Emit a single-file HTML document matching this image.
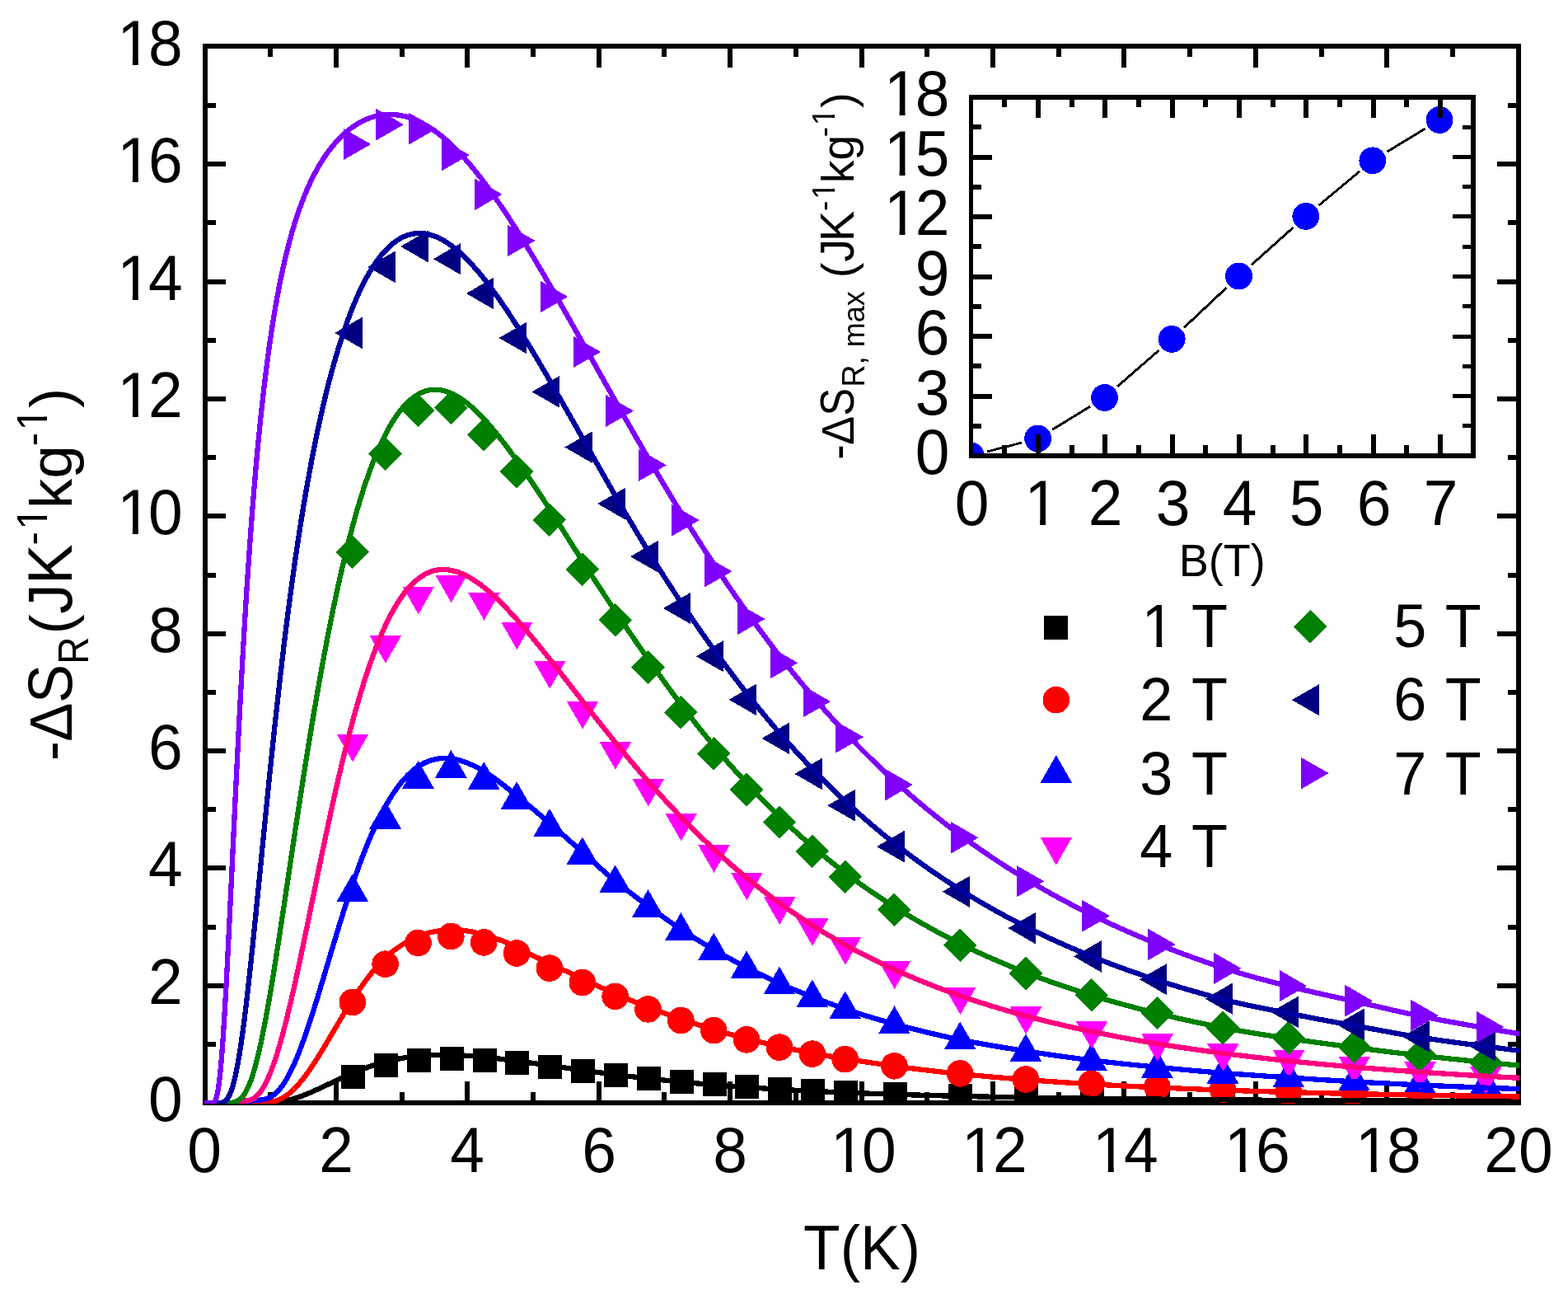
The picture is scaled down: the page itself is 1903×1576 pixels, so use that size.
<!DOCTYPE html>
<html lang="en"><head><meta charset="utf-8"><title>Rotating magnetocaloric effect: -ΔS_R vs T</title>
<style>html,body{margin:0;padding:0;background:#fff;}svg{display:block;}text{font-family:'Liberation Sans', sans-serif;fill:#000;}</style>
</head><body>
<svg width="1903" height="1576" viewBox="0 0 1903 1576" role="img" aria-label="Rotating magnetocaloric entropy change versus temperature">
<rect x="0" y="0" width="1903" height="1576" fill="#ffffff"/>
<g id="main-axes" shape-rendering="crispEdges" fill="#000">
<rect x="246" y="53" width="1600" height="6"/>
<rect x="246" y="1335" width="1600" height="6"/>
<rect x="246" y="53" width="6" height="1288"/>
<rect x="1840" y="53" width="6" height="1288"/>
<rect x="325" y="56" width="6" height="13"/>
<rect x="325" y="1325" width="6" height="13"/>
<rect x="405" y="56" width="6" height="26"/>
<rect x="405" y="1312" width="6" height="26"/>
<rect x="485" y="56" width="6" height="13"/>
<rect x="485" y="1325" width="6" height="13"/>
<rect x="564" y="56" width="6" height="26"/>
<rect x="564" y="1312" width="6" height="26"/>
<rect x="644" y="56" width="6" height="13"/>
<rect x="644" y="1325" width="6" height="13"/>
<rect x="724" y="56" width="6" height="26"/>
<rect x="724" y="1312" width="6" height="26"/>
<rect x="803" y="56" width="6" height="13"/>
<rect x="803" y="1325" width="6" height="13"/>
<rect x="883" y="56" width="6" height="26"/>
<rect x="883" y="1312" width="6" height="26"/>
<rect x="963" y="56" width="6" height="13"/>
<rect x="963" y="1325" width="6" height="13"/>
<rect x="1043" y="56" width="6" height="26"/>
<rect x="1043" y="1312" width="6" height="26"/>
<rect x="1122" y="56" width="6" height="13"/>
<rect x="1122" y="1325" width="6" height="13"/>
<rect x="1202" y="56" width="6" height="26"/>
<rect x="1202" y="1312" width="6" height="26"/>
<rect x="1282" y="56" width="6" height="13"/>
<rect x="1282" y="1325" width="6" height="13"/>
<rect x="1361" y="56" width="6" height="26"/>
<rect x="1361" y="1312" width="6" height="26"/>
<rect x="1441" y="56" width="6" height="13"/>
<rect x="1441" y="1325" width="6" height="13"/>
<rect x="1521" y="56" width="6" height="26"/>
<rect x="1521" y="1312" width="6" height="26"/>
<rect x="1601" y="56" width="6" height="13"/>
<rect x="1601" y="1325" width="6" height="13"/>
<rect x="1680" y="56" width="6" height="26"/>
<rect x="1680" y="1312" width="6" height="26"/>
<rect x="1760" y="56" width="6" height="13"/>
<rect x="1760" y="1325" width="6" height="13"/>
<rect x="249" y="1264" width="13" height="6"/>
<rect x="1830" y="1264" width="13" height="6"/>
<rect x="249" y="1193" width="25" height="6"/>
<rect x="1817" y="1193" width="26" height="6"/>
<rect x="249" y="1122" width="13" height="6"/>
<rect x="1830" y="1122" width="13" height="6"/>
<rect x="249" y="1050" width="25" height="6"/>
<rect x="1817" y="1050" width="26" height="6"/>
<rect x="249" y="979" width="13" height="6"/>
<rect x="1830" y="979" width="13" height="6"/>
<rect x="249" y="908" width="25" height="6"/>
<rect x="1817" y="908" width="26" height="6"/>
<rect x="249" y="837" width="13" height="6"/>
<rect x="1830" y="837" width="13" height="6"/>
<rect x="249" y="766" width="25" height="6"/>
<rect x="1817" y="766" width="26" height="6"/>
<rect x="249" y="695" width="13" height="6"/>
<rect x="1830" y="695" width="13" height="6"/>
<rect x="249" y="623" width="25" height="6"/>
<rect x="1817" y="623" width="26" height="6"/>
<rect x="249" y="552" width="13" height="6"/>
<rect x="1830" y="552" width="13" height="6"/>
<rect x="249" y="481" width="25" height="6"/>
<rect x="1817" y="481" width="26" height="6"/>
<rect x="249" y="410" width="13" height="6"/>
<rect x="1830" y="410" width="13" height="6"/>
<rect x="249" y="339" width="25" height="6"/>
<rect x="1817" y="339" width="26" height="6"/>
<rect x="249" y="267" width="13" height="6"/>
<rect x="1830" y="267" width="13" height="6"/>
<rect x="249" y="196" width="25" height="6"/>
<rect x="1817" y="196" width="26" height="6"/>
<rect x="249" y="125" width="13" height="6"/>
<rect x="1830" y="125" width="13" height="6"/>
</g>
<defs><clipPath id="clipI"><rect x="1181" y="121" width="604" height="429"/></clipPath>
<clipPath id="clipM"><rect x="248" y="55" width="1596" height="1284"/></clipPath></defs>
<g id="inset-data" clip-path="url(#clipI)" shape-rendering="crispEdges">
<line x1="1198.35" y1="547.86" x2="1239.75" y2="537.14" stroke="#000" stroke-width="2.9"/>
<line x1="1277.08" y1="521.29" x2="1323.12" y2="493.11" stroke="#000" stroke-width="2.9"/>
<line x1="1356.07" y1="468.94" x2="1406.73" y2="424.86" stroke="#000" stroke-width="2.9"/>
<line x1="1437.14" y1="397.36" x2="1488.56" y2="349.04" stroke="#000" stroke-width="2.9"/>
<line x1="1518.79" y1="321.35" x2="1569.51" y2="276.05" stroke="#000" stroke-width="2.9"/>
<line x1="1600.54" y1="249.26" x2="1650.06" y2="207.94" stroke="#000" stroke-width="2.9"/>
<line x1="1683.33" y1="184.17" x2="1729.57" y2="156.13" stroke="#000" stroke-width="2.9"/>
<circle cx="1178.5" cy="553" r="16.4" fill="#0000ff"/>
<circle cx="1259.6" cy="532" r="16.4" fill="#0000ff"/>
<circle cx="1340.6" cy="482.4" r="16.4" fill="#0000ff"/>
<circle cx="1422.2" cy="411.4" r="16.4" fill="#0000ff"/>
<circle cx="1503.5" cy="335" r="16.4" fill="#0000ff"/>
<circle cx="1584.8" cy="262.4" r="16.4" fill="#0000ff"/>
<circle cx="1665.8" cy="194.8" r="16.4" fill="#0000ff"/>
<circle cx="1747.1" cy="145.5" r="16.4" fill="#0000ff"/>
</g>
<g id="inset-axes" shape-rendering="crispEdges" fill="#000">
<rect x="1176" y="115" width="615" height="6"/>
<rect x="1176" y="550" width="615" height="6"/>
<rect x="1176" y="115" width="5" height="441"/>
<rect x="1785" y="115" width="6" height="441"/>
<rect x="1216" y="118" width="6" height="12"/>
<rect x="1216" y="540" width="6" height="13"/>
<rect x="1257" y="118" width="6" height="25"/>
<rect x="1257" y="527" width="6" height="26"/>
<rect x="1298" y="118" width="6" height="12"/>
<rect x="1298" y="540" width="6" height="13"/>
<rect x="1338" y="118" width="6" height="25"/>
<rect x="1338" y="527" width="6" height="26"/>
<rect x="1379" y="118" width="6" height="12"/>
<rect x="1379" y="540" width="6" height="13"/>
<rect x="1420" y="118" width="6" height="25"/>
<rect x="1420" y="527" width="6" height="26"/>
<rect x="1460" y="118" width="6" height="12"/>
<rect x="1460" y="540" width="6" height="13"/>
<rect x="1501" y="118" width="6" height="25"/>
<rect x="1501" y="527" width="6" height="26"/>
<rect x="1542" y="118" width="6" height="12"/>
<rect x="1542" y="540" width="6" height="13"/>
<rect x="1582" y="118" width="6" height="25"/>
<rect x="1582" y="527" width="6" height="26"/>
<rect x="1623" y="118" width="6" height="12"/>
<rect x="1623" y="540" width="6" height="13"/>
<rect x="1664" y="118" width="6" height="25"/>
<rect x="1664" y="527" width="6" height="26"/>
<rect x="1704" y="118" width="6" height="12"/>
<rect x="1704" y="540" width="6" height="13"/>
<rect x="1745" y="118" width="6" height="25"/>
<rect x="1745" y="527" width="6" height="26"/>
<rect x="1178" y="514" width="13" height="5.6"/>
<rect x="1775" y="514" width="13" height="5"/>
<rect x="1178" y="478" width="25.5" height="5.6"/>
<rect x="1763" y="478" width="25" height="5"/>
<rect x="1178" y="441" width="13" height="5.6"/>
<rect x="1775" y="442" width="13" height="5"/>
<rect x="1178" y="405" width="25.5" height="5.6"/>
<rect x="1763" y="406" width="25" height="5"/>
<rect x="1178" y="369" width="13" height="5.6"/>
<rect x="1775" y="369" width="13" height="5"/>
<rect x="1178" y="333" width="25.5" height="5.6"/>
<rect x="1763" y="333" width="25" height="5"/>
<rect x="1178" y="296" width="13" height="5.6"/>
<rect x="1775" y="297" width="13" height="5"/>
<rect x="1178" y="260" width="25.5" height="5.6"/>
<rect x="1763" y="260" width="25" height="5"/>
<rect x="1178" y="224" width="13" height="5.6"/>
<rect x="1775" y="224" width="13" height="5"/>
<rect x="1178" y="188" width="25.5" height="5.6"/>
<rect x="1763" y="188" width="25" height="5"/>
<rect x="1178" y="151" width="13" height="5.6"/>
<rect x="1775" y="152" width="13" height="5"/>
</g>
<g id="main-data" clip-path="url(#clipM)" shape-rendering="crispEdges">
<g id="m1T">
<rect x="414.07" y="1291.9" width="29" height="29" fill="#000000"/>
<rect x="453.93" y="1277.8" width="29" height="29" fill="#000000"/>
<rect x="493.79" y="1271.9" width="29" height="29" fill="#000000"/>
<rect x="533.65" y="1270" width="29" height="29" fill="#000000"/>
<rect x="573.51" y="1271.9" width="29" height="29" fill="#000000"/>
<rect x="613.37" y="1274.8" width="29" height="29" fill="#000000"/>
<rect x="653.23" y="1280" width="29" height="29" fill="#000000"/>
<rect x="693.09" y="1284.8" width="29" height="29" fill="#000000"/>
<rect x="732.95" y="1290.1" width="29" height="29" fill="#000000"/>
<rect x="772.81" y="1293.8" width="29" height="29" fill="#000000"/>
<rect x="812.67" y="1298" width="29" height="29" fill="#000000"/>
<rect x="852.53" y="1301" width="29" height="29" fill="#000000"/>
<rect x="892.39" y="1304" width="29" height="29" fill="#000000"/>
<rect x="932.25" y="1306.9" width="29" height="29" fill="#000000"/>
<rect x="972.11" y="1309" width="29" height="29" fill="#000000"/>
<rect x="1011.97" y="1311" width="29" height="29" fill="#000000"/>
<rect x="1071.76" y="1312.8" width="29" height="29" fill="#000000"/>
<rect x="1151.48" y="1314.9" width="29" height="29" fill="#000000"/>
<rect x="1231.2" y="1316.5" width="29" height="29" fill="#000000"/>
<rect x="1310.92" y="1317.7" width="29" height="29" fill="#000000"/>
<rect x="1390.64" y="1318.7" width="29" height="29" fill="#000000"/>
<rect x="1470.36" y="1319.5" width="29" height="29" fill="#000000"/>
<rect x="1550.08" y="1320.1" width="29" height="29" fill="#000000"/>
<rect x="1629.8" y="1320.6" width="29" height="29" fill="#000000"/>
<rect x="1709.52" y="1321" width="29" height="29" fill="#000000"/>
<rect x="1789.24" y="1321.3" width="29" height="29" fill="#000000"/>
</g>
<g id="m2T">
<circle cx="427.77" cy="1216" r="16.3" fill="#ff0000"/>
<circle cx="467.63" cy="1169.7" r="16.3" fill="#ff0000"/>
<circle cx="507.49" cy="1144" r="16.3" fill="#ff0000"/>
<circle cx="547.35" cy="1136" r="16.3" fill="#ff0000"/>
<circle cx="587.21" cy="1143.4" r="16.3" fill="#ff0000"/>
<circle cx="627.07" cy="1156.5" r="16.3" fill="#ff0000"/>
<circle cx="666.93" cy="1174.6" r="16.3" fill="#ff0000"/>
<circle cx="706.79" cy="1192" r="16.3" fill="#ff0000"/>
<circle cx="746.65" cy="1208.8" r="16.3" fill="#ff0000"/>
<circle cx="786.51" cy="1224.4" r="16.3" fill="#ff0000"/>
<circle cx="826.37" cy="1238" r="16.3" fill="#ff0000"/>
<circle cx="866.23" cy="1250.2" r="16.3" fill="#ff0000"/>
<circle cx="906.09" cy="1261.4" r="16.3" fill="#ff0000"/>
<circle cx="945.95" cy="1270.6" r="16.3" fill="#ff0000"/>
<circle cx="985.81" cy="1278.6" r="16.3" fill="#ff0000"/>
<circle cx="1025.67" cy="1285.1" r="16.3" fill="#ff0000"/>
<circle cx="1085.46" cy="1293.3" r="16.3" fill="#ff0000"/>
<circle cx="1165.18" cy="1302.4" r="16.3" fill="#ff0000"/>
<circle cx="1244.9" cy="1309.5" r="16.3" fill="#ff0000"/>
<circle cx="1324.62" cy="1314.8" r="16.3" fill="#ff0000"/>
<circle cx="1404.34" cy="1318.5" r="16.3" fill="#ff0000"/>
<circle cx="1484.06" cy="1321.7" r="16.3" fill="#ff0000"/>
<circle cx="1563.78" cy="1324.5" r="16.3" fill="#ff0000"/>
<circle cx="1643.5" cy="1326.5" r="16.3" fill="#ff0000"/>
<circle cx="1723.22" cy="1328" r="16.3" fill="#ff0000"/>
<circle cx="1802.94" cy="1329.5" r="16.3" fill="#ff0000"/>
</g>
<g id="m3T">
<polygon points="408.47,1093.8 447.07,1093.8 427.77,1060.2" fill="#0000ff"/>
<polygon points="448.33,1005.5 486.93,1005.5 467.63,971.9" fill="#0000ff"/>
<polygon points="488.19,956.5 526.79,956.5 507.49,922.9" fill="#0000ff"/>
<polygon points="528.05,943.5 566.65,943.5 547.35,909.9" fill="#0000ff"/>
<polygon points="567.91,957.6 606.51,957.6 587.21,924" fill="#0000ff"/>
<polygon points="607.77,981.7 646.37,981.7 627.07,948.1" fill="#0000ff"/>
<polygon points="647.63,1014.6 686.23,1014.6 666.93,981" fill="#0000ff"/>
<polygon points="687.49,1048.9 726.09,1048.9 706.79,1015.3" fill="#0000ff"/>
<polygon points="727.35,1082.9 765.95,1082.9 746.65,1049.3" fill="#0000ff"/>
<polygon points="767.21,1112.7 805.81,1112.7 786.51,1079.1" fill="#0000ff"/>
<polygon points="807.07,1140.8 845.67,1140.8 826.37,1107.2" fill="#0000ff"/>
<polygon points="846.93,1165.3 885.53,1165.3 866.23,1131.7" fill="#0000ff"/>
<polygon points="886.79,1186.9 925.39,1186.9 906.09,1153.3" fill="#0000ff"/>
<polygon points="926.65,1206.3 965.25,1206.3 945.95,1172.7" fill="#0000ff"/>
<polygon points="966.51,1222.1 1005.11,1222.1 985.81,1188.5" fill="#0000ff"/>
<polygon points="1006.37,1236.1 1044.97,1236.1 1025.67,1202.5" fill="#0000ff"/>
<polygon points="1066.16,1254 1104.76,1254 1085.46,1220.4" fill="#0000ff"/>
<polygon points="1145.88,1273.1 1184.48,1273.1 1165.18,1239.5" fill="#0000ff"/>
<polygon points="1225.6,1287.8 1264.2,1287.8 1244.9,1254.2" fill="#0000ff"/>
<polygon points="1305.32,1299.2 1343.92,1299.2 1324.62,1265.6" fill="#0000ff"/>
<polygon points="1385.04,1307.7 1423.64,1307.7 1404.34,1274.1" fill="#0000ff"/>
<polygon points="1464.76,1314.5 1503.36,1314.5 1484.06,1280.9" fill="#0000ff"/>
<polygon points="1544.48,1319.2 1583.08,1319.2 1563.78,1285.6" fill="#0000ff"/>
<polygon points="1624.2,1323.4 1662.8,1323.4 1643.5,1289.8" fill="#0000ff"/>
<polygon points="1703.92,1326.2 1742.52,1326.2 1723.22,1292.6" fill="#0000ff"/>
<polygon points="1783.64,1327.7 1822.24,1327.7 1802.94,1294.1" fill="#0000ff"/>
</g>
<g id="m4T">
<polygon points="408.77,890.7 447.37,890.7 428.07,924.3" fill="#ff00ff"/>
<polygon points="448.63,771.1 487.23,771.1 467.93,804.7" fill="#ff00ff"/>
<polygon points="488.49,711.7 527.09,711.7 507.79,745.3" fill="#ff00ff"/>
<polygon points="528.35,697.6 566.95,697.6 547.65,731.2" fill="#ff00ff"/>
<polygon points="568.21,719 606.81,719 587.51,752.6" fill="#ff00ff"/>
<polygon points="608.07,754.5 646.67,754.5 627.37,788.1" fill="#ff00ff"/>
<polygon points="647.93,802.1 686.53,802.1 667.23,835.7" fill="#ff00ff"/>
<polygon points="687.79,850.9 726.39,850.9 707.09,884.5" fill="#ff00ff"/>
<polygon points="727.65,900.1 766.25,900.1 746.95,933.7" fill="#ff00ff"/>
<polygon points="767.51,944.8 806.11,944.8 786.81,978.4" fill="#ff00ff"/>
<polygon points="807.37,986.8 845.97,986.8 826.67,1020.4" fill="#ff00ff"/>
<polygon points="847.23,1025.1 885.83,1025.1 866.53,1058.7" fill="#ff00ff"/>
<polygon points="887.09,1058.8 925.69,1058.8 906.39,1092.4" fill="#ff00ff"/>
<polygon points="926.95,1088.2 965.55,1088.2 946.25,1121.8" fill="#ff00ff"/>
<polygon points="966.81,1114.3 1005.41,1114.3 986.11,1147.9" fill="#ff00ff"/>
<polygon points="1006.67,1137.1 1045.27,1137.1 1025.97,1170.7" fill="#ff00ff"/>
<polygon points="1066.46,1166.4 1105.06,1166.4 1085.76,1200" fill="#ff00ff"/>
<polygon points="1146.18,1197.5 1184.78,1197.5 1165.48,1231.1" fill="#ff00ff"/>
<polygon points="1225.9,1221.2 1264.5,1221.2 1245.2,1254.8" fill="#ff00ff"/>
<polygon points="1305.62,1239.1 1344.22,1239.1 1324.92,1272.7" fill="#ff00ff"/>
<polygon points="1385.34,1254.2 1423.94,1254.2 1404.64,1287.8" fill="#ff00ff"/>
<polygon points="1465.06,1266.2 1503.66,1266.2 1484.36,1299.8" fill="#ff00ff"/>
<polygon points="1544.78,1274.2 1583.38,1274.2 1564.08,1307.8" fill="#ff00ff"/>
<polygon points="1624.5,1282 1663.1,1282 1643.8,1315.6" fill="#ff00ff"/>
<polygon points="1704.22,1288.2 1742.82,1288.2 1723.52,1321.8" fill="#ff00ff"/>
<polygon points="1783.94,1294 1822.54,1294 1803.24,1327.6" fill="#ff00ff"/>
</g>
<g id="m5T">
<polygon points="407.47,669.6 427.77,649.3 448.07,669.6 427.77,689.9" fill="#008000"/>
<polygon points="447.33,550.4 467.63,530.1 487.93,550.4 467.63,570.7" fill="#008000"/>
<polygon points="487.19,497.9 507.49,477.6 527.79,497.9 507.49,518.2" fill="#008000"/>
<polygon points="527.05,494.7 547.35,474.4 567.65,494.7 547.35,515" fill="#008000"/>
<polygon points="566.91,527.1 587.21,506.8 607.51,527.1 587.21,547.4" fill="#008000"/>
<polygon points="606.77,572.2 627.07,551.9 647.37,572.2 627.07,592.5" fill="#008000"/>
<polygon points="646.63,630.7 666.93,610.4 687.23,630.7 666.93,651" fill="#008000"/>
<polygon points="686.49,690.9 706.79,670.6 727.09,690.9 706.79,711.2" fill="#008000"/>
<polygon points="726.35,752.2 746.65,731.9 766.95,752.2 746.65,772.5" fill="#008000"/>
<polygon points="766.21,809.5 786.51,789.2 806.81,809.5 786.51,829.8" fill="#008000"/>
<polygon points="806.07,864.1 826.37,843.8 846.67,864.1 826.37,884.4" fill="#008000"/>
<polygon points="845.93,914.1 866.23,893.8 886.53,914.1 866.23,934.4" fill="#008000"/>
<polygon points="885.79,958.1 906.09,937.8 926.39,958.1 906.09,978.4" fill="#008000"/>
<polygon points="925.65,997.6 945.95,977.3 966.25,997.6 945.95,1017.9" fill="#008000"/>
<polygon points="965.51,1032.9 985.81,1012.6 1006.11,1032.9 985.81,1053.2" fill="#008000"/>
<polygon points="1005.37,1063.8 1025.67,1043.5 1045.97,1063.8 1025.67,1084.1" fill="#008000"/>
<polygon points="1065.16,1103.8 1085.46,1083.5 1105.76,1103.8 1085.46,1124.1" fill="#008000"/>
<polygon points="1144.88,1146.8 1165.18,1126.5 1185.48,1146.8 1165.18,1167.1" fill="#008000"/>
<polygon points="1224.6,1180.9 1244.9,1160.6 1265.2,1180.9 1244.9,1201.2" fill="#008000"/>
<polygon points="1304.32,1207.1 1324.62,1186.8 1344.92,1207.1 1324.62,1227.4" fill="#008000"/>
<polygon points="1384.04,1229 1404.34,1208.7 1424.64,1229 1404.34,1249.3" fill="#008000"/>
<polygon points="1463.76,1247.1 1484.06,1226.8 1504.36,1247.1 1484.06,1267.4" fill="#008000"/>
<polygon points="1543.48,1259.1 1563.78,1238.8 1584.08,1259.1 1563.78,1279.4" fill="#008000"/>
<polygon points="1623.2,1270.2 1643.5,1249.9 1663.8,1270.2 1643.5,1290.5" fill="#008000"/>
<polygon points="1702.92,1280.3 1723.22,1260 1743.52,1280.3 1723.22,1300.6" fill="#008000"/>
<polygon points="1782.64,1288.8 1802.94,1268.5 1823.24,1288.8 1802.94,1309.1" fill="#008000"/>
</g>
<g id="m6T">
<polygon points="439.87,384.7 439.87,423.3 406.27,404" fill="#000080"/>
<polygon points="479.73,304.6 479.73,343.2 446.13,323.9" fill="#000080"/>
<polygon points="519.59,279.7 519.59,318.3 485.99,299" fill="#000080"/>
<polygon points="559.45,294.9 559.45,333.5 525.85,314.2" fill="#000080"/>
<polygon points="599.31,336.7 599.31,375.3 565.71,356" fill="#000080"/>
<polygon points="639.17,390.7 639.17,429.3 605.57,410" fill="#000080"/>
<polygon points="679.03,456.1 679.03,494.7 645.43,475.4" fill="#000080"/>
<polygon points="718.89,523.3 718.89,561.9 685.29,542.6" fill="#000080"/>
<polygon points="758.75,591.8 758.75,630.4 725.15,611.1" fill="#000080"/>
<polygon points="798.61,655.9 798.61,694.5 765.01,675.2" fill="#000080"/>
<polygon points="838.47,718.7 838.47,757.3 804.87,738" fill="#000080"/>
<polygon points="878.33,776.9 878.33,815.5 844.73,796.2" fill="#000080"/>
<polygon points="918.19,829.6 918.19,868.2 884.59,848.9" fill="#000080"/>
<polygon points="958.05,876.5 958.05,915.1 924.45,895.8" fill="#000080"/>
<polygon points="997.91,919.6 997.91,958.2 964.31,938.9" fill="#000080"/>
<polygon points="1037.77,957.9 1037.77,996.5 1004.17,977.2" fill="#000080"/>
<polygon points="1097.56,1007.8 1097.56,1046.4 1063.96,1027.1" fill="#000080"/>
<polygon points="1177.28,1062.5 1177.28,1101.1 1143.68,1081.8" fill="#000080"/>
<polygon points="1257,1106.8 1257,1145.4 1223.4,1126.1" fill="#000080"/>
<polygon points="1336.72,1141.1 1336.72,1179.7 1303.12,1160.4" fill="#000080"/>
<polygon points="1416.44,1168.9 1416.44,1207.5 1382.84,1188.2" fill="#000080"/>
<polygon points="1496.16,1192.4 1496.16,1231 1462.56,1211.7" fill="#000080"/>
<polygon points="1575.88,1208.6 1575.88,1247.2 1542.28,1227.9" fill="#000080"/>
<polygon points="1655.6,1223.6 1655.6,1262.2 1622,1242.9" fill="#000080"/>
<polygon points="1735.32,1238.3 1735.32,1276.9 1701.72,1257.6" fill="#000080"/>
<polygon points="1815.04,1249 1815.04,1287.6 1781.44,1268.3" fill="#000080"/>
</g>
<g id="m7T">
<polygon points="416.57,155.7 416.57,194.3 450.17,175" fill="#8000ff"/>
<polygon points="456.43,131.8 456.43,170.4 490.03,151.1" fill="#8000ff"/>
<polygon points="496.29,136.9 496.29,175.5 529.89,156.2" fill="#8000ff"/>
<polygon points="536.15,168.7 536.15,207.3 569.75,188" fill="#8000ff"/>
<polygon points="576.01,216.5 576.01,255.1 609.61,235.8" fill="#8000ff"/>
<polygon points="615.87,272.7 615.87,311.3 649.47,292" fill="#8000ff"/>
<polygon points="655.73,340.7 655.73,379.3 689.33,360" fill="#8000ff"/>
<polygon points="695.59,407.7 695.59,446.3 729.19,427" fill="#8000ff"/>
<polygon points="735.45,479.2 735.45,517.8 769.05,498.5" fill="#8000ff"/>
<polygon points="775.31,545.1 775.31,583.7 808.91,564.4" fill="#8000ff"/>
<polygon points="815.17,611.9 815.17,650.5 848.77,631.2" fill="#8000ff"/>
<polygon points="855.03,673.9 855.03,712.5 888.63,693.2" fill="#8000ff"/>
<polygon points="894.89,731.7 894.89,770.3 928.49,751" fill="#8000ff"/>
<polygon points="934.75,784.9 934.75,823.5 968.35,804.2" fill="#8000ff"/>
<polygon points="974.61,831.8 974.61,870.4 1008.21,851.1" fill="#8000ff"/>
<polygon points="1014.47,874.9 1014.47,913.5 1048.07,894.2" fill="#8000ff"/>
<polygon points="1074.26,932.8 1074.26,971.4 1107.86,952.1" fill="#8000ff"/>
<polygon points="1153.98,997 1153.98,1035.6 1187.58,1016.3" fill="#8000ff"/>
<polygon points="1233.7,1049.9 1233.7,1088.5 1267.3,1069.2" fill="#8000ff"/>
<polygon points="1313.42,1091.9 1313.42,1130.5 1347.02,1111.2" fill="#8000ff"/>
<polygon points="1393.14,1126.6 1393.14,1165.2 1426.74,1145.9" fill="#8000ff"/>
<polygon points="1472.86,1155.6 1472.86,1194.2 1506.46,1174.9" fill="#8000ff"/>
<polygon points="1552.58,1176.8 1552.58,1215.4 1586.18,1196.1" fill="#8000ff"/>
<polygon points="1632.3,1194.9 1632.3,1233.5 1665.9,1214.2" fill="#8000ff"/>
<polygon points="1712.02,1212.7 1712.02,1251.3 1745.62,1232" fill="#8000ff"/>
<polygon points="1791.74,1226.8 1791.74,1265.4 1825.34,1246.1" fill="#8000ff"/>
</g>
<path id="c1T" d="M248.4 1338.2 L250.4 1338.2 L252.41 1338.2 L254.41 1338.2 L256.41 1338.2 L258.42 1338.2 L260.42 1338.2 L262.42 1338.2 L264.43 1338.2 L266.43 1338.2 L268.43 1338.2 L270.44 1338.2 L272.44 1338.2 L274.45 1338.2 L276.45 1338.2 L278.45 1338.2 L280.46 1338.21 L282.46 1338.21 L284.46 1338.22 L286.47 1338.23 L288.47 1338.25 L290.47 1338.27 L292.48 1338.3 L294.48 1338.34 L296.48 1338.38 L298.49 1338.43 L300.49 1338.48 L302.49 1338.53 L304.5 1338.59 L306.5 1338.64 L308.5 1338.69 L310.51 1338.73 L312.51 1338.76 L314.51 1338.78 L316.52 1338.78 L318.52 1338.76 L320.52 1338.73 L322.53 1338.67 L324.53 1338.59 L326.54 1338.48 L328.54 1338.34 L330.54 1338.17 L332.55 1337.97 L334.55 1337.74 L336.55 1337.47 L338.56 1337.17 L340.56 1336.84 L342.56 1336.47 L344.57 1336.07 L346.57 1335.63 L348.57 1335.16 L350.58 1334.65 L352.58 1334.11 L354.58 1333.54 L356.59 1332.94 L358.59 1332.31 L360.59 1331.65 L362.6 1330.96 L364.6 1330.25 L366.6 1329.51 L368.61 1328.75 L370.61 1327.96 L372.61 1327.16 L374.62 1326.33 L376.62 1325.49 L378.63 1324.63 L380.63 1323.75 L382.63 1322.86 L384.64 1321.96 L386.64 1321.05 L388.64 1320.13 L390.65 1319.2 L392.65 1318.27 L394.65 1317.33 L396.66 1316.39 L398.66 1315.44 L400.66 1314.5 L402.67 1313.55 L404.67 1312.61 L406.67 1311.67 L408.68 1310.73 L410.68 1309.8 L412.68 1308.87 L414.69 1307.95 L416.69 1307.04 L418.69 1306.13 L420.7 1305.24 L422.7 1304.36 L424.7 1303.48 L426.71 1302.62 L428.71 1301.77 L430.72 1300.93 L432.72 1300.11 L434.72 1299.3 L436.73 1298.51 L438.73 1297.73 L440.73 1296.96 L442.74 1296.21 L444.74 1295.48 L446.74 1294.76 L448.75 1294.06 L450.75 1293.38 L452.75 1292.71 L454.76 1292.06 L456.76 1291.43 L458.76 1290.82 L460.77 1290.22 L462.77 1289.64 L464.77 1289.08 L466.78 1288.53 L468.78 1288.01 L470.78 1287.5 L472.79 1287.01 L474.79 1286.54 L476.8 1286.08 L478.8 1285.65 L480.8 1285.23 L482.81 1284.82 L484.81 1284.44 L486.81 1284.07 L488.82 1283.72 L490.82 1283.38 L492.82 1283.07 L494.83 1282.76 L496.83 1282.48 L498.83 1282.21 L500.84 1281.96 L502.84 1281.72 L504.84 1281.49 L506.85 1281.29 L508.85 1281.09 L510.85 1280.92 L512.86 1280.75 L514.86 1280.6 L516.86 1280.47 L518.87 1280.34 L520.87 1280.24 L522.87 1280.14 L524.88 1280.06 L526.88 1279.99 L528.89 1279.93 L530.89 1279.88 L532.89 1279.85 L534.9 1279.83 L536.9 1279.82 L538.9 1279.82 L540.91 1279.83 L542.91 1279.85 L544.91 1279.88 L546.92 1279.93 L548.92 1279.98 L550.92 1280.04 L552.93 1280.11 L554.93 1280.19 L556.93 1280.28 L558.94 1280.38 L560.94 1280.48 L562.94 1280.59 L564.95 1280.72 L566.95 1280.84 L568.95 1280.98 L570.96 1281.12 L572.96 1281.27 L574.96 1281.43 L576.97 1281.59 L578.97 1281.76 L580.98 1281.94 L582.98 1282.12 L584.98 1282.31 L586.99 1282.5 L588.99 1282.7 L590.99 1282.9 L593 1283.11 L595 1283.33 L597 1283.54 L599.01 1283.76 L601.01 1283.99 L603.01 1284.22 L605.02 1284.45 L607.02 1284.69 L609.02 1284.93 L611.03 1285.18 L613.03 1285.42 L615.03 1285.67 L617.04 1285.93 L619.04 1286.18 L621.04 1286.44 L623.05 1286.7 L625.05 1286.97 L627.06 1287.23 L629.06 1287.5 L631.06 1287.77 L633.07 1288.04 L635.07 1288.32 L637.07 1288.59 L639.08 1288.87 L641.08 1289.15 L643.08 1289.42 L645.09 1289.7 L647.09 1289.99 L649.09 1290.27 L651.1 1290.55 L653.1 1290.84 L655.1 1291.12 L657.11 1291.41 L659.11 1291.69 L661.11 1291.98 L663.12 1292.26 L665.12 1292.55 L667.12 1292.84 L669.13 1293.12 L671.13 1293.41 L673.13 1293.7 L675.14 1293.98 L677.14 1294.27 L679.15 1294.56 L681.15 1294.84 L683.15 1295.13 L685.16 1295.41 L687.16 1295.7 L689.16 1295.98 L691.17 1296.27 L693.17 1296.55 L695.17 1296.83 L697.18 1297.12 L699.18 1297.4 L701.18 1297.68 L703.19 1297.96 L705.19 1298.24 L707.19 1298.51 L709.2 1298.79 L711.2 1299.07 L713.2 1299.34 L715.21 1299.61 L717.21 1299.89 L719.21 1300.16 L721.22 1300.43 L723.22 1300.7 L725.22 1300.96 L727.23 1301.23 L729.23 1301.5 L731.24 1301.76 L733.24 1302.02 L735.24 1302.28 L737.25 1302.54 L739.25 1302.8 L741.25 1303.06 L743.26 1303.32 L745.26 1303.57 L747.26 1303.82 L749.27 1304.08 L751.27 1304.33 L753.27 1304.58 L755.28 1304.82 L757.28 1305.07 L759.28 1305.31 L761.29 1305.56 L763.29 1305.8 L765.29 1306.04 L767.3 1306.28 L769.3 1306.51 L771.3 1306.75 L773.31 1306.98 L775.31 1307.21 L777.31 1307.44 L779.32 1307.67 L781.32 1307.9 L783.33 1308.13 L785.33 1308.35 L787.33 1308.57 L789.34 1308.79 L791.34 1309.01 L793.34 1309.23 L795.35 1309.45 L797.35 1309.66 L799.35 1309.88 L801.36 1310.09 L803.36 1310.3 L805.36 1310.51 L807.37 1310.71 L809.37 1310.92 L811.37 1311.12 L813.38 1311.33 L815.38 1311.53 L817.38 1311.73 L819.39 1311.93 L821.39 1312.12 L823.39 1312.32 L825.4 1312.51 L827.4 1312.7 L829.41 1312.89 L831.41 1313.08 L833.41 1313.27 L835.42 1313.45 L837.42 1313.64 L839.42 1313.82 L841.43 1314 L843.43 1314.18 L845.43 1314.36 L847.44 1314.54 L849.44 1314.71 L851.44 1314.89 L853.45 1315.06 L855.45 1315.23 L857.45 1315.4 L859.46 1315.57 L861.46 1315.74 L863.46 1315.9 L865.47 1316.07 L867.47 1316.23 L869.47 1316.39 L871.48 1316.55 L873.48 1316.71 L875.48 1316.87 L877.49 1317.03 L879.49 1317.18 L881.5 1317.33 L883.5 1317.49 L885.5 1317.64 L887.51 1317.79 L889.51 1317.94 L891.51 1318.08 L893.52 1318.23 L895.52 1318.37 L897.52 1318.52 L899.53 1318.66 L901.53 1318.8 L903.53 1318.94 L905.54 1319.08 L907.54 1319.22 L909.54 1319.35 L911.55 1319.49 L913.55 1319.62 L915.55 1319.76 L917.56 1319.89 L919.56 1320.02 L921.56 1320.15 L923.57 1320.28 L925.57 1320.4 L927.57 1320.53 L929.58 1320.65 L931.58 1320.78 L933.59 1320.9 L935.59 1321.02 L937.59 1321.14 L939.6 1321.26 L941.6 1321.38 L943.6 1321.5 L945.61 1321.62 L947.61 1321.73 L949.61 1321.85 L951.62 1321.96 L953.62 1322.07 L955.62 1322.19 L957.63 1322.3 L959.63 1322.41 L961.63 1322.51 L963.64 1322.62 L965.64 1322.73 L967.64 1322.84 L969.65 1322.94 L971.65 1323.05 L973.65 1323.15 L975.66 1323.25 L977.66 1323.35 L979.67 1323.45 L981.67 1323.55 L983.67 1323.65 L985.68 1323.75 L987.68 1323.85 L989.68 1323.94 L991.69 1324.04 L993.69 1324.13 L995.69 1324.23 L997.7 1324.32 L999.7 1324.41 L1001.7 1324.51 L1003.71 1324.6 L1005.71 1324.69 L1007.71 1324.78 L1009.72 1324.86 L1011.72 1324.95 L1013.72 1325.04 L1015.73 1325.12 L1017.73 1325.21 L1019.73 1325.3 L1021.74 1325.38 L1023.74 1325.46 L1025.74 1325.55 L1027.75 1325.63 L1029.75 1325.71 L1031.76 1325.79 L1033.76 1325.87 L1035.76 1325.95 L1037.77 1326.03 L1039.77 1326.1 L1041.77 1326.18 L1043.78 1326.26 L1045.78 1326.33 L1047.78 1326.41 L1049.79 1326.48 L1051.79 1326.56 L1053.79 1326.63 L1055.8 1326.7 L1057.8 1326.78 L1059.8 1326.85 L1061.81 1326.92 L1063.81 1326.99 L1065.81 1327.06 L1067.82 1327.13 L1069.82 1327.2 L1071.82 1327.26 L1073.83 1327.33 L1075.83 1327.4 L1077.83 1327.47 L1079.84 1327.53 L1081.84 1327.6 L1083.85 1327.66 L1085.85 1327.73 L1087.85 1327.79 L1089.86 1327.85 L1091.86 1327.92 L1093.86 1327.98 L1095.87 1328.04 L1097.87 1328.1 L1099.87 1328.16 L1101.88 1328.22 L1103.88 1328.28 L1105.88 1328.34 L1107.89 1328.4 L1109.89 1328.46 L1111.89 1328.51 L1113.9 1328.57 L1115.9 1328.63 L1117.9 1328.68 L1119.91 1328.74 L1121.91 1328.8 L1123.91 1328.85 L1125.92 1328.91 L1127.92 1328.96 L1129.92 1329.01 L1131.93 1329.07 L1133.93 1329.12 L1135.94 1329.17 L1137.94 1329.22 L1139.94 1329.28 L1141.95 1329.33 L1143.95 1329.38 L1145.95 1329.43 L1147.96 1329.48 L1149.96 1329.53 L1151.96 1329.58 L1153.97 1329.63 L1155.97 1329.67 L1157.97 1329.72 L1159.98 1329.77 L1161.98 1329.82 L1163.98 1329.86 L1165.99 1329.91 L1167.99 1329.96 L1169.99 1330 L1172 1330.05 L1174 1330.09 L1176 1330.14 L1178.01 1330.18 L1180.01 1330.23 L1182.02 1330.27 L1184.02 1330.31 L1186.02 1330.36 L1188.03 1330.4 L1190.03 1330.44 L1192.03 1330.49 L1194.04 1330.53 L1196.04 1330.57 L1198.04 1330.61 L1200.05 1330.65 L1202.05 1330.69 L1204.05 1330.73 L1206.06 1330.77 L1208.06 1330.81 L1210.06 1330.85 L1212.07 1330.89 L1214.07 1330.93 L1216.07 1330.97 L1218.08 1331.01 L1220.08 1331.04 L1222.08 1331.08 L1224.09 1331.12 L1226.09 1331.16 L1228.09 1331.19 L1230.1 1331.23 L1232.1 1331.27 L1234.11 1331.3 L1236.11 1331.34 L1238.11 1331.37 L1240.12 1331.41 L1242.12 1331.44 L1244.12 1331.48 L1246.13 1331.51 L1248.13 1331.55 L1250.13 1331.58 L1252.14 1331.61 L1254.14 1331.65 L1256.14 1331.68 L1258.15 1331.71 L1260.15 1331.75 L1262.15 1331.78 L1264.16 1331.81 L1266.16 1331.84 L1268.16 1331.88 L1270.17 1331.91 L1272.17 1331.94 L1274.17 1331.97 L1276.18 1332 L1278.18 1332.03 L1280.18 1332.06 L1282.19 1332.09 L1284.19 1332.12 L1286.2 1332.15 L1288.2 1332.18 L1290.2 1332.21 L1292.21 1332.24 L1294.21 1332.27 L1296.21 1332.3 L1298.22 1332.33 L1300.22 1332.36 L1302.22 1332.38 L1304.23 1332.41 L1306.23 1332.44 L1308.23 1332.47 L1310.24 1332.5 L1312.24 1332.52 L1314.24 1332.55 L1316.25 1332.58 L1318.25 1332.6 L1320.25 1332.63 L1322.26 1332.66 L1324.26 1332.68 L1326.26 1332.71 L1328.27 1332.73 L1330.27 1332.76 L1332.28 1332.79 L1334.28 1332.81 L1336.28 1332.84 L1338.29 1332.86 L1340.29 1332.89 L1342.29 1332.91 L1344.3 1332.94 L1346.3 1332.96 L1348.3 1332.98 L1350.31 1333.01 L1352.31 1333.03 L1354.31 1333.06 L1356.32 1333.08 L1358.32 1333.1 L1360.32 1333.13 L1362.33 1333.15 L1364.33 1333.17 L1366.33 1333.19 L1368.34 1333.22 L1370.34 1333.24 L1372.34 1333.26 L1374.35 1333.28 L1376.35 1333.31 L1378.35 1333.33 L1380.36 1333.35 L1382.36 1333.37 L1384.37 1333.39 L1386.37 1333.41 L1388.37 1333.44 L1390.38 1333.46 L1392.38 1333.48 L1394.38 1333.5 L1396.39 1333.52 L1398.39 1333.54 L1400.39 1333.56 L1402.4 1333.58 L1404.4 1333.6 L1406.4 1333.62 L1408.41 1333.64 L1410.41 1333.66 L1412.41 1333.68 L1414.42 1333.7 L1416.42 1333.72 L1418.42 1333.74 L1420.43 1333.76 L1422.43 1333.78 L1424.43 1333.8 L1426.44 1333.81 L1428.44 1333.83 L1430.44 1333.85 L1432.45 1333.87 L1434.45 1333.89 L1436.46 1333.91 L1438.46 1333.93 L1440.46 1333.94 L1442.47 1333.96 L1444.47 1333.98 L1446.47 1334 L1448.48 1334.01 L1450.48 1334.03 L1452.48 1334.05 L1454.49 1334.07 L1456.49 1334.08 L1458.49 1334.1 L1460.5 1334.12 L1462.5 1334.13 L1464.5 1334.15 L1466.51 1334.17 L1468.51 1334.18 L1470.51 1334.2 L1472.52 1334.22 L1474.52 1334.23 L1476.52 1334.25 L1478.53 1334.27 L1480.53 1334.28 L1482.53 1334.3 L1484.54 1334.31 L1486.54 1334.33 L1488.55 1334.35 L1490.55 1334.36 L1492.55 1334.38 L1494.56 1334.39 L1496.56 1334.41 L1498.56 1334.42 L1500.57 1334.44 L1502.57 1334.45 L1504.57 1334.47 L1506.58 1334.48 L1508.58 1334.5 L1510.58 1334.51 L1512.59 1334.53 L1514.59 1334.54 L1516.59 1334.55 L1518.6 1334.57 L1520.6 1334.58 L1522.6 1334.6 L1524.61 1334.61 L1526.61 1334.63 L1528.61 1334.64 L1530.62 1334.65 L1532.62 1334.67 L1534.63 1334.68 L1536.63 1334.69 L1538.63 1334.71 L1540.64 1334.72 L1542.64 1334.74 L1544.64 1334.75 L1546.65 1334.76 L1548.65 1334.77 L1550.65 1334.79 L1552.66 1334.8 L1554.66 1334.81 L1556.66 1334.83 L1558.67 1334.84 L1560.67 1334.85 L1562.67 1334.86 L1564.68 1334.88 L1566.68 1334.89 L1568.68 1334.9 L1570.69 1334.91 L1572.69 1334.93 L1574.69 1334.94 L1576.7 1334.95 L1578.7 1334.96 L1580.7 1334.98 L1582.71 1334.99 L1584.71 1335 L1586.72 1335.01 L1588.72 1335.02 L1590.72 1335.03 L1592.73 1335.05 L1594.73 1335.06 L1596.73 1335.07 L1598.74 1335.08 L1600.74 1335.09 L1602.74 1335.1 L1604.75 1335.12 L1606.75 1335.13 L1608.75 1335.14 L1610.76 1335.15 L1612.76 1335.16 L1614.76 1335.17 L1616.77 1335.18 L1618.77 1335.19 L1620.77 1335.2 L1622.78 1335.21 L1624.78 1335.23 L1626.78 1335.24 L1628.79 1335.25 L1630.79 1335.26 L1632.79 1335.27 L1634.8 1335.28 L1636.8 1335.29 L1638.81 1335.3 L1640.81 1335.31 L1642.81 1335.32 L1644.82 1335.33 L1646.82 1335.34 L1648.82 1335.35 L1650.83 1335.36 L1652.83 1335.37 L1654.83 1335.38 L1656.84 1335.39 L1658.84 1335.4 L1660.84 1335.41 L1662.85 1335.42 L1664.85 1335.43 L1666.85 1335.44 L1668.86 1335.45 L1670.86 1335.46 L1672.86 1335.47 L1674.87 1335.48 L1676.87 1335.49 L1678.87 1335.49 L1680.88 1335.5 L1682.88 1335.51 L1684.89 1335.52 L1686.89 1335.53 L1688.89 1335.54 L1690.9 1335.55 L1692.9 1335.56 L1694.9 1335.57 L1696.91 1335.58 L1698.91 1335.59 L1700.91 1335.59 L1702.92 1335.6 L1704.92 1335.61 L1706.92 1335.62 L1708.93 1335.63 L1710.93 1335.64 L1712.93 1335.65 L1714.94 1335.65 L1716.94 1335.66 L1718.94 1335.67 L1720.95 1335.68 L1722.95 1335.69 L1724.95 1335.7 L1726.96 1335.7 L1728.96 1335.71 L1730.96 1335.72 L1732.97 1335.73 L1734.97 1335.74 L1736.98 1335.75 L1738.98 1335.75 L1740.98 1335.76 L1742.99 1335.77 L1744.99 1335.78 L1746.99 1335.79 L1749 1335.79 L1751 1335.8 L1753 1335.81 L1755.01 1335.82 L1757.01 1335.82 L1759.01 1335.83 L1761.02 1335.84 L1763.02 1335.85 L1765.02 1335.85 L1767.03 1335.86 L1769.03 1335.87 L1771.03 1335.88 L1773.04 1335.88 L1775.04 1335.89 L1777.04 1335.9 L1779.05 1335.91 L1781.05 1335.91 L1783.05 1335.92 L1785.06 1335.93 L1787.06 1335.94 L1789.07 1335.94 L1791.07 1335.95 L1793.07 1335.96 L1795.08 1335.96 L1797.08 1335.97 L1799.08 1335.98 L1801.09 1335.98 L1803.09 1335.99 L1805.09 1336 L1807.1 1336.01 L1809.1 1336.01 L1811.1 1336.02 L1813.11 1336.03 L1815.11 1336.03 L1817.11 1336.04 L1819.12 1336.05 L1821.12 1336.05 L1823.12 1336.06 L1825.13 1336.07 L1827.13 1336.07 L1829.13 1336.08 L1831.14 1336.09 L1833.14 1336.09 L1835.14 1336.1 L1837.15 1336.1 L1839.15 1336.11 L1841.16 1336.12 L1843.16 1336.12 L1845.16 1336.13 L1847.17 1336.14 L1849.17 1336.14 L1850.77 1336.15" fill="none" stroke="#000000" stroke-width="6.3" stroke-linejoin="round"/>
<path id="c2T" d="M248.4 1338.2 L250.4 1338.2 L252.41 1338.2 L254.41 1338.2 L256.41 1338.2 L258.42 1338.2 L260.42 1338.2 L262.42 1338.2 L264.43 1338.2 L266.43 1338.2 L268.43 1338.2 L270.44 1338.19 L272.44 1338.18 L274.45 1338.16 L276.45 1338.13 L278.45 1338.08 L280.46 1338.01 L282.46 1337.92 L284.46 1337.81 L286.47 1337.69 L288.47 1337.57 L290.47 1337.44 L292.48 1337.33 L294.48 1337.24 L296.48 1337.17 L298.49 1337.12 L300.49 1337.1 L302.49 1337.12 L304.5 1337.16 L306.5 1337.22 L308.5 1337.3 L310.51 1337.38 L312.51 1337.47 L314.51 1337.55 L316.52 1337.61 L318.52 1337.65 L320.52 1337.64 L322.53 1337.58 L324.53 1337.46 L326.54 1337.27 L328.54 1337 L330.54 1336.64 L332.55 1336.18 L334.55 1335.62 L336.55 1334.95 L338.56 1334.17 L340.56 1333.27 L342.56 1332.25 L344.57 1331.1 L346.57 1329.83 L348.57 1328.43 L350.18 1327.22 L351.78 1325.93 L353.38 1324.56 L354.98 1323.12 L356.59 1321.59 L358.19 1319.99 L359.79 1318.31 L361.4 1316.57 L363 1314.75 L364.6 1312.86 L366.2 1310.91 L367.81 1308.89 L369.41 1306.81 L371.01 1304.67 L372.21 1303.03 L373.42 1301.36 L374.62 1299.67 L375.82 1297.94 L377.02 1296.18 L378.22 1294.41 L379.43 1292.6 L380.63 1290.78 L381.83 1288.93 L383.03 1287.06 L384.23 1285.17 L385.44 1283.26 L386.64 1281.34 L387.84 1279.4 L389.04 1277.45 L390.25 1275.48 L391.45 1273.5 L392.65 1271.51 L393.85 1269.51 L395.05 1267.5 L396.26 1265.49 L397.46 1263.47 L398.66 1261.44 L399.86 1259.41 L401.06 1257.37 L402.27 1255.33 L403.47 1253.3 L404.67 1251.26 L405.87 1249.22 L407.07 1247.19 L408.28 1245.15 L409.48 1243.12 L410.68 1241.1 L411.88 1239.08 L413.08 1237.07 L414.29 1235.06 L415.49 1233.06 L416.69 1231.07 L417.89 1229.09 L419.1 1227.12 L420.3 1225.16 L421.5 1223.21 L422.7 1221.27 L423.9 1219.35 L425.11 1217.44 L426.31 1215.54 L427.51 1213.66 L428.71 1211.79 L429.91 1209.94 L431.12 1208.1 L432.32 1206.28 L433.52 1204.48 L434.72 1202.69 L435.92 1200.92 L437.13 1199.17 L438.33 1197.44 L439.53 1195.73 L440.73 1194.03 L441.93 1192.36 L443.14 1190.7 L444.34 1189.06 L445.54 1187.45 L447.14 1185.33 L448.75 1183.24 L450.35 1181.2 L451.95 1179.19 L453.55 1177.21 L455.16 1175.28 L456.76 1173.39 L458.36 1171.53 L459.97 1169.72 L461.57 1167.94 L463.17 1166.21 L464.77 1164.51 L466.38 1162.85 L467.98 1161.24 L469.58 1159.66 L471.19 1158.29 L472.79 1157.03 L474.39 1155.81 L476.39 1154.32 L478.4 1152.89 L480.4 1151.49 L482.4 1150.12 L484.41 1148.78 L486.41 1147.44 L488.42 1146.11 L490.42 1144.81 L492.42 1143.58 L494.43 1142.4 L496.43 1141.27 L498.43 1140.2 L500.44 1139.18 L502.44 1138.21 L504.44 1137.29 L506.45 1136.43 L508.45 1135.61 L510.45 1134.85 L512.46 1134.13 L514.46 1133.46 L516.46 1132.84 L518.47 1132.26 L520.47 1131.73 L522.47 1131.25 L524.48 1130.8 L526.48 1130.4 L528.48 1130.04 L530.49 1129.71 L532.49 1129.42 L534.49 1129.14 L536.5 1128.9 L538.5 1128.69 L540.51 1128.51 L542.51 1128.37 L544.51 1128.25 L546.52 1128.17 L548.52 1128.13 L550.52 1128.12 L552.53 1128.14 L554.53 1128.21 L556.53 1128.31 L558.54 1128.44 L560.54 1128.62 L562.54 1128.84 L564.55 1129.09 L566.55 1129.39 L568.55 1129.73 L570.56 1130.09 L572.56 1130.48 L574.56 1130.9 L576.57 1131.33 L578.57 1131.79 L580.57 1132.28 L582.58 1132.78 L584.58 1133.31 L586.59 1133.86 L588.59 1134.42 L590.59 1135.01 L592.6 1135.61 L594.6 1136.23 L596.6 1136.87 L598.61 1137.53 L600.61 1138.2 L602.61 1138.89 L604.62 1139.59 L606.62 1140.31 L608.62 1141.05 L610.63 1141.84 L612.63 1142.68 L614.63 1143.55 L616.64 1144.46 L618.64 1145.39 L620.64 1146.36 L622.65 1147.35 L624.65 1148.35 L626.65 1149.37 L628.66 1150.4 L630.66 1151.43 L632.66 1152.47 L634.67 1153.5 L636.67 1154.52 L638.68 1155.54 L640.68 1156.54 L642.68 1157.51 L644.69 1158.47 L646.69 1159.4 L648.69 1160.3 L650.7 1161.22 L652.7 1162.14 L654.7 1163.06 L656.71 1163.98 L658.71 1164.91 L660.71 1165.84 L662.72 1166.78 L664.72 1167.72 L666.72 1168.66 L668.73 1169.6 L670.73 1170.54 L672.73 1171.49 L674.74 1172.44 L676.74 1173.38 L678.74 1174.33 L680.75 1175.28 L682.75 1176.23 L684.75 1177.18 L686.76 1178.13 L688.76 1179.08 L690.77 1180.03 L692.77 1180.98 L694.77 1181.93 L696.78 1182.88 L698.78 1183.83 L700.78 1184.77 L702.79 1185.72 L704.79 1186.66 L706.79 1187.6 L708.8 1188.54 L710.8 1189.48 L712.8 1190.42 L714.81 1191.35 L716.81 1192.28 L718.81 1193.21 L720.82 1194.14 L722.82 1195.06 L724.82 1195.98 L726.83 1196.9 L728.83 1197.81 L730.83 1198.72 L732.84 1199.63 L734.84 1200.52 L736.84 1201.42 L738.85 1202.3 L740.85 1203.18 L742.86 1204.06 L744.86 1204.93 L746.86 1205.8 L748.87 1206.66 L750.87 1207.51 L752.87 1208.36 L754.88 1209.21 L756.88 1210.05 L758.88 1210.88 L760.89 1211.71 L762.89 1212.53 L764.89 1213.35 L766.9 1214.17 L768.9 1214.98 L770.9 1215.78 L772.91 1216.58 L774.91 1217.38 L776.91 1218.17 L778.92 1218.96 L780.92 1219.74 L782.92 1220.52 L784.93 1221.29 L786.93 1222.06 L788.94 1222.82 L790.94 1223.59 L792.94 1224.34 L794.95 1225.1 L796.95 1225.84 L798.95 1226.59 L800.96 1227.33 L802.96 1228.07 L804.96 1228.81 L806.97 1229.54 L808.97 1230.26 L810.97 1230.99 L812.98 1231.7 L814.98 1232.42 L816.98 1233.13 L818.99 1233.83 L820.99 1234.53 L822.99 1235.22 L825 1235.91 L827 1236.6 L829 1237.28 L831.01 1237.96 L833.01 1238.63 L835.01 1239.3 L837.02 1239.96 L839.02 1240.62 L841.03 1241.27 L843.03 1241.92 L845.03 1242.57 L847.04 1243.21 L849.04 1243.84 L851.04 1244.47 L853.05 1245.1 L855.05 1245.72 L857.05 1246.34 L859.06 1246.95 L861.06 1247.56 L863.06 1248.17 L865.07 1248.77 L867.07 1249.36 L869.07 1249.95 L871.08 1250.54 L873.08 1251.13 L875.08 1251.7 L877.09 1252.28 L879.09 1252.85 L881.09 1253.41 L883.1 1253.98 L885.1 1254.53 L887.1 1255.09 L889.11 1255.64 L891.11 1256.18 L893.12 1256.72 L895.12 1257.26 L897.12 1257.79 L899.13 1258.32 L901.13 1258.84 L903.13 1259.37 L905.14 1259.88 L907.14 1260.39 L909.14 1260.9 L911.15 1261.41 L913.15 1261.91 L915.15 1262.41 L917.16 1262.9 L919.16 1263.39 L921.16 1263.88 L923.17 1264.36 L925.17 1264.84 L927.17 1265.31 L929.18 1265.78 L931.18 1266.25 L933.18 1266.71 L935.19 1267.17 L937.19 1267.63 L939.2 1268.08 L941.2 1268.53 L943.2 1268.97 L945.21 1269.42 L947.21 1269.85 L949.21 1270.29 L951.22 1270.72 L953.22 1271.15 L955.22 1271.57 L957.23 1271.99 L959.23 1272.41 L961.23 1272.83 L963.24 1273.24 L965.24 1273.65 L967.24 1274.05 L969.25 1274.45 L971.25 1274.85 L973.25 1275.25 L975.26 1275.64 L977.26 1276.03 L979.26 1276.41 L981.27 1276.8 L983.27 1277.18 L985.27 1277.55 L987.28 1277.93 L989.28 1278.3 L991.29 1278.66 L993.29 1279.03 L995.29 1279.39 L997.3 1279.75 L999.3 1280.1 L1001.3 1280.46 L1003.31 1280.81 L1005.31 1281.15 L1007.31 1281.5 L1009.32 1281.84 L1011.32 1282.18 L1013.32 1282.51 L1015.33 1282.85 L1017.33 1283.18 L1019.33 1283.51 L1021.34 1283.83 L1023.34 1284.15 L1025.34 1284.47 L1027.35 1284.79 L1029.35 1285.11 L1031.35 1285.42 L1033.36 1285.73 L1035.36 1286.03 L1037.36 1286.34 L1039.37 1286.64 L1041.37 1286.94 L1043.38 1287.24 L1045.38 1287.53 L1047.38 1287.85 L1049.39 1288.16 L1051.39 1288.47 L1053.39 1288.78 L1055.4 1289.09 L1057.4 1289.4 L1059.4 1289.7 L1061.41 1290 L1063.41 1290.3 L1065.41 1290.6 L1067.42 1290.89 L1069.42 1291.18 L1071.42 1291.47 L1073.43 1291.76 L1075.43 1292.05 L1077.43 1292.33 L1079.44 1292.61 L1081.44 1292.89 L1083.44 1293.17 L1085.45 1293.44 L1087.45 1293.72 L1089.45 1293.99 L1091.46 1294.26 L1093.46 1294.52 L1095.47 1294.79 L1097.47 1295.05 L1099.47 1295.31 L1101.48 1295.57 L1103.48 1295.83 L1105.48 1296.08 L1107.49 1296.34 L1109.49 1296.59 L1111.49 1296.84 L1113.5 1297.09 L1115.5 1297.33 L1117.5 1297.58 L1119.51 1297.82 L1121.51 1298.06 L1123.51 1298.3 L1125.52 1298.53 L1127.52 1298.77 L1129.52 1299 L1131.53 1299.24 L1133.53 1299.47 L1135.53 1299.69 L1137.54 1299.92 L1139.54 1300.15 L1141.55 1300.37 L1143.55 1300.59 L1145.55 1300.81 L1147.56 1301.03 L1149.56 1301.25 L1151.56 1301.46 L1153.57 1301.67 L1155.57 1301.89 L1157.57 1302.1 L1159.58 1302.31 L1161.58 1302.51 L1163.58 1302.72 L1165.59 1302.93 L1167.59 1303.13 L1169.59 1303.33 L1171.6 1303.53 L1173.6 1303.73 L1175.6 1303.93 L1177.61 1304.12 L1179.61 1304.32 L1181.61 1304.51 L1183.62 1304.7 L1185.62 1304.89 L1187.62 1305.08 L1189.63 1305.27 L1191.63 1305.45 L1193.64 1305.64 L1195.64 1305.82 L1197.64 1306 L1199.65 1306.19 L1201.65 1306.37 L1203.65 1306.54 L1205.66 1306.72 L1207.66 1306.9 L1209.66 1307.07 L1211.67 1307.24 L1213.67 1307.42 L1215.67 1307.59 L1217.68 1307.76 L1219.68 1307.93 L1221.68 1308.09 L1223.69 1308.26 L1225.69 1308.42 L1227.69 1308.59 L1229.7 1308.75 L1231.7 1308.91 L1233.7 1309.07 L1235.71 1309.23 L1237.71 1309.39 L1239.71 1309.55 L1241.72 1309.7 L1243.72 1309.86 L1245.73 1310.01 L1247.73 1310.16 L1249.73 1310.31 L1251.74 1310.47 L1253.74 1310.61 L1255.74 1310.76 L1257.75 1310.91 L1259.75 1311.06 L1261.75 1311.2 L1263.76 1311.35 L1265.76 1311.49 L1267.76 1311.63 L1269.77 1311.77 L1271.77 1311.91 L1273.77 1312.05 L1275.78 1312.19 L1277.78 1312.33 L1279.78 1312.47 L1281.79 1312.6 L1283.79 1312.74 L1285.79 1312.87 L1287.8 1313 L1289.8 1313.14 L1291.81 1313.27 L1293.81 1313.4 L1295.81 1313.53 L1297.82 1313.65 L1299.82 1313.78 L1301.82 1313.91 L1303.83 1314.04 L1305.83 1314.16 L1307.83 1314.28 L1309.84 1314.41 L1311.84 1314.53 L1313.84 1314.65 L1315.85 1314.77 L1317.85 1314.89 L1319.85 1315.01 L1321.86 1315.13 L1323.86 1315.25 L1325.86 1315.37 L1327.87 1315.48 L1329.87 1315.6 L1331.87 1315.71 L1333.88 1315.82 L1335.88 1315.94 L1337.88 1316.05 L1339.89 1316.16 L1341.89 1316.27 L1343.9 1316.38 L1345.9 1316.49 L1347.9 1316.6 L1349.91 1316.71 L1351.91 1316.82 L1353.91 1316.92 L1355.92 1317.03 L1357.92 1317.13 L1359.92 1317.24 L1361.93 1317.34 L1363.93 1317.44 L1365.93 1317.55 L1367.94 1317.65 L1369.94 1317.75 L1371.94 1317.85 L1373.95 1317.95 L1375.95 1318.05 L1377.95 1318.15 L1379.96 1318.25 L1381.96 1318.34 L1383.96 1318.44 L1385.97 1318.54 L1387.97 1318.63 L1389.97 1318.73 L1391.98 1318.82 L1393.98 1318.91 L1395.99 1319.01 L1397.99 1319.1 L1399.99 1319.19 L1402 1319.28 L1404 1319.37 L1406 1319.46 L1408.01 1319.55 L1410.01 1319.64 L1412.01 1319.73 L1414.02 1319.82 L1416.02 1319.9 L1418.02 1319.99 L1420.03 1320.08 L1422.03 1320.16 L1424.03 1320.25 L1426.04 1320.33 L1428.04 1320.41 L1430.04 1320.5 L1432.05 1320.58 L1434.05 1320.66 L1436.05 1320.75 L1438.06 1320.83 L1440.06 1320.91 L1442.06 1320.99 L1444.07 1321.07 L1446.07 1321.15 L1448.08 1321.23 L1450.08 1321.3 L1452.08 1321.38 L1454.09 1321.46 L1456.09 1321.54 L1458.09 1321.61 L1460.1 1321.69 L1462.1 1321.76 L1464.1 1321.84 L1466.11 1321.91 L1468.11 1321.99 L1470.11 1322.06 L1472.12 1322.14 L1474.12 1322.21 L1476.12 1322.28 L1478.13 1322.35 L1480.13 1322.42 L1482.13 1322.49 L1484.14 1322.57 L1486.14 1322.64 L1488.14 1322.71 L1490.15 1322.77 L1492.15 1322.84 L1494.16 1322.91 L1496.16 1322.98 L1498.16 1323.05 L1500.17 1323.11 L1502.17 1323.18 L1504.17 1323.25 L1506.18 1323.31 L1508.18 1323.38 L1510.18 1323.45 L1512.19 1323.51 L1514.19 1323.57 L1516.19 1323.64 L1518.2 1323.7 L1520.2 1323.77 L1522.2 1323.83 L1524.21 1323.89 L1526.21 1323.95 L1528.21 1324.02 L1530.22 1324.08 L1532.22 1324.14 L1534.22 1324.2 L1536.23 1324.26 L1538.23 1324.32 L1540.23 1324.38 L1542.24 1324.44 L1544.24 1324.5 L1546.25 1324.56 L1548.25 1324.61 L1550.25 1324.67 L1552.26 1324.73 L1554.26 1324.79 L1556.26 1324.84 L1558.27 1324.9 L1560.27 1324.96 L1562.27 1325.01 L1564.28 1325.07 L1566.28 1325.12 L1568.28 1325.18 L1570.29 1325.23 L1572.29 1325.29 L1574.29 1325.34 L1576.3 1325.4 L1578.3 1325.45 L1580.3 1325.5 L1582.31 1325.56 L1584.31 1325.61 L1586.31 1325.66 L1588.32 1325.71 L1590.32 1325.76 L1592.32 1325.82 L1594.33 1325.87 L1596.33 1325.92 L1598.34 1325.97 L1600.34 1326.02 L1602.34 1326.07 L1604.35 1326.12 L1606.35 1326.17 L1608.35 1326.22 L1610.36 1326.27 L1612.36 1326.31 L1614.36 1326.36 L1616.37 1326.41 L1618.37 1326.46 L1620.37 1326.51 L1622.38 1326.55 L1624.38 1326.6 L1626.38 1326.65 L1628.39 1326.69 L1630.39 1326.74 L1632.39 1326.79 L1634.4 1326.83 L1636.4 1326.88 L1638.4 1326.92 L1640.41 1326.97 L1642.41 1327.01 L1644.42 1327.06 L1646.42 1327.1 L1648.42 1327.14 L1650.43 1327.19 L1652.43 1327.23 L1654.43 1327.27 L1656.44 1327.32 L1658.44 1327.36 L1660.44 1327.4 L1662.45 1327.45 L1664.45 1327.49 L1666.45 1327.53 L1668.46 1327.57 L1670.46 1327.61 L1672.46 1327.65 L1674.47 1327.69 L1676.47 1327.74 L1678.47 1327.78 L1680.48 1327.82 L1682.48 1327.86 L1684.48 1327.9 L1686.49 1327.94 L1688.49 1327.98 L1690.49 1328.01 L1692.5 1328.05 L1694.5 1328.09 L1696.51 1328.13 L1698.51 1328.17 L1700.51 1328.21 L1702.52 1328.25 L1704.52 1328.28 L1706.52 1328.32 L1708.53 1328.36 L1710.53 1328.4 L1712.53 1328.43 L1714.54 1328.47 L1716.54 1328.51 L1718.54 1328.54 L1720.55 1328.58 L1722.55 1328.62 L1724.55 1328.65 L1726.56 1328.69 L1728.56 1328.72 L1730.56 1328.76 L1732.57 1328.79 L1734.57 1328.83 L1736.57 1328.86 L1738.58 1328.9 L1740.58 1328.93 L1742.58 1328.97 L1744.59 1329 L1746.59 1329.03 L1748.6 1329.07 L1750.6 1329.1 L1752.6 1329.13 L1754.61 1329.17 L1756.61 1329.2 L1758.61 1329.23 L1760.62 1329.27 L1762.62 1329.3 L1764.62 1329.33 L1766.63 1329.36 L1768.63 1329.39 L1770.63 1329.43 L1772.64 1329.46 L1774.64 1329.49 L1776.64 1329.52 L1778.65 1329.55 L1780.65 1329.58 L1782.65 1329.61 L1784.66 1329.65 L1786.66 1329.68 L1788.66 1329.71 L1790.67 1329.74 L1792.67 1329.77 L1794.67 1329.8 L1796.68 1329.83 L1798.68 1329.86 L1800.69 1329.89 L1802.69 1329.92 L1804.69 1329.94 L1806.7 1329.97 L1808.7 1330 L1810.7 1330.03 L1812.71 1330.06 L1814.71 1330.09 L1816.71 1330.12 L1818.72 1330.15 L1820.72 1330.17 L1822.72 1330.2 L1824.73 1330.23 L1826.73 1330.26 L1828.73 1330.28 L1830.74 1330.31 L1832.74 1330.34 L1834.74 1330.37 L1836.75 1330.39 L1838.75 1330.42 L1840.75 1330.45 L1842.76 1330.47 L1844.76 1330.5 L1846.77 1330.53 L1848.77 1330.55 L1850.77 1330.58" fill="none" stroke="#ff0000" stroke-width="6.3" stroke-linejoin="round"/>
<path id="c3T" d="M248.4 1338.2 L249.6 1342.38 L250 1350.63 L250.4 1361.05 L250.8 1371.49 L251.2 1380.87 L251.61 1388.87 L252.01 1395.54 L252.41 1401.04 L252.81 1405.56 L253.21 1409.28 L253.61 1412.33 L254.01 1414.83 L254.41 1416.85 L255.21 1419.73 L256.41 1421.74 L258.42 1420.58 L259.62 1417.98 L260.42 1415.69 L261.22 1413.08 L262.02 1410.24 L262.82 1407.23 L263.63 1404.11 L264.43 1400.95 L265.23 1397.77 L266.03 1394.62 L266.83 1391.51 L267.63 1388.48 L268.43 1385.52 L269.24 1382.67 L270.04 1379.91 L270.84 1377.26 L271.64 1374.72 L272.44 1372.29 L273.24 1369.96 L274.04 1367.75 L274.85 1365.64 L275.65 1363.63 L276.45 1361.72 L277.65 1359.04 L278.85 1356.56 L280.05 1354.28 L281.26 1352.18 L282.46 1350.25 L283.66 1348.49 L284.86 1346.87 L286.47 1344.94 L288.07 1343.25 L289.67 1341.78 L291.27 1340.5 L293.28 1339.16 L295.28 1338.08 L297.28 1337.21 L299.29 1336.55 L301.29 1336.05 L303.29 1335.68 L305.3 1335.42 L307.3 1335.24 L309.31 1335.1 L311.31 1334.98 L313.31 1334.84 L315.32 1334.67 L317.32 1334.43 L319.32 1334.1 L321.33 1333.66 L323.33 1333.07 L325.33 1332.33 L327.34 1331.41 L329.34 1330.29 L331.34 1328.97 L332.95 1327.76 L334.55 1326.4 L336.15 1324.89 L337.75 1323.22 L339.36 1321.4 L340.96 1319.42 L342.56 1317.27 L343.76 1315.56 L344.97 1313.76 L346.17 1311.87 L347.37 1309.88 L348.57 1307.81 L349.78 1305.65 L350.98 1303.41 L352.18 1301.07 L353.38 1298.65 L354.58 1296.15 L355.79 1293.57 L356.99 1290.91 L358.19 1288.16 L358.99 1286.29 L359.79 1284.39 L360.59 1282.45 L361.4 1280.48 L362.2 1278.48 L363 1276.45 L363.8 1274.38 L364.6 1272.29 L365.4 1270.17 L366.2 1268.02 L367.01 1265.85 L367.81 1263.64 L368.61 1261.41 L369.41 1259.16 L370.21 1256.88 L371.01 1254.57 L371.81 1252.25 L372.61 1249.9 L373.42 1247.53 L374.22 1245.14 L375.02 1242.73 L375.82 1240.29 L376.62 1237.84 L377.42 1235.38 L378.22 1232.89 L379.03 1230.39 L379.83 1227.87 L380.63 1225.34 L381.43 1222.8 L382.23 1220.24 L383.03 1217.67 L383.83 1215.08 L384.64 1212.49 L385.44 1209.88 L386.24 1207.27 L387.04 1204.64 L387.84 1202.01 L388.64 1199.37 L389.44 1196.72 L390.25 1194.07 L391.05 1191.41 L391.85 1188.74 L392.65 1186.08 L393.45 1183.4 L394.25 1180.73 L395.05 1178.05 L395.86 1175.37 L396.66 1172.69 L397.46 1170.01 L398.26 1167.33 L399.06 1164.64 L399.86 1161.97 L400.66 1159.29 L401.46 1156.61 L402.27 1153.94 L403.07 1151.27 L403.87 1148.6 L404.67 1145.94 L405.47 1143.29 L406.27 1140.64 L407.07 1137.99 L407.88 1135.35 L408.68 1132.72 L409.48 1130.1 L410.28 1127.48 L411.08 1124.87 L411.88 1122.27 L412.68 1119.68 L413.49 1117.1 L414.29 1114.53 L415.09 1111.97 L415.89 1109.42 L416.69 1106.88 L417.49 1104.35 L418.29 1101.83 L419.1 1099.33 L419.9 1096.84 L420.7 1094.36 L421.5 1091.89 L422.3 1089.44 L423.1 1087 L423.9 1084.58 L424.7 1082.16 L425.51 1079.77 L426.31 1077.39 L427.11 1075.02 L427.91 1072.67 L428.71 1070.33 L429.51 1068.01 L430.31 1065.71 L431.12 1063.42 L431.92 1061.15 L432.72 1058.89 L433.52 1056.65 L434.32 1054.43 L435.12 1052.22 L435.92 1050.04 L436.73 1047.87 L437.53 1045.71 L438.33 1043.58 L439.13 1041.46 L439.93 1039.36 L440.73 1037.28 L441.53 1035.22 L442.34 1033.17 L443.14 1031.15 L443.94 1029.14 L444.74 1027.15 L445.54 1025.18 L446.34 1023.23 L447.14 1021.3 L447.95 1019.38 L448.75 1017.49 L449.55 1015.61 L450.35 1013.76 L451.15 1011.92 L452.35 1009.2 L453.55 1006.53 L454.76 1003.89 L455.96 1001.3 L457.16 998.76 L458.36 996.26 L459.57 993.8 L460.77 991.39 L461.97 989.02 L463.17 986.69 L464.37 984.41 L465.58 982.17 L466.78 979.97 L467.98 977.82 L469.18 975.71 L470.38 973.64 L471.59 971.62 L472.79 969.64 L473.99 967.7 L475.19 965.8 L476.39 963.95 L477.6 962.14 L478.8 960.37 L480 958.64 L481.2 956.96 L482.4 955.31 L483.61 953.7 L485.21 951.63 L486.81 949.62 L488.42 947.69 L490.02 945.82 L491.62 944.02 L493.22 942.29 L494.83 940.63 L496.43 939.04 L498.03 937.51 L499.63 936.05 L501.24 934.69 L502.84 933.41 L504.44 932.2 L506.45 930.77 L508.45 929.44 L510.45 928.2 L512.46 927.06 L514.46 926.01 L516.46 925.05 L518.47 924.18 L520.47 923.4 L522.47 922.7 L524.48 922.08 L526.48 921.55 L528.48 921.09 L530.49 920.71 L532.49 920.41 L534.49 920.18 L536.5 920.03 L538.5 919.95 L540.51 919.93 L542.51 919.99 L544.51 920.11 L546.52 920.3 L548.52 920.56 L550.52 920.87 L552.53 921.25 L554.53 921.69 L556.53 922.18 L558.54 922.73 L560.54 923.33 L562.54 923.98 L564.55 924.69 L566.55 925.44 L568.55 926.24 L570.56 927.09 L572.56 927.99 L574.56 928.92 L576.57 929.9 L578.57 930.92 L580.57 931.98 L582.58 933.08 L584.58 934.21 L586.59 935.38 L588.59 936.58 L590.59 937.84 L592.6 939.13 L594.6 940.46 L596.6 941.84 L598.61 943.24 L600.61 944.68 L602.61 946.15 L604.62 947.64 L606.22 948.85 L607.82 950.08 L609.42 951.31 L611.03 952.56 L612.63 953.82 L614.23 955.08 L615.84 956.35 L617.44 957.63 L619.04 958.91 L620.64 960.2 L622.25 961.48 L623.85 962.76 L625.45 964.05 L627.06 965.33 L628.66 966.61 L630.26 967.9 L631.86 969.19 L633.47 970.49 L635.07 971.79 L636.67 973.1 L638.27 974.41 L639.88 975.72 L641.48 977.04 L643.08 978.37 L644.69 979.7 L646.29 981.03 L647.89 982.37 L649.49 983.72 L651.1 985.07 L652.7 986.42 L654.3 987.78 L655.9 989.14 L657.51 990.51 L659.11 991.88 L660.71 993.25 L662.32 994.63 L663.92 996.02 L665.52 997.41 L667.12 998.8 L668.73 1000.2 L670.33 1001.6 L671.93 1003 L673.54 1004.4 L675.14 1005.81 L676.74 1007.21 L678.34 1008.62 L679.95 1010.02 L681.55 1011.43 L683.15 1012.84 L684.75 1014.25 L686.36 1015.66 L687.96 1017.07 L689.56 1018.49 L691.17 1019.9 L692.77 1021.31 L694.37 1022.73 L695.97 1024.14 L697.58 1025.56 L699.18 1026.97 L700.78 1028.39 L702.39 1029.81 L703.99 1031.23 L705.59 1032.64 L707.19 1034.06 L708.8 1035.49 L710.4 1036.92 L712 1038.36 L713.6 1039.8 L715.21 1041.25 L716.81 1042.7 L718.41 1044.15 L720.02 1045.6 L721.62 1047.05 L723.22 1048.49 L724.82 1049.94 L726.43 1051.38 L728.03 1052.81 L729.63 1054.24 L731.24 1055.66 L732.84 1057.08 L734.44 1058.48 L736.04 1059.87 L737.65 1061.25 L739.25 1062.62 L740.85 1063.97 L742.45 1065.31 L744.06 1066.63 L745.66 1067.94 L747.26 1069.23 L748.87 1070.51 L750.47 1071.78 L752.07 1073.05 L753.67 1074.31 L755.28 1075.57 L756.88 1076.83 L758.48 1078.08 L760.09 1079.32 L761.69 1080.57 L763.29 1081.8 L764.89 1083.03 L766.5 1084.26 L768.1 1085.49 L769.7 1086.71 L771.3 1087.92 L772.91 1089.14 L774.51 1090.35 L776.11 1091.55 L777.72 1092.76 L779.32 1093.96 L780.92 1095.15 L782.92 1096.64 L784.93 1098.13 L786.93 1099.62 L788.94 1101.09 L790.94 1102.56 L792.94 1104.03 L794.95 1105.48 L796.95 1106.93 L798.95 1108.38 L800.96 1109.81 L802.96 1111.24 L804.96 1112.67 L806.97 1114.08 L808.97 1115.49 L810.97 1116.89 L812.98 1118.28 L814.98 1119.67 L816.98 1121.05 L818.99 1122.42 L820.99 1123.79 L822.99 1125.14 L825 1126.5 L827 1127.84 L829 1129.17 L831.01 1130.49 L833.01 1131.8 L835.01 1133.1 L837.02 1134.38 L839.02 1135.66 L841.03 1136.92 L843.03 1138.17 L845.03 1139.42 L847.04 1140.66 L849.04 1141.88 L851.04 1143.1 L853.05 1144.31 L855.05 1145.51 L857.05 1146.71 L859.06 1147.9 L861.06 1149.08 L863.06 1150.26 L865.07 1151.43 L867.07 1152.59 L869.07 1153.74 L871.08 1154.89 L873.08 1156.03 L875.08 1157.15 L877.09 1158.27 L879.09 1159.38 L881.09 1160.48 L883.1 1161.58 L885.1 1162.67 L887.1 1163.75 L889.11 1164.82 L891.11 1165.89 L893.12 1166.95 L895.12 1168.01 L897.12 1169.06 L899.13 1170.11 L901.13 1171.15 L903.13 1172.19 L905.14 1173.23 L907.14 1174.26 L909.14 1175.29 L911.15 1176.31 L913.15 1177.33 L915.15 1178.34 L917.16 1179.35 L919.16 1180.36 L921.16 1181.36 L923.17 1182.35 L925.17 1183.33 L927.17 1184.31 L929.18 1185.29 L931.18 1186.25 L933.18 1187.21 L935.19 1188.17 L937.19 1189.11 L939.2 1190.05 L941.2 1190.97 L943.2 1191.9 L945.21 1192.81 L947.21 1193.71 L949.21 1194.6 L951.22 1195.47 L953.22 1196.34 L955.22 1197.19 L957.23 1198.03 L959.23 1198.87 L961.23 1199.69 L963.24 1200.51 L965.24 1201.32 L967.24 1202.12 L969.25 1202.92 L971.25 1203.72 L973.25 1204.51 L975.26 1205.29 L977.26 1206.07 L979.26 1206.86 L981.27 1207.64 L983.27 1208.42 L985.27 1209.2 L987.28 1209.98 L989.28 1210.76 L991.29 1211.53 L993.29 1212.31 L995.29 1213.07 L997.3 1213.84 L999.3 1214.6 L1001.3 1215.36 L1003.31 1216.11 L1005.31 1216.86 L1007.31 1217.6 L1009.32 1218.34 L1011.32 1219.07 L1013.32 1219.8 L1015.33 1220.52 L1017.33 1221.24 L1019.33 1221.95 L1021.34 1222.66 L1023.34 1223.35 L1025.34 1224.04 L1027.35 1224.73 L1029.35 1225.41 L1031.35 1226.08 L1033.36 1226.75 L1035.36 1227.41 L1037.36 1228.06 L1039.37 1228.72 L1041.37 1229.36 L1043.38 1230 L1045.38 1230.63 L1047.38 1231.26 L1049.39 1231.89 L1051.39 1232.51 L1053.39 1233.12 L1055.4 1233.73 L1057.4 1234.34 L1059.4 1234.94 L1061.41 1235.54 L1063.41 1236.13 L1065.41 1236.72 L1067.42 1237.3 L1069.42 1237.88 L1071.42 1238.46 L1073.43 1239.03 L1075.43 1239.6 L1077.43 1240.16 L1079.44 1240.72 L1081.44 1241.28 L1083.44 1241.83 L1085.45 1242.38 L1087.45 1242.93 L1089.45 1243.47 L1091.46 1244.01 L1093.46 1244.55 L1095.47 1245.08 L1097.47 1245.61 L1099.47 1246.14 L1101.48 1246.66 L1103.48 1247.18 L1105.48 1247.69 L1107.49 1248.2 L1109.49 1248.71 L1111.49 1249.21 L1113.5 1249.71 L1115.5 1250.21 L1117.5 1250.7 L1119.51 1251.19 L1121.51 1251.68 L1123.51 1252.16 L1125.52 1252.64 L1127.52 1253.12 L1129.52 1253.59 L1131.53 1254.06 L1133.53 1254.52 L1135.53 1254.98 L1137.54 1255.44 L1139.54 1255.9 L1141.55 1256.35 L1143.55 1256.79 L1145.55 1257.24 L1147.56 1257.68 L1149.56 1258.11 L1151.56 1258.55 L1153.57 1258.98 L1155.57 1259.4 L1157.57 1259.82 L1159.58 1260.24 L1161.58 1260.66 L1163.58 1261.07 L1165.59 1261.48 L1167.59 1261.88 L1169.59 1262.28 L1171.6 1262.68 L1173.6 1263.07 L1175.6 1263.46 L1177.61 1263.84 L1179.61 1264.22 L1181.61 1264.6 L1183.62 1264.97 L1185.62 1265.34 L1187.62 1265.7 L1189.63 1266.06 L1191.63 1266.42 L1193.64 1266.78 L1195.64 1267.13 L1197.64 1267.48 L1199.65 1267.83 L1201.65 1268.18 L1203.65 1268.52 L1205.66 1268.86 L1207.66 1269.19 L1209.66 1269.53 L1211.67 1269.86 L1213.67 1270.19 L1215.67 1270.52 L1217.68 1270.85 L1219.68 1271.18 L1221.68 1271.5 L1223.69 1271.82 L1225.69 1272.14 L1227.69 1272.46 L1229.7 1272.78 L1231.7 1273.1 L1233.7 1273.41 L1235.71 1273.73 L1237.71 1274.04 L1239.71 1274.36 L1241.72 1274.67 L1243.72 1274.99 L1245.73 1275.3 L1247.73 1275.61 L1249.73 1275.92 L1251.74 1276.23 L1253.74 1276.53 L1255.74 1276.84 L1257.75 1277.14 L1259.75 1277.45 L1261.75 1277.75 L1263.76 1278.05 L1265.76 1278.35 L1267.76 1278.64 L1269.77 1278.94 L1271.77 1279.23 L1273.77 1279.53 L1275.78 1279.82 L1277.78 1280.11 L1279.78 1280.39 L1281.79 1280.68 L1283.79 1280.96 L1285.79 1281.24 L1287.8 1281.52 L1289.8 1281.8 L1291.81 1282.08 L1293.81 1282.36 L1295.81 1282.63 L1297.82 1282.9 L1299.82 1283.17 L1301.82 1283.44 L1303.83 1283.7 L1305.83 1283.97 L1307.83 1284.23 L1309.84 1284.49 L1311.84 1284.75 L1313.84 1285 L1315.85 1285.26 L1317.85 1285.51 L1319.85 1285.76 L1321.86 1286 L1323.86 1286.25 L1325.86 1286.49 L1327.87 1286.73 L1329.87 1286.97 L1331.87 1287.21 L1333.88 1287.44 L1335.88 1287.67 L1337.88 1287.9 L1339.89 1288.13 L1341.89 1288.36 L1343.9 1288.58 L1345.9 1288.81 L1347.9 1289.03 L1349.91 1289.25 L1351.91 1289.46 L1353.91 1289.68 L1355.92 1289.9 L1357.92 1290.11 L1359.92 1290.32 L1361.93 1290.53 L1363.93 1290.74 L1365.93 1290.95 L1367.94 1291.16 L1369.94 1291.36 L1371.94 1291.57 L1373.95 1291.77 L1375.95 1291.97 L1377.95 1292.18 L1379.96 1292.38 L1381.96 1292.58 L1383.96 1292.78 L1385.97 1292.97 L1387.97 1293.17 L1389.97 1293.37 L1391.98 1293.57 L1393.98 1293.76 L1395.99 1293.96 L1397.99 1294.16 L1399.99 1294.35 L1402 1294.55 L1404 1294.74 L1406 1294.94 L1408.01 1295.13 L1410.01 1295.32 L1412.01 1295.52 L1414.02 1295.71 L1416.02 1295.9 L1418.02 1296.09 L1420.03 1296.28 L1422.03 1296.46 L1424.03 1296.65 L1426.04 1296.84 L1428.04 1297.02 L1430.04 1297.21 L1432.05 1297.39 L1434.05 1297.57 L1436.05 1297.76 L1438.06 1297.94 L1440.06 1298.12 L1442.06 1298.3 L1444.07 1298.47 L1446.07 1298.65 L1448.08 1298.83 L1450.08 1299 L1452.08 1299.18 L1454.09 1299.35 L1456.09 1299.52 L1458.09 1299.69 L1460.1 1299.87 L1462.1 1300.03 L1464.1 1300.2 L1466.11 1300.37 L1468.11 1300.54 L1470.11 1300.7 L1472.12 1300.86 L1474.12 1301.03 L1476.12 1301.19 L1478.13 1301.35 L1480.13 1301.51 L1482.13 1301.67 L1484.14 1301.82 L1486.14 1301.98 L1488.14 1302.13 L1490.15 1302.29 L1492.15 1302.44 L1494.16 1302.59 L1496.16 1302.74 L1498.16 1302.89 L1500.17 1303.04 L1502.17 1303.19 L1504.17 1303.34 L1506.18 1303.49 L1508.18 1303.63 L1510.18 1303.78 L1512.19 1303.92 L1514.19 1304.07 L1516.19 1304.21 L1518.2 1304.35 L1520.2 1304.49 L1522.2 1304.63 L1524.21 1304.77 L1526.21 1304.91 L1528.21 1305.04 L1530.22 1305.18 L1532.22 1305.32 L1534.22 1305.45 L1536.23 1305.59 L1538.23 1305.72 L1540.23 1305.85 L1542.24 1305.98 L1544.24 1306.12 L1546.25 1306.25 L1548.25 1306.38 L1550.25 1306.5 L1552.26 1306.63 L1554.26 1306.76 L1556.26 1306.89 L1558.27 1307.01 L1560.27 1307.14 L1562.27 1307.26 L1564.28 1307.39 L1566.28 1307.53 L1568.28 1307.67 L1570.29 1307.8 L1572.29 1307.94 L1574.29 1308.08 L1576.3 1308.21 L1578.3 1308.35 L1580.3 1308.48 L1582.31 1308.62 L1584.31 1308.75 L1586.31 1308.88 L1588.32 1309.01 L1590.32 1309.14 L1592.32 1309.27 L1594.33 1309.4 L1596.33 1309.53 L1598.34 1309.66 L1600.34 1309.78 L1602.34 1309.91 L1604.35 1310.03 L1606.35 1310.16 L1608.35 1310.28 L1610.36 1310.41 L1612.36 1310.53 L1614.36 1310.65 L1616.37 1310.77 L1618.37 1310.89 L1620.37 1311.01 L1622.38 1311.13 L1624.38 1311.25 L1626.38 1311.37 L1628.39 1311.49 L1630.39 1311.6 L1632.39 1311.72 L1634.4 1311.84 L1636.4 1311.95 L1638.4 1312.06 L1640.41 1312.18 L1642.41 1312.29 L1644.42 1312.4 L1646.42 1312.52 L1648.42 1312.63 L1650.43 1312.74 L1652.43 1312.85 L1654.43 1312.96 L1656.44 1313.07 L1658.44 1313.17 L1660.44 1313.28 L1662.45 1313.39 L1664.45 1313.5 L1666.45 1313.6 L1668.46 1313.71 L1670.46 1313.81 L1672.46 1313.92 L1674.47 1314.02 L1676.47 1314.12 L1678.47 1314.23 L1680.48 1314.33 L1682.48 1314.43 L1684.48 1314.53 L1686.49 1314.63 L1688.49 1314.73 L1690.49 1314.83 L1692.5 1314.93 L1694.5 1315.03 L1696.51 1315.13 L1698.51 1315.23 L1700.51 1315.32 L1702.52 1315.42 L1704.52 1315.52 L1706.52 1315.61 L1708.53 1315.71 L1710.53 1315.8 L1712.53 1315.89 L1714.54 1315.99 L1716.54 1316.08 L1718.54 1316.17 L1720.55 1316.27 L1722.55 1316.36 L1724.55 1316.45 L1726.56 1316.54 L1728.56 1316.63 L1730.56 1316.72 L1732.57 1316.81 L1734.57 1316.9 L1736.57 1316.98 L1738.58 1317.07 L1740.58 1317.16 L1742.58 1317.25 L1744.59 1317.33 L1746.59 1317.42 L1748.6 1317.5 L1750.6 1317.59 L1752.6 1317.67 L1754.61 1317.76 L1756.61 1317.84 L1758.61 1317.93 L1760.62 1318.01 L1762.62 1318.09 L1764.62 1318.17 L1766.63 1318.26 L1768.63 1318.34 L1770.63 1318.42 L1772.64 1318.5 L1774.64 1318.58 L1776.64 1318.66 L1778.65 1318.74 L1780.65 1318.82 L1782.65 1318.89 L1784.66 1318.97 L1786.66 1319.05 L1788.66 1319.13 L1790.67 1319.2 L1792.67 1319.28 L1794.67 1319.36 L1796.68 1319.43 L1798.68 1319.51 L1800.69 1319.58 L1802.69 1319.66 L1804.69 1319.73 L1806.7 1319.81 L1808.7 1319.88 L1810.7 1319.95 L1812.71 1320.03 L1814.71 1320.1 L1816.71 1320.17 L1818.72 1320.24 L1820.72 1320.31 L1822.72 1320.38 L1824.73 1320.45 L1826.73 1320.53 L1828.73 1320.59 L1830.74 1320.66 L1832.74 1320.73 L1834.74 1320.8 L1836.75 1320.87 L1838.75 1320.94 L1840.75 1321.01 L1842.76 1321.07 L1844.76 1321.14 L1846.77 1321.21 L1848.77 1321.28 L1850.77 1321.34" fill="none" stroke="#0000ff" stroke-width="6.3" stroke-linejoin="round"/>
<path id="c4T" d="M248.4 1338.2 L249.2 1344.38 L249.6 1377.59 L250 1430.63 L250.4 1485.62 L250.8 1533.77 L251.2 1573.12 L251.61 1604.44 L252.01 1629.17 L252.41 1648.68 L252.81 1664.05 L253.21 1676.03 L253.61 1685.15 L254.01 1691.77 L254.41 1696.14 L254.81 1698.45 L256.01 1694.51 L256.41 1690.06 L256.81 1684.29 L257.22 1677.35 L257.62 1669.41 L258.02 1660.6 L258.42 1651.08 L258.82 1640.99 L259.22 1630.45 L259.62 1619.59 L260.02 1608.51 L260.42 1597.31 L260.82 1586.08 L261.22 1574.89 L261.62 1563.82 L262.02 1552.91 L262.42 1542.21 L262.82 1531.76 L263.23 1521.6 L263.63 1511.74 L264.03 1502.21 L264.43 1493.03 L264.83 1484.19 L265.23 1475.71 L265.63 1467.59 L266.03 1459.83 L266.43 1452.42 L266.83 1445.37 L267.23 1438.65 L267.63 1432.27 L268.03 1426.22 L268.43 1420.48 L268.84 1415.04 L269.24 1409.9 L269.64 1405.04 L270.04 1400.45 L270.44 1396.12 L270.84 1392.04 L271.24 1388.2 L271.64 1384.58 L272.04 1381.18 L272.44 1377.97 L272.84 1374.97 L273.24 1372.15 L273.64 1369.5 L274.04 1367.01 L274.45 1364.69 L274.85 1362.51 L275.25 1360.47 L276.05 1356.78 L276.85 1353.56 L277.65 1350.76 L278.45 1348.33 L279.25 1346.24 L280.46 1343.63 L281.66 1341.56 L282.86 1339.95 L284.46 1338.37 L286.47 1337.08 L288.47 1336.35 L290.47 1335.97 L292.48 1335.82 L294.48 1335.76 L296.48 1335.72 L298.49 1335.6 L300.49 1335.36 L302.49 1334.94 L304.5 1334.29 L306.5 1333.37 L308.5 1332.17 L310.51 1330.64 L312.11 1329.18 L313.71 1327.48 L315.32 1325.56 L316.52 1323.96 L317.72 1322.23 L318.92 1320.36 L320.12 1318.35 L321.33 1316.2 L322.53 1313.91 L323.73 1311.49 L324.93 1308.93 L326.13 1306.23 L326.94 1304.35 L327.74 1302.42 L328.54 1300.42 L329.34 1298.37 L330.14 1296.26 L330.94 1294.09 L331.74 1291.87 L332.55 1289.58 L333.35 1287.24 L334.15 1284.85 L334.95 1282.4 L335.75 1279.9 L336.55 1277.35 L337.35 1274.74 L338.16 1272.09 L338.96 1269.38 L339.76 1266.63 L340.56 1263.82 L341.36 1260.97 L342.16 1258.08 L342.96 1255.14 L343.76 1252.15 L344.57 1249.12 L345.37 1246.05 L346.17 1242.94 L346.97 1239.79 L347.77 1236.6 L348.57 1233.37 L349.37 1230.1 L350.18 1226.8 L350.98 1223.46 L351.78 1220.09 L352.58 1216.69 L353.38 1213.26 L354.18 1209.8 L354.98 1206.3 L355.79 1202.78 L356.59 1199.23 L357.39 1195.66 L358.19 1192.06 L358.99 1188.43 L359.79 1184.79 L360.59 1181.12 L361.4 1177.43 L362.2 1173.72 L363 1169.99 L363.8 1166.24 L364.6 1162.48 L365.4 1158.7 L366.2 1154.9 L367.01 1151.09 L367.81 1147.27 L368.61 1143.44 L369.41 1139.59 L370.21 1135.74 L371.01 1131.87 L371.81 1128 L372.61 1124.12 L373.42 1120.23 L374.22 1116.33 L375.02 1112.43 L375.82 1108.53 L376.62 1104.62 L377.42 1100.71 L378.22 1096.8 L379.03 1092.89 L379.83 1088.98 L380.63 1085.07 L381.43 1081.15 L382.23 1077.25 L383.03 1073.34 L383.83 1069.44 L384.64 1065.54 L385.44 1061.64 L386.24 1057.75 L387.04 1053.87 L387.84 1049.99 L388.64 1046.13 L389.44 1042.26 L390.25 1038.41 L391.05 1034.57 L391.85 1030.73 L392.65 1026.91 L393.45 1023.1 L394.25 1019.3 L395.05 1015.51 L395.86 1011.73 L396.66 1007.97 L397.46 1004.21 L398.26 1000.48 L399.06 996.75 L399.86 993.05 L400.66 989.35 L401.46 985.68 L402.27 982.01 L403.07 978.37 L403.87 974.74 L404.67 971.13 L405.47 967.54 L406.27 963.96 L407.07 960.41 L407.88 956.87 L408.68 953.35 L409.48 949.85 L410.28 946.37 L411.08 942.91 L411.88 939.47 L412.68 936.05 L413.49 932.65 L414.29 929.27 L415.09 925.92 L415.89 922.58 L416.69 919.27 L417.49 915.98 L418.29 912.71 L419.1 909.47 L419.9 906.24 L420.7 903.04 L421.5 899.87 L422.3 896.71 L423.1 893.58 L423.9 890.48 L424.7 887.4 L425.51 884.34 L426.31 881.3 L427.11 878.29 L427.91 875.31 L428.71 872.35 L429.51 869.41 L430.31 866.5 L431.12 863.61 L431.92 860.75 L432.72 857.91 L433.52 855.1 L434.32 852.32 L435.12 849.56 L435.92 846.82 L436.73 844.11 L437.53 841.43 L438.33 838.77 L439.13 836.13 L439.93 833.53 L440.73 830.94 L441.53 828.39 L442.34 825.86 L443.14 823.35 L443.94 820.87 L444.74 818.42 L445.54 815.99 L446.34 813.59 L447.14 811.22 L447.95 808.87 L448.75 806.54 L449.55 804.25 L450.35 801.97 L451.15 799.73 L451.95 797.51 L452.75 795.31 L453.55 793.14 L454.36 791 L455.16 788.88 L455.96 786.79 L456.76 784.72 L457.56 782.68 L458.36 780.67 L459.16 778.68 L459.97 776.71 L460.77 774.77 L461.57 772.86 L462.37 770.97 L463.17 769.11 L463.97 767.27 L465.18 764.55 L466.38 761.9 L467.58 759.3 L468.78 756.75 L469.98 754.26 L471.19 751.83 L472.39 749.45 L473.59 747.12 L474.79 744.85 L475.99 742.63 L477.2 740.46 L478.4 738.35 L479.6 736.29 L480.8 734.28 L482 732.33 L483.21 730.42 L484.41 728.57 L485.61 726.76 L486.81 725.01 L488.01 723.3 L489.22 721.65 L490.42 720.04 L492.02 717.98 L493.62 716 L495.23 714.1 L496.83 712.29 L498.43 710.56 L500.04 708.91 L501.64 707.34 L503.24 705.85 L504.84 704.44 L506.45 703.11 L508.05 701.85 L510.05 700.38 L512.06 699.03 L514.06 697.79 L516.06 696.66 L518.07 695.64 L520.07 694.73 L522.07 693.92 L524.08 693.21 L526.08 692.61 L528.08 692.1 L530.09 691.69 L532.09 691.38 L534.09 691.16 L536.1 691.02 L538.1 690.98 L540.1 691.02 L542.11 691.15 L544.11 691.36 L546.12 691.65 L548.12 692.02 L550.12 692.47 L552.13 692.99 L554.13 693.59 L556.13 694.26 L558.14 694.99 L560.14 695.8 L562.14 696.67 L564.15 697.61 L566.15 698.61 L568.15 699.67 L570.16 700.79 L572.16 701.97 L574.16 703.21 L576.17 704.5 L578.17 705.84 L580.17 707.24 L582.18 708.68 L584.18 710.18 L585.78 711.41 L587.39 712.67 L588.99 713.96 L590.59 715.27 L592.19 716.62 L593.8 717.99 L595.4 719.39 L597 720.81 L598.61 722.26 L600.21 723.73 L601.81 725.23 L603.41 726.75 L605.02 728.29 L606.62 729.85 L608.22 731.44 L609.83 733.04 L611.43 734.66 L613.03 736.31 L614.63 737.97 L616.24 739.65 L617.84 741.35 L619.44 743.07 L621.04 744.8 L622.65 746.55 L624.25 748.31 L625.85 750.09 L627.46 751.88 L629.06 753.69 L630.66 755.51 L632.26 757.34 L633.87 759.19 L635.47 761.05 L637.07 762.92 L638.68 764.8 L640.28 766.7 L641.88 768.6 L643.48 770.51 L645.09 772.44 L646.69 774.37 L648.29 776.31 L649.89 778.26 L651.5 780.22 L653.1 782.18 L654.7 784.16 L656.31 786.14 L657.91 788.12 L659.51 790.12 L661.11 792.11 L662.72 794.12 L664.32 796.13 L665.92 798.14 L667.53 800.16 L669.13 802.19 L670.73 804.21 L672.33 806.25 L673.94 808.28 L675.54 810.32 L677.14 812.36 L678.74 814.4 L680.35 816.45 L681.95 818.5 L683.55 820.55 L685.16 822.6 L686.76 824.65 L688.36 826.71 L689.96 828.76 L691.57 830.82 L693.17 832.87 L694.77 834.93 L696.37 836.99 L697.98 839.04 L699.58 841.1 L701.18 843.15 L702.79 845.21 L704.39 847.26 L705.99 849.31 L707.59 851.36 L709.2 853.41 L710.8 855.46 L712.4 857.5 L714.01 859.55 L715.61 861.59 L717.21 863.63 L718.81 865.66 L720.42 867.7 L722.02 869.73 L723.62 871.75 L725.22 873.78 L726.83 875.8 L728.43 877.82 L730.03 879.83 L731.64 881.84 L733.24 883.85 L734.84 885.85 L736.44 887.85 L738.05 889.85 L739.65 891.84 L741.25 893.82 L742.86 895.8 L744.46 897.78 L746.06 899.75 L747.66 901.72 L749.27 903.68 L750.87 905.64 L752.47 907.6 L754.07 909.54 L755.68 911.49 L757.28 913.42 L758.88 915.35 L760.49 917.28 L762.09 919.2 L763.69 921.12 L765.29 923.03 L766.9 924.93 L768.5 926.83 L770.1 928.72 L771.71 930.61 L773.31 932.49 L774.91 934.36 L776.51 936.23 L778.12 938.09 L779.72 939.95 L781.32 941.8 L782.92 943.64 L784.53 945.48 L786.13 947.31 L787.73 949.13 L789.34 950.95 L790.94 952.76 L792.54 954.56 L794.14 956.36 L795.75 958.15 L797.35 959.94 L798.95 961.72 L800.56 963.49 L802.16 965.25 L803.76 967.01 L805.36 968.76 L806.97 970.51 L808.57 972.24 L810.17 973.98 L811.77 975.7 L813.38 977.42 L814.98 979.13 L816.58 980.83 L818.19 982.53 L819.79 984.21 L821.39 985.9 L822.99 987.57 L824.6 989.24 L826.2 990.9 L827.8 992.56 L829.41 994.2 L831.01 995.84 L832.61 997.48 L834.21 999.1 L835.82 1000.72 L837.42 1002.33 L839.02 1003.94 L840.62 1005.54 L842.23 1007.13 L843.83 1008.71 L845.43 1010.29 L847.04 1011.86 L848.64 1013.42 L850.24 1014.98 L851.84 1016.53 L853.45 1018.07 L855.05 1019.6 L856.65 1021.13 L858.26 1022.65 L859.86 1024.17 L861.46 1025.67 L863.06 1027.17 L864.67 1028.66 L866.27 1030.15 L867.87 1031.63 L869.47 1033.1 L871.08 1034.57 L872.68 1036.02 L874.28 1037.48 L875.89 1038.92 L877.49 1040.36 L879.09 1041.79 L880.69 1043.21 L882.3 1044.63 L883.9 1046.04 L885.5 1047.44 L887.1 1048.84 L888.71 1050.23 L890.31 1051.61 L891.91 1052.99 L893.52 1054.35 L895.12 1055.72 L896.72 1057.07 L898.32 1058.42 L899.93 1059.76 L901.53 1061.1 L903.13 1062.43 L904.74 1063.75 L906.34 1065.07 L907.94 1066.38 L909.54 1067.68 L911.15 1068.98 L912.75 1070.27 L914.35 1071.55 L915.95 1072.83 L917.56 1074.1 L919.16 1075.36 L920.76 1076.62 L922.37 1077.87 L923.97 1079.12 L925.57 1080.35 L927.17 1081.59 L928.78 1082.81 L930.38 1084.03 L931.98 1085.25 L933.59 1086.45 L935.19 1087.66 L937.19 1089.15 L939.2 1090.63 L941.2 1092.1 L943.2 1093.57 L945.21 1095.02 L947.21 1096.47 L949.21 1097.9 L951.22 1099.33 L953.22 1100.75 L955.22 1102.16 L957.23 1103.56 L959.23 1104.95 L961.23 1106.33 L963.24 1107.7 L965.24 1109.06 L967.24 1110.42 L969.25 1111.76 L971.25 1113.1 L973.25 1114.42 L975.26 1115.74 L977.26 1117.05 L979.26 1118.35 L981.27 1119.65 L983.27 1120.93 L985.27 1122.21 L987.28 1123.47 L989.28 1124.73 L991.29 1125.98 L993.29 1127.23 L995.29 1128.46 L997.3 1129.69 L999.3 1130.9 L1001.3 1132.11 L1003.31 1133.32 L1005.31 1134.51 L1007.31 1135.7 L1009.32 1136.87 L1011.32 1138.04 L1013.32 1139.21 L1015.33 1140.36 L1017.33 1141.51 L1019.33 1142.65 L1021.34 1143.78 L1023.34 1144.9 L1025.34 1146.02 L1027.35 1147.13 L1029.35 1148.23 L1031.35 1149.32 L1033.36 1150.41 L1035.36 1151.49 L1037.36 1152.56 L1039.37 1153.63 L1041.37 1154.69 L1043.38 1155.74 L1045.38 1156.78 L1047.38 1157.82 L1049.39 1158.85 L1051.39 1159.87 L1053.39 1160.89 L1055.4 1161.9 L1057.4 1162.9 L1059.4 1163.9 L1061.41 1164.89 L1063.41 1165.87 L1065.41 1166.85 L1067.42 1167.82 L1069.42 1168.78 L1071.42 1169.74 L1073.43 1170.69 L1075.43 1171.63 L1077.43 1172.57 L1079.44 1173.5 L1081.44 1174.43 L1083.44 1175.35 L1085.45 1176.26 L1087.45 1177.17 L1089.45 1178.07 L1091.46 1178.96 L1093.46 1179.85 L1095.47 1180.73 L1097.47 1181.61 L1099.47 1182.48 L1101.48 1183.35 L1103.48 1184.2 L1105.48 1185.06 L1107.49 1185.91 L1109.49 1186.75 L1111.49 1187.59 L1113.5 1188.42 L1115.5 1189.24 L1117.5 1190.06 L1119.51 1190.88 L1121.51 1191.69 L1123.51 1192.49 L1125.52 1193.29 L1127.52 1194.08 L1129.52 1194.87 L1131.53 1195.65 L1133.53 1196.43 L1135.53 1197.2 L1137.54 1197.97 L1139.54 1198.73 L1141.55 1199.49 L1143.55 1200.24 L1145.55 1200.99 L1147.56 1201.73 L1149.56 1202.47 L1151.56 1203.2 L1153.57 1203.93 L1155.57 1204.65 L1157.57 1205.37 L1159.58 1206.08 L1161.58 1206.79 L1163.58 1207.5 L1165.59 1208.19 L1167.59 1208.89 L1169.59 1209.58 L1171.6 1210.26 L1173.6 1210.95 L1175.6 1211.62 L1177.61 1212.29 L1179.61 1212.96 L1181.61 1213.63 L1183.62 1214.28 L1185.62 1214.94 L1187.62 1215.59 L1189.63 1216.24 L1191.63 1216.88 L1193.64 1217.51 L1195.64 1218.15 L1197.64 1218.78 L1199.65 1219.4 L1201.65 1220.02 L1203.65 1220.64 L1205.66 1221.25 L1207.66 1221.86 L1209.66 1222.47 L1211.67 1223.07 L1213.67 1223.67 L1215.67 1224.26 L1217.68 1224.85 L1219.68 1225.44 L1221.68 1226.02 L1223.69 1226.6 L1225.69 1227.17 L1227.69 1227.74 L1229.7 1228.31 L1231.7 1228.87 L1233.7 1229.43 L1235.71 1229.99 L1237.71 1230.54 L1239.71 1231.09 L1241.72 1231.64 L1243.72 1232.18 L1245.73 1232.72 L1247.73 1233.25 L1249.73 1233.78 L1251.74 1234.31 L1253.74 1234.84 L1255.74 1235.36 L1257.75 1235.88 L1259.75 1236.39 L1261.75 1236.9 L1263.76 1237.41 L1265.76 1237.92 L1267.76 1238.42 L1269.77 1238.92 L1271.77 1239.42 L1273.77 1239.91 L1275.78 1240.4 L1277.78 1240.88 L1279.78 1241.37 L1281.79 1241.85 L1283.79 1242.32 L1285.79 1242.8 L1287.8 1243.27 L1289.8 1243.74 L1291.81 1244.2 L1293.81 1244.67 L1295.81 1245.12 L1297.82 1245.58 L1299.82 1246.04 L1301.82 1246.49 L1303.83 1246.93 L1305.83 1247.38 L1307.83 1247.82 L1309.84 1248.26 L1311.84 1248.7 L1313.84 1249.13 L1315.85 1249.56 L1317.85 1249.99 L1319.85 1250.42 L1321.86 1250.84 L1323.86 1251.26 L1325.86 1251.68 L1327.87 1252.1 L1329.87 1252.51 L1331.87 1252.92 L1333.88 1253.33 L1335.88 1253.74 L1337.88 1254.14 L1339.89 1254.54 L1341.89 1254.94 L1343.9 1255.33 L1345.9 1255.73 L1347.9 1256.12 L1349.91 1256.51 L1351.91 1256.89 L1353.91 1257.27 L1355.92 1257.66 L1357.92 1258.04 L1359.92 1258.41 L1361.93 1258.79 L1363.93 1259.16 L1365.93 1259.53 L1367.94 1259.9 L1369.94 1260.26 L1371.94 1260.62 L1373.95 1260.99 L1375.95 1261.34 L1377.95 1261.7 L1379.96 1262.06 L1381.96 1262.41 L1383.96 1262.76 L1385.97 1263.11 L1387.97 1263.45 L1389.97 1263.8 L1391.98 1264.14 L1393.98 1264.48 L1395.99 1264.82 L1397.99 1265.15 L1399.99 1265.49 L1402 1265.82 L1404 1266.15 L1406 1266.48 L1408.01 1266.8 L1410.01 1267.13 L1412.01 1267.45 L1414.02 1267.77 L1416.02 1268.09 L1418.02 1268.4 L1420.03 1268.72 L1422.03 1269.03 L1424.03 1269.34 L1426.04 1269.65 L1428.04 1269.96 L1430.04 1270.26 L1432.05 1270.56 L1434.05 1270.87 L1436.05 1271.17 L1438.06 1271.46 L1440.06 1271.76 L1442.06 1272.06 L1444.07 1272.35 L1446.07 1272.64 L1448.08 1272.93 L1450.08 1273.22 L1452.08 1273.5 L1454.09 1273.79 L1456.09 1274.07 L1458.09 1274.35 L1460.1 1274.63 L1462.1 1274.91 L1464.1 1275.19 L1466.11 1275.46 L1468.11 1275.74 L1470.11 1276.01 L1472.12 1276.28 L1474.12 1276.55 L1476.12 1276.81 L1478.13 1277.08 L1480.13 1277.34 L1482.13 1277.6 L1484.14 1277.87 L1486.14 1278.13 L1488.14 1278.38 L1490.15 1278.64 L1492.15 1278.9 L1494.16 1279.15 L1496.16 1279.4 L1498.16 1279.65 L1500.17 1279.9 L1502.17 1280.15 L1504.17 1280.4 L1506.18 1280.64 L1508.18 1280.88 L1510.18 1281.13 L1512.19 1281.37 L1514.19 1281.61 L1516.19 1281.85 L1518.2 1282.08 L1520.2 1282.32 L1522.2 1282.55 L1524.21 1282.79 L1526.21 1283.02 L1528.21 1283.25 L1530.22 1283.48 L1532.22 1283.7 L1534.22 1283.93 L1536.23 1284.16 L1538.23 1284.38 L1540.23 1284.6 L1542.24 1284.82 L1544.24 1285.05 L1546.25 1285.26 L1548.25 1285.48 L1550.25 1285.7 L1552.26 1285.91 L1554.26 1286.13 L1556.26 1286.34 L1558.27 1286.55 L1560.27 1286.77 L1562.27 1286.97 L1564.28 1287.18 L1566.28 1287.39 L1568.28 1287.6 L1570.29 1287.8 L1572.29 1288.01 L1574.29 1288.21 L1576.3 1288.41 L1578.3 1288.61 L1580.3 1288.81 L1582.31 1289.01 L1584.31 1289.21 L1586.31 1289.4 L1588.32 1289.6 L1590.32 1289.79 L1592.32 1289.99 L1594.33 1290.18 L1596.33 1290.37 L1598.34 1290.56 L1600.34 1290.75 L1602.34 1290.94 L1604.35 1291.12 L1606.35 1291.31 L1608.35 1291.5 L1610.36 1291.68 L1612.36 1291.86 L1614.36 1292.04 L1616.37 1292.23 L1618.37 1292.41 L1620.37 1292.59 L1622.38 1292.76 L1624.38 1292.94 L1626.38 1293.12 L1628.39 1293.29 L1630.39 1293.47 L1632.39 1293.64 L1634.4 1293.81 L1636.4 1293.99 L1638.4 1294.16 L1640.41 1294.33 L1642.41 1294.5 L1644.42 1294.66 L1646.42 1294.83 L1648.42 1295 L1650.43 1295.16 L1652.43 1295.33 L1654.43 1295.49 L1656.44 1295.66 L1658.44 1295.82 L1660.44 1295.98 L1662.45 1296.14 L1664.45 1296.3 L1666.45 1296.46 L1668.46 1296.62 L1670.46 1296.77 L1672.46 1296.93 L1674.47 1297.09 L1676.47 1297.24 L1678.47 1297.39 L1680.48 1297.55 L1682.48 1297.7 L1684.48 1297.85 L1686.49 1298 L1688.49 1298.15 L1690.49 1298.3 L1692.5 1298.45 L1694.5 1298.6 L1696.51 1298.75 L1698.51 1298.89 L1700.51 1299.04 L1702.52 1299.18 L1704.52 1299.33 L1706.52 1299.47 L1708.53 1299.61 L1710.53 1299.75 L1712.53 1299.9 L1714.54 1300.04 L1716.54 1300.18 L1718.54 1300.31 L1720.55 1300.45 L1722.55 1300.59 L1724.55 1300.73 L1726.56 1300.86 L1728.56 1301 L1730.56 1301.13 L1732.57 1301.27 L1734.57 1301.4 L1736.57 1301.54 L1738.58 1301.67 L1740.58 1301.8 L1742.58 1301.93 L1744.59 1302.06 L1746.59 1302.19 L1748.6 1302.32 L1750.6 1302.45 L1752.6 1302.58 L1754.61 1302.7 L1756.61 1302.83 L1758.61 1302.96 L1760.62 1303.08 L1762.62 1303.21 L1764.62 1303.33 L1766.63 1303.45 L1768.63 1303.58 L1770.63 1303.7 L1772.64 1303.82 L1774.64 1303.94 L1776.64 1304.06 L1778.65 1304.18 L1780.65 1304.3 L1782.65 1304.42 L1784.66 1304.54 L1786.66 1304.66 L1788.66 1304.77 L1790.67 1304.89 L1792.67 1305 L1794.67 1305.12 L1796.68 1305.23 L1798.68 1305.35 L1800.69 1305.46 L1802.69 1305.58 L1804.69 1305.69 L1806.7 1305.8 L1808.7 1305.91 L1810.7 1306.02 L1812.71 1306.13 L1814.71 1306.24 L1816.71 1306.35 L1818.72 1306.46 L1820.72 1306.57 L1822.72 1306.68 L1824.73 1306.79 L1826.73 1306.89 L1828.73 1307 L1830.74 1307.1 L1832.74 1307.21 L1834.74 1307.31 L1836.75 1307.42 L1838.75 1307.52 L1840.75 1307.63 L1842.76 1307.73 L1844.76 1307.83 L1846.77 1307.93 L1848.77 1308.03 L1850.77 1308.14" fill="none" stroke="#ff0080" stroke-width="6.3" stroke-linejoin="round"/>
<path id="c5T" d="M248.4 1338.2 L250.4 1338.2 L252.41 1338.2 L254.41 1338.2 L256.41 1338.2 L258.42 1338.2 L260.42 1338.2 L262.42 1338.2 L264.43 1338.2 L266.43 1338.2 L268.43 1338.2 L270.44 1338.2 L272.44 1338.19 L274.45 1338.17 L276.45 1338.13 L278.45 1338.05 L280.46 1337.89 L282.46 1337.61 L284.46 1337.16 L286.47 1336.49 L288.47 1335.53 L290.47 1334.21 L292.08 1332.86 L293.68 1331.22 L295.28 1329.25 L296.48 1327.54 L297.69 1325.63 L298.89 1323.5 L300.09 1321.15 L301.29 1318.57 L302.09 1316.72 L302.89 1314.77 L303.7 1312.71 L304.5 1310.55 L305.3 1308.29 L306.1 1305.91 L306.9 1303.43 L307.7 1300.85 L308.5 1298.16 L309.31 1295.37 L310.11 1292.48 L310.91 1289.48 L311.71 1286.39 L312.51 1283.19 L313.31 1279.9 L314.11 1276.52 L314.92 1273.03 L315.72 1269.46 L316.52 1265.8 L317.32 1262.05 L318.12 1258.22 L318.92 1254.3 L319.32 1252.31 L319.72 1250.3 L320.12 1248.27 L320.52 1246.22 L320.93 1244.15 L321.33 1242.07 L321.73 1239.96 L322.13 1237.84 L322.53 1235.7 L322.93 1233.54 L323.33 1231.37 L323.73 1229.18 L324.13 1226.97 L324.53 1224.74 L324.93 1222.5 L325.33 1220.25 L325.73 1217.97 L326.13 1215.69 L326.54 1213.39 L326.94 1211.07 L327.34 1208.74 L327.74 1206.4 L328.14 1204.04 L328.54 1201.67 L328.94 1199.29 L329.34 1196.89 L329.74 1194.48 L330.14 1192.06 L330.54 1189.63 L330.94 1187.19 L331.34 1184.74 L331.74 1182.27 L332.14 1179.8 L332.55 1177.31 L332.95 1174.82 L333.35 1172.31 L333.75 1169.8 L334.15 1167.28 L334.55 1164.75 L334.95 1162.21 L335.35 1159.66 L335.75 1157.1 L336.15 1154.54 L336.55 1151.97 L336.95 1149.39 L337.35 1146.81 L337.75 1144.21 L338.16 1141.62 L338.56 1139.01 L338.96 1136.4 L339.36 1133.79 L339.76 1131.17 L340.16 1128.54 L340.56 1125.91 L340.96 1123.27 L341.36 1120.63 L341.76 1117.99 L342.16 1115.34 L342.56 1112.69 L342.96 1110.03 L343.36 1107.38 L343.76 1104.71 L344.17 1102.05 L344.57 1099.38 L344.97 1096.71 L345.37 1094.04 L345.77 1091.37 L346.17 1088.69 L346.57 1086.01 L346.97 1083.33 L347.37 1080.65 L347.77 1077.97 L348.17 1075.29 L348.57 1072.6 L348.97 1069.92 L349.37 1067.23 L349.78 1064.55 L350.18 1061.86 L350.58 1059.18 L350.98 1056.49 L351.38 1053.81 L351.78 1051.13 L352.18 1048.44 L352.58 1045.76 L352.98 1043.08 L353.38 1040.4 L353.78 1037.72 L354.18 1035.04 L354.58 1032.37 L354.98 1029.69 L355.39 1027.02 L355.79 1024.35 L356.19 1021.68 L356.59 1019.02 L356.99 1016.35 L357.39 1013.69 L357.79 1011.03 L358.19 1008.38 L358.59 1005.72 L358.99 1003.07 L359.39 1000.43 L359.79 997.78 L360.19 995.14 L360.59 992.51 L360.99 989.87 L361.4 987.24 L361.8 984.62 L362.2 981.99 L362.6 979.37 L363 976.76 L363.4 974.15 L363.8 971.54 L364.2 968.94 L364.6 966.34 L365 963.75 L365.4 961.16 L365.8 958.57 L366.2 955.99 L366.6 953.42 L367.01 950.85 L367.41 948.28 L367.81 945.72 L368.21 943.17 L368.61 940.62 L369.01 938.07 L369.41 935.53 L369.81 933 L370.21 930.47 L370.61 927.94 L371.01 925.43 L371.41 922.91 L371.81 920.41 L372.21 917.9 L372.61 915.41 L373.02 912.92 L373.42 910.43 L373.82 907.96 L374.22 905.48 L374.62 903.02 L375.02 900.56 L375.42 898.1 L375.82 895.65 L376.22 893.21 L376.62 890.78 L377.02 888.35 L377.42 885.92 L377.82 883.51 L378.22 881.1 L378.63 878.69 L379.03 876.3 L379.43 873.9 L379.83 871.52 L380.23 869.14 L380.63 866.77 L381.03 864.41 L381.43 862.05 L381.83 859.7 L382.23 857.35 L382.63 855.02 L383.03 852.69 L383.43 850.36 L383.83 848.05 L384.23 845.74 L384.64 843.43 L385.04 841.14 L385.44 838.85 L385.84 836.57 L386.24 834.29 L386.64 832.02 L387.04 829.76 L387.44 827.51 L387.84 825.26 L388.24 823.02 L388.64 820.79 L389.04 818.57 L389.44 816.35 L389.84 814.14 L390.25 811.93 L390.65 809.74 L391.05 807.55 L391.45 805.37 L391.85 803.19 L392.25 801.03 L392.65 798.87 L393.05 796.72 L393.45 794.57 L393.85 792.44 L394.25 790.31 L394.65 788.18 L395.05 786.07 L395.45 783.96 L395.86 781.86 L396.26 779.77 L396.66 777.68 L397.06 775.61 L397.46 773.54 L397.86 771.48 L398.26 769.42 L398.66 767.37 L399.06 765.33 L399.46 763.3 L399.86 761.28 L400.26 759.26 L400.66 757.25 L401.06 755.25 L401.46 753.26 L401.87 751.27 L402.27 749.29 L402.67 747.32 L403.07 745.35 L403.87 741.45 L404.67 737.58 L405.47 733.73 L406.27 729.92 L407.07 726.14 L407.88 722.39 L408.68 718.67 L409.48 714.98 L410.28 711.32 L411.08 707.69 L411.88 704.09 L412.68 700.52 L413.49 696.99 L414.29 693.48 L415.09 690 L415.89 686.56 L416.69 683.14 L417.49 679.76 L418.29 676.41 L419.1 673.09 L419.9 669.79 L420.7 666.53 L421.5 663.3 L422.3 660.1 L423.1 656.93 L423.9 653.79 L424.7 650.68 L425.51 647.6 L426.31 644.55 L427.11 641.53 L427.91 638.54 L428.71 635.59 L429.51 632.66 L430.31 629.76 L431.12 626.89 L431.92 624.05 L432.72 621.24 L433.52 618.46 L434.32 615.71 L435.12 612.99 L435.92 610.3 L436.73 607.63 L437.53 605 L438.33 602.4 L439.13 599.82 L439.93 597.28 L440.73 594.79 L441.53 592.33 L442.34 589.9 L443.14 587.49 L443.94 585.12 L444.74 582.77 L445.54 580.46 L446.34 578.17 L447.14 575.91 L447.95 573.67 L448.75 571.47 L449.55 569.29 L450.35 567.14 L451.15 565.02 L451.95 562.93 L452.75 560.86 L453.55 558.82 L454.36 556.81 L455.16 554.82 L455.96 552.87 L456.76 550.93 L457.56 549.03 L458.36 547.15 L459.16 545.3 L460.37 542.58 L461.57 539.91 L462.77 537.3 L463.97 534.75 L465.18 532.26 L466.38 529.83 L467.58 527.45 L468.78 525.14 L469.98 522.87 L471.19 520.67 L472.39 518.52 L473.59 516.42 L474.79 514.39 L475.99 512.4 L477.2 510.47 L478.4 508.59 L479.6 506.77 L480.8 505 L482 503.28 L483.21 501.62 L484.41 500.01 L486.01 497.93 L487.61 495.95 L489.22 494.06 L490.82 492.26 L492.42 490.54 L494.02 488.91 L495.63 487.36 L497.23 485.9 L498.83 484.52 L500.44 483.22 L502.04 482 L504.04 480.59 L506.05 479.3 L508.05 478.13 L510.05 477.08 L512.06 476.15 L514.06 475.33 L516.06 474.63 L518.07 474.04 L520.07 473.56 L522.07 473.19 L524.08 472.93 L526.08 472.77 L528.08 472.71 L530.09 472.76 L532.09 472.9 L534.09 473.14 L536.1 473.48 L538.1 473.91 L540.1 474.43 L542.11 475.04 L544.11 475.74 L546.12 476.52 L548.12 477.38 L550.12 478.33 L552.13 479.35 L554.13 480.45 L556.13 481.63 L558.14 482.88 L560.14 484.2 L562.14 485.59 L564.15 487.05 L565.75 488.27 L567.35 489.53 L568.95 490.82 L570.56 492.16 L572.16 493.54 L573.76 494.95 L575.37 496.4 L576.97 497.89 L578.57 499.42 L580.17 500.97 L581.78 502.57 L583.38 504.19 L584.98 505.85 L586.59 507.54 L588.19 509.26 L589.79 511 L591.39 512.78 L593 514.59 L594.6 516.43 L596.2 518.29 L597.8 520.19 L599.41 522.11 L601.01 524.06 L602.61 526.04 L604.22 528.03 L605.82 530.05 L607.42 532.1 L609.02 534.16 L610.63 536.24 L612.23 538.34 L613.83 540.46 L615.43 542.59 L616.64 544.2 L617.84 545.81 L619.04 547.44 L620.24 549.07 L621.45 550.71 L622.65 552.35 L623.85 554 L625.05 555.66 L626.25 557.33 L627.46 559 L628.66 560.67 L629.86 562.36 L631.06 564.05 L632.26 565.74 L633.47 567.45 L634.67 569.16 L635.87 570.88 L637.07 572.6 L638.27 574.34 L639.48 576.08 L640.68 577.82 L641.88 579.58 L643.08 581.34 L644.28 583.11 L645.49 584.89 L646.69 586.67 L647.89 588.46 L649.09 590.27 L650.3 592.07 L651.5 593.89 L652.7 595.72 L653.9 597.55 L655.1 599.38 L656.31 601.22 L657.51 603.07 L658.71 604.91 L659.91 606.77 L661.11 608.63 L662.32 610.49 L663.52 612.35 L664.72 614.22 L665.92 616.09 L667.12 617.97 L668.33 619.85 L669.53 621.73 L670.73 623.61 L671.93 625.5 L673.13 627.39 L674.34 629.28 L675.54 631.17 L676.74 633.07 L677.94 634.96 L679.15 636.86 L680.35 638.76 L681.55 640.66 L682.75 642.57 L683.95 644.47 L685.16 646.37 L686.36 648.28 L687.56 650.19 L688.76 652.09 L689.96 654 L691.17 655.9 L692.37 657.81 L693.57 659.71 L694.77 661.61 L695.97 663.51 L697.18 665.41 L698.38 667.31 L699.58 669.2 L700.78 671.09 L701.98 672.98 L703.19 674.87 L704.39 676.75 L705.59 678.64 L706.79 680.52 L708 682.4 L709.2 684.27 L710.4 686.15 L711.6 688.02 L712.8 689.89 L714.01 691.75 L715.21 693.62 L716.41 695.48 L717.61 697.34 L718.81 699.2 L720.02 701.05 L721.22 702.91 L722.42 704.76 L723.62 706.6 L724.82 708.45 L726.03 710.29 L727.23 712.13 L728.43 713.96 L729.63 715.8 L730.83 717.63 L732.04 719.46 L733.24 721.28 L734.44 723.11 L735.64 724.93 L736.84 726.74 L738.05 728.56 L739.25 730.37 L740.45 732.18 L741.65 733.99 L742.86 735.79 L744.06 737.59 L745.26 739.39 L746.46 741.19 L747.66 742.98 L748.87 744.77 L750.07 746.56 L751.27 748.34 L752.47 750.12 L753.67 751.9 L754.88 753.68 L756.08 755.45 L757.28 757.22 L758.48 758.99 L759.68 760.76 L760.89 762.52 L762.09 764.28 L763.29 766.04 L764.49 767.79 L765.69 769.55 L766.9 771.3 L768.1 773.04 L769.3 774.79 L770.5 776.53 L771.71 778.27 L772.91 780.01 L774.11 781.74 L775.31 783.48 L776.51 785.2 L777.72 786.93 L778.92 788.66 L780.12 790.38 L781.32 792.1 L782.52 793.82 L783.73 795.53 L784.93 797.25 L786.13 798.96 L787.33 800.67 L788.53 802.37 L789.74 804.08 L790.94 805.78 L792.14 807.48 L793.34 809.18 L794.54 810.87 L795.75 812.57 L796.95 814.26 L798.15 815.95 L799.35 817.64 L800.56 819.32 L801.76 821.01 L802.96 822.68 L804.16 824.36 L805.36 826.03 L806.57 827.69 L807.77 829.35 L808.97 831.01 L810.17 832.66 L811.37 834.31 L812.58 835.95 L813.78 837.59 L814.98 839.23 L816.18 840.86 L817.38 842.48 L818.59 844.1 L819.79 845.72 L820.99 847.33 L822.19 848.94 L823.39 850.55 L824.6 852.14 L826.2 854.27 L827.8 856.39 L829.41 858.5 L831.01 860.6 L832.61 862.69 L834.21 864.78 L835.82 866.86 L837.42 868.93 L839.02 870.99 L840.62 873.04 L842.23 875.09 L843.83 877.13 L845.43 879.16 L847.04 881.18 L848.64 883.19 L850.24 885.2 L851.84 887.2 L853.45 889.19 L855.05 891.17 L856.65 893.14 L858.26 895.11 L859.86 897.06 L861.46 899.01 L863.06 900.95 L864.67 902.89 L866.27 904.81 L867.87 906.73 L869.47 908.64 L871.08 910.54 L872.68 912.43 L874.28 914.32 L875.89 916.2 L877.49 918.06 L879.09 919.93 L880.69 921.78 L882.3 923.62 L883.9 925.46 L885.5 927.29 L887.1 929.11 L888.71 930.93 L890.31 932.73 L891.91 934.53 L893.52 936.32 L895.12 938.1 L896.72 939.88 L898.32 941.64 L899.93 943.4 L901.53 945.15 L903.13 946.9 L904.74 948.63 L906.34 950.36 L907.94 952.08 L909.54 953.79 L911.15 955.5 L912.75 957.19 L914.35 958.88 L915.95 960.56 L917.56 962.24 L919.16 963.9 L920.76 965.56 L922.37 967.21 L923.97 968.86 L925.57 970.5 L927.17 972.12 L928.78 973.75 L930.38 975.36 L931.98 976.97 L933.59 978.57 L935.19 980.16 L936.79 981.74 L938.39 983.32 L940 984.89 L941.6 986.45 L943.2 988.01 L944.8 989.55 L946.41 991.1 L948.01 992.63 L949.61 994.16 L951.22 995.67 L952.82 997.19 L954.42 998.69 L956.02 1000.19 L957.63 1001.68 L959.23 1003.17 L960.83 1004.64 L962.44 1006.11 L964.04 1007.58 L965.64 1009.03 L967.24 1010.48 L968.85 1011.92 L970.45 1013.36 L972.05 1014.79 L973.65 1016.21 L975.26 1017.63 L976.86 1019.04 L978.46 1020.44 L980.07 1021.83 L981.67 1023.22 L983.27 1024.6 L984.87 1025.98 L986.48 1027.35 L988.08 1028.71 L989.68 1030.07 L991.29 1031.41 L992.89 1032.76 L994.49 1034.09 L996.09 1035.42 L997.7 1036.75 L999.3 1038.06 L1000.9 1039.37 L1002.5 1040.68 L1004.11 1041.98 L1005.71 1043.27 L1007.31 1044.56 L1008.92 1045.83 L1010.52 1047.11 L1012.12 1048.38 L1013.72 1049.64 L1015.33 1050.89 L1016.93 1052.14 L1018.53 1053.38 L1020.14 1054.62 L1021.74 1055.85 L1023.34 1057.08 L1024.94 1058.29 L1026.55 1059.51 L1028.15 1060.71 L1029.75 1061.92 L1031.76 1063.41 L1033.76 1064.89 L1035.76 1066.37 L1037.77 1067.84 L1039.77 1069.29 L1041.77 1070.74 L1043.78 1072.18 L1045.78 1073.61 L1047.78 1075.03 L1049.79 1076.45 L1051.79 1077.85 L1053.79 1079.25 L1055.8 1080.64 L1057.8 1082.02 L1059.8 1083.39 L1061.81 1084.75 L1063.81 1086.1 L1065.81 1087.45 L1067.82 1088.79 L1069.82 1090.12 L1071.82 1091.44 L1073.83 1092.75 L1075.83 1094.06 L1077.83 1095.36 L1079.84 1096.65 L1081.84 1097.93 L1083.85 1099.2 L1085.85 1100.47 L1087.85 1101.73 L1089.86 1102.98 L1091.86 1104.22 L1093.86 1105.45 L1095.87 1106.68 L1097.87 1107.9 L1099.87 1109.12 L1101.88 1110.32 L1103.88 1111.52 L1105.88 1112.71 L1107.89 1113.89 L1109.89 1115.07 L1111.89 1116.24 L1113.9 1117.4 L1115.9 1118.56 L1117.9 1119.7 L1119.91 1120.84 L1121.91 1121.98 L1123.91 1123.1 L1125.92 1124.22 L1127.92 1125.34 L1129.92 1126.44 L1131.93 1127.54 L1133.93 1128.64 L1135.94 1129.72 L1137.94 1130.8 L1139.94 1131.88 L1141.95 1132.94 L1143.95 1134 L1145.95 1135.06 L1147.96 1136.1 L1149.96 1137.14 L1151.96 1138.18 L1153.97 1139.21 L1155.97 1140.23 L1157.97 1141.24 L1159.98 1142.25 L1161.98 1143.26 L1163.98 1144.25 L1165.99 1145.24 L1167.99 1146.23 L1169.99 1147.21 L1172 1148.18 L1174 1149.15 L1176 1150.11 L1178.01 1151.07 L1180.01 1152.02 L1182.02 1152.96 L1184.02 1153.9 L1186.02 1154.83 L1188.03 1155.76 L1190.03 1156.68 L1192.03 1157.6 L1194.04 1158.51 L1196.04 1159.41 L1198.04 1160.31 L1200.05 1161.2 L1202.05 1162.09 L1204.05 1162.98 L1206.06 1163.85 L1208.06 1164.73 L1210.06 1165.59 L1212.07 1166.46 L1214.07 1167.31 L1216.07 1168.17 L1218.08 1169.01 L1220.08 1169.85 L1222.08 1170.69 L1224.09 1171.52 L1226.09 1172.35 L1228.09 1173.17 L1230.1 1173.99 L1232.1 1174.8 L1234.11 1175.6 L1236.11 1176.41 L1238.11 1177.2 L1240.12 1178 L1242.12 1178.78 L1244.12 1179.57 L1246.13 1180.35 L1248.13 1181.12 L1250.13 1181.89 L1252.14 1182.65 L1254.14 1183.41 L1256.14 1184.17 L1258.15 1184.92 L1260.15 1185.67 L1262.15 1186.41 L1264.16 1187.15 L1266.16 1187.88 L1268.16 1188.61 L1270.17 1189.33 L1272.17 1190.05 L1274.17 1190.77 L1276.18 1191.48 L1278.18 1192.19 L1280.18 1192.89 L1282.19 1193.59 L1284.19 1194.29 L1286.2 1194.98 L1288.2 1195.67 L1290.2 1196.35 L1292.21 1197.03 L1294.21 1197.7 L1296.21 1198.37 L1298.22 1199.04 L1300.22 1199.7 L1302.22 1200.36 L1304.23 1201.02 L1306.23 1201.67 L1308.23 1202.32 L1310.24 1202.96 L1312.24 1203.6 L1314.24 1204.24 L1316.25 1204.87 L1318.25 1205.5 L1320.25 1206.13 L1322.26 1206.75 L1324.26 1207.37 L1326.26 1207.98 L1328.27 1208.59 L1330.27 1209.2 L1332.28 1209.8 L1334.28 1210.4 L1336.28 1211 L1338.29 1211.59 L1340.29 1212.18 L1342.29 1212.77 L1344.3 1213.35 L1346.3 1213.93 L1348.3 1214.51 L1350.31 1215.08 L1352.31 1215.65 L1354.31 1216.22 L1356.32 1216.78 L1358.32 1217.34 L1360.32 1217.9 L1362.33 1218.45 L1364.33 1219 L1366.33 1219.55 L1368.34 1220.1 L1370.34 1220.64 L1372.34 1221.18 L1374.35 1221.71 L1376.35 1222.24 L1378.35 1222.77 L1380.36 1223.3 L1382.36 1223.82 L1384.37 1224.34 L1386.37 1224.86 L1388.37 1225.37 L1390.38 1225.88 L1392.38 1226.39 L1394.38 1226.89 L1396.39 1227.4 L1398.39 1227.9 L1400.39 1228.39 L1402.4 1228.89 L1404.4 1229.38 L1406.4 1229.87 L1408.41 1230.35 L1410.41 1230.84 L1412.41 1231.32 L1414.42 1231.79 L1416.42 1232.27 L1418.42 1232.74 L1420.43 1233.21 L1422.43 1233.68 L1424.43 1234.14 L1426.44 1234.6 L1428.44 1235.06 L1430.44 1235.52 L1432.45 1235.97 L1434.45 1236.42 L1436.46 1236.87 L1438.46 1237.32 L1440.46 1237.76 L1442.47 1238.2 L1444.47 1238.64 L1446.47 1239.08 L1448.48 1239.51 L1450.48 1239.95 L1452.48 1240.38 L1454.49 1240.8 L1456.49 1241.23 L1458.49 1241.65 L1460.5 1242.07 L1462.5 1242.49 L1464.5 1242.9 L1466.51 1243.31 L1468.51 1243.73 L1470.51 1244.13 L1472.52 1244.54 L1474.52 1244.94 L1476.52 1245.35 L1478.53 1245.75 L1480.53 1246.14 L1482.53 1246.54 L1484.54 1246.93 L1486.54 1247.32 L1488.55 1247.7 L1490.55 1248.08 L1492.55 1248.46 L1494.56 1248.83 L1496.56 1249.19 L1498.56 1249.55 L1500.57 1249.91 L1502.57 1250.27 L1504.57 1250.62 L1506.58 1250.96 L1508.58 1251.3 L1510.58 1251.64 L1512.59 1251.98 L1514.59 1252.31 L1516.59 1252.64 L1518.6 1252.97 L1520.6 1253.29 L1522.6 1253.61 L1524.61 1253.93 L1526.61 1254.25 L1528.61 1254.56 L1530.62 1254.88 L1532.62 1255.19 L1534.63 1255.5 L1536.63 1255.81 L1538.63 1256.11 L1540.64 1256.42 L1542.64 1256.72 L1544.64 1257.02 L1546.65 1257.32 L1548.65 1257.63 L1550.65 1257.93 L1552.66 1258.23 L1554.66 1258.53 L1556.66 1258.83 L1558.67 1259.13 L1560.67 1259.42 L1562.67 1259.72 L1564.68 1260.02 L1566.68 1260.32 L1568.68 1260.62 L1570.69 1260.91 L1572.69 1261.21 L1574.69 1261.5 L1576.7 1261.79 L1578.7 1262.08 L1580.7 1262.36 L1582.71 1262.65 L1584.71 1262.93 L1586.72 1263.21 L1588.72 1263.49 L1590.72 1263.77 L1592.73 1264.05 L1594.73 1264.33 L1596.73 1264.6 L1598.74 1264.88 L1600.74 1265.15 L1602.74 1265.42 L1604.75 1265.69 L1606.75 1265.96 L1608.75 1266.23 L1610.76 1266.5 L1612.76 1266.77 L1614.76 1267.03 L1616.77 1267.3 L1618.77 1267.56 L1620.77 1267.83 L1622.78 1268.09 L1624.78 1268.35 L1626.78 1268.61 L1628.79 1268.87 L1630.79 1269.13 L1632.79 1269.39 L1634.8 1269.65 L1636.8 1269.91 L1638.81 1270.17 L1640.81 1270.43 L1642.81 1270.69 L1644.82 1270.95 L1646.82 1271.2 L1648.82 1271.46 L1650.83 1271.72 L1652.83 1271.97 L1654.83 1272.23 L1656.84 1272.49 L1658.84 1272.74 L1660.84 1273 L1662.85 1273.25 L1664.85 1273.51 L1666.85 1273.76 L1668.86 1274.02 L1670.86 1274.27 L1672.86 1274.52 L1674.87 1274.77 L1676.87 1275.02 L1678.87 1275.28 L1680.88 1275.53 L1682.88 1275.77 L1684.89 1276.02 L1686.89 1276.27 L1688.89 1276.52 L1690.9 1276.76 L1692.9 1277.01 L1694.9 1277.25 L1696.91 1277.49 L1698.91 1277.73 L1700.91 1277.97 L1702.92 1278.21 L1704.92 1278.45 L1706.92 1278.69 L1708.93 1278.93 L1710.93 1279.16 L1712.93 1279.39 L1714.94 1279.63 L1716.94 1279.86 L1718.94 1280.09 L1720.95 1280.31 L1722.95 1280.54 L1724.95 1280.76 L1726.96 1280.99 L1728.96 1281.21 L1730.96 1281.43 L1732.97 1281.66 L1734.97 1281.88 L1736.98 1282.1 L1738.98 1282.31 L1740.98 1282.53 L1742.99 1282.75 L1744.99 1282.96 L1746.99 1283.18 L1749 1283.39 L1751 1283.61 L1753 1283.82 L1755.01 1284.03 L1757.01 1284.24 L1759.01 1284.45 L1761.02 1284.66 L1763.02 1284.87 L1765.02 1285.08 L1767.03 1285.28 L1769.03 1285.49 L1771.03 1285.69 L1773.04 1285.9 L1775.04 1286.1 L1777.04 1286.3 L1779.05 1286.5 L1781.05 1286.7 L1783.05 1286.9 L1785.06 1287.1 L1787.06 1287.3 L1789.07 1287.5 L1791.07 1287.7 L1793.07 1287.89 L1795.08 1288.09 L1797.08 1288.28 L1799.08 1288.48 L1801.09 1288.67 L1803.09 1288.86 L1805.09 1289.05 L1807.1 1289.24 L1809.1 1289.43 L1811.1 1289.62 L1813.11 1289.81 L1815.11 1290 L1817.11 1290.19 L1819.12 1290.37 L1821.12 1290.56 L1823.12 1290.74 L1825.13 1290.93 L1827.13 1291.11 L1829.13 1291.29 L1831.14 1291.48 L1833.14 1291.66 L1835.14 1291.84 L1837.15 1292.02 L1839.15 1292.2 L1841.16 1292.38 L1843.16 1292.55 L1845.16 1292.71 L1847.17 1292.87 L1849.17 1293.03 L1850.77 1293.15" fill="none" stroke="#008000" stroke-width="6.3" stroke-linejoin="round"/>
<path id="c6T" d="M248.4 1338.2 L250.4 1338.2 L252.41 1338.2 L254.41 1338.2 L256.41 1338.2 L258.42 1338.2 L260.42 1338.2 L262.42 1338.2 L264.43 1338.17 L266.43 1338.09 L268.43 1337.86 L270.44 1337.35 L272.44 1336.37 L274.04 1335.13 L275.65 1333.36 L276.85 1331.62 L278.05 1329.5 L279.25 1326.95 L280.05 1325.01 L280.86 1322.85 L281.66 1320.49 L282.46 1317.9 L283.26 1315.09 L284.06 1312.06 L284.86 1308.8 L285.66 1305.31 L286.47 1301.6 L287.27 1297.66 L287.67 1295.61 L288.07 1293.5 L288.47 1291.34 L288.87 1289.12 L289.27 1286.85 L289.67 1284.52 L290.07 1282.14 L290.47 1279.71 L290.87 1277.22 L291.27 1274.69 L291.67 1272.1 L292.08 1269.46 L292.48 1266.78 L292.88 1264.04 L293.28 1261.26 L293.68 1258.43 L294.08 1255.55 L294.48 1252.63 L294.88 1249.67 L295.28 1246.66 L295.68 1243.6 L296.08 1240.51 L296.48 1237.37 L296.88 1234.2 L297.28 1230.98 L297.69 1227.73 L298.09 1224.44 L298.49 1221.11 L298.89 1217.75 L299.29 1214.35 L299.69 1210.92 L300.09 1207.46 L300.49 1203.96 L300.89 1200.43 L301.29 1196.88 L301.69 1193.29 L302.09 1189.68 L302.49 1186.04 L302.89 1182.37 L303.29 1178.68 L303.7 1174.96 L304.1 1171.22 L304.5 1167.46 L304.9 1163.68 L305.3 1159.87 L305.7 1156.05 L306.1 1152.2 L306.5 1148.34 L306.9 1144.46 L307.3 1140.56 L307.7 1136.65 L308.1 1132.73 L308.5 1128.78 L308.9 1124.83 L309.31 1120.86 L309.71 1116.88 L310.11 1112.89 L310.51 1108.89 L310.91 1104.88 L311.31 1100.86 L311.71 1096.84 L312.11 1092.8 L312.51 1088.76 L312.91 1084.71 L313.31 1080.66 L313.71 1076.6 L314.11 1072.54 L314.51 1068.48 L314.92 1064.41 L315.32 1060.34 L315.72 1056.27 L316.12 1052.19 L316.52 1048.12 L316.92 1044.04 L317.32 1039.97 L317.72 1035.9 L318.12 1031.83 L318.52 1027.76 L318.92 1023.69 L319.32 1019.62 L319.72 1015.56 L320.12 1011.51 L320.52 1007.46 L320.93 1003.41 L321.33 999.37 L321.73 995.33 L322.13 991.3 L322.53 987.27 L322.93 983.26 L323.33 979.25 L323.73 975.24 L324.13 971.25 L324.53 967.26 L324.93 963.28 L325.33 959.31 L325.73 955.35 L326.13 951.4 L326.54 947.46 L326.94 943.53 L327.34 939.61 L327.74 935.7 L328.14 931.8 L328.54 927.91 L328.94 924.03 L329.34 920.17 L329.74 916.32 L330.14 912.47 L330.54 908.65 L330.94 904.83 L331.34 901.02 L331.74 897.23 L332.14 893.46 L332.55 889.69 L332.95 885.94 L333.35 882.2 L333.75 878.48 L334.15 874.76 L334.55 871.07 L334.95 867.38 L335.35 863.72 L335.75 860.06 L336.15 856.42 L336.55 852.8 L336.95 849.19 L337.35 845.59 L337.75 842.01 L338.16 838.44 L338.56 834.89 L338.96 831.36 L339.36 827.84 L339.76 824.33 L340.16 820.84 L340.56 817.37 L340.96 813.91 L341.36 810.46 L341.76 807.03 L342.16 803.62 L342.56 800.23 L342.96 796.84 L343.36 793.48 L343.76 790.13 L344.17 786.8 L344.57 783.48 L344.97 780.17 L345.37 776.89 L345.77 773.62 L346.17 770.36 L346.57 767.12 L346.97 763.9 L347.37 760.69 L347.77 757.5 L348.17 754.33 L348.57 751.17 L348.97 748.02 L349.37 744.9 L349.78 741.78 L350.18 738.69 L350.58 735.61 L350.98 732.54 L351.38 729.49 L351.78 726.46 L352.18 723.44 L352.58 720.44 L352.98 717.45 L353.38 714.48 L353.78 711.53 L354.18 708.59 L354.58 705.66 L354.98 702.76 L355.39 699.86 L355.79 696.98 L356.19 694.12 L356.59 691.27 L356.99 688.44 L357.39 685.63 L357.79 682.82 L358.19 680.04 L358.59 677.27 L358.99 674.51 L359.39 671.77 L359.79 669.04 L360.19 666.33 L360.59 663.63 L360.99 660.95 L361.4 658.28 L361.8 655.63 L362.2 652.99 L362.6 650.37 L363 647.76 L363.4 645.16 L363.8 642.58 L364.2 640.02 L364.6 637.46 L365 634.93 L365.4 632.4 L365.8 629.89 L366.2 627.4 L366.6 624.92 L367.01 622.45 L367.41 619.99 L367.81 617.55 L368.21 615.12 L368.61 612.71 L369.01 610.31 L369.41 607.92 L369.81 605.55 L370.21 603.19 L370.61 600.85 L371.01 598.51 L371.41 596.19 L371.81 593.88 L372.21 591.59 L372.61 589.31 L373.02 587.04 L373.42 584.79 L373.82 582.54 L374.22 580.31 L374.62 578.1 L375.02 575.89 L375.42 573.7 L375.82 571.52 L376.22 569.35 L376.62 567.19 L377.02 565.05 L377.42 562.92 L377.82 560.8 L378.22 558.69 L378.63 556.6 L379.03 554.52 L379.43 552.45 L379.83 550.39 L380.23 548.34 L380.63 546.3 L381.03 544.28 L381.43 542.26 L381.83 540.26 L382.23 538.27 L382.63 536.29 L383.03 534.33 L383.83 530.43 L384.64 526.57 L385.44 522.76 L386.24 518.99 L387.04 515.26 L387.84 511.58 L388.64 507.94 L389.44 504.34 L390.25 500.78 L391.05 497.26 L391.85 493.78 L392.65 490.34 L393.45 486.95 L394.25 483.59 L395.05 480.27 L395.86 476.98 L396.66 473.74 L397.46 470.53 L398.26 467.36 L399.06 464.23 L399.86 461.14 L400.66 458.08 L401.46 455.05 L402.27 452.06 L403.07 449.11 L403.87 446.19 L404.67 443.3 L405.47 440.45 L406.27 437.63 L407.07 434.85 L407.88 432.1 L408.68 429.38 L409.48 426.69 L410.28 424.04 L411.08 421.42 L411.88 418.83 L412.68 416.27 L413.49 413.74 L414.29 411.24 L415.09 408.77 L415.89 406.34 L416.69 403.93 L417.49 401.55 L418.29 399.2 L419.1 396.89 L419.9 394.6 L420.7 392.34 L421.5 390.1 L422.3 387.9 L423.1 385.72 L423.9 383.57 L424.7 381.45 L425.51 379.36 L426.31 377.29 L427.11 375.25 L427.91 373.24 L428.71 371.26 L429.51 369.3 L430.31 367.36 L431.12 365.46 L431.92 363.57 L432.72 361.72 L433.92 358.98 L435.12 356.3 L436.33 353.68 L437.53 351.11 L438.73 348.6 L439.93 346.14 L441.13 343.76 L442.34 341.44 L443.54 339.17 L444.74 336.95 L445.94 334.78 L447.14 332.67 L448.35 330.6 L449.55 328.59 L450.75 326.62 L451.95 324.71 L453.15 322.84 L454.36 321.02 L455.56 319.25 L456.76 317.53 L457.96 315.85 L459.16 314.23 L460.77 312.13 L462.37 310.11 L463.97 308.17 L465.58 306.31 L467.18 304.53 L468.78 302.83 L470.38 301.2 L471.99 299.65 L473.59 298.18 L475.19 296.78 L476.8 295.45 L478.4 294.2 L480.4 292.73 L482.4 291.37 L484.41 290.12 L486.41 288.98 L488.42 287.94 L490.42 287 L492.42 286.17 L494.43 285.44 L496.43 284.81 L498.43 284.27 L500.44 283.83 L502.44 283.49 L504.44 283.24 L506.45 283.08 L508.45 283.01 L510.45 283.03 L512.46 283.13 L514.46 283.33 L516.46 283.6 L518.47 283.97 L520.47 284.41 L522.47 284.94 L524.48 285.54 L526.48 286.23 L528.48 286.99 L530.49 287.83 L532.49 288.74 L534.49 289.73 L536.5 290.79 L538.5 291.92 L540.51 293.12 L542.51 294.38 L544.51 295.72 L546.52 297.12 L548.52 298.58 L550.12 299.8 L551.72 301.06 L553.33 302.36 L554.93 303.7 L556.53 305.07 L558.14 306.48 L559.74 307.93 L561.34 309.42 L562.94 310.94 L564.55 312.5 L566.15 314.09 L567.75 315.72 L569.36 317.38 L570.96 319.07 L572.56 320.79 L574.16 322.55 L575.77 324.34 L577.37 326.16 L578.97 328 L580.57 329.88 L582.18 331.79 L583.78 333.73 L585.38 335.69 L586.99 337.68 L588.59 339.7 L590.19 341.75 L591.79 343.82 L593.4 345.92 L595 348.04 L596.2 349.65 L597.4 351.27 L598.61 352.9 L599.81 354.55 L601.01 356.21 L602.21 357.89 L603.41 359.57 L604.62 361.27 L605.82 362.98 L607.02 364.7 L608.22 366.43 L609.42 368.18 L610.63 369.93 L611.83 371.7 L613.03 373.47 L614.23 375.26 L615.43 377.06 L616.64 378.87 L617.84 380.68 L619.04 382.51 L620.24 384.35 L621.45 386.19 L622.65 388.05 L623.85 389.91 L625.05 391.79 L626.25 393.67 L627.46 395.56 L628.66 397.45 L629.86 399.36 L631.06 401.27 L632.26 403.2 L633.47 405.12 L634.67 407.06 L635.87 409.01 L637.07 410.96 L638.27 412.91 L639.48 414.88 L640.68 416.85 L641.88 418.83 L643.08 420.81 L644.28 422.8 L645.49 424.79 L646.69 426.8 L647.89 428.8 L649.09 430.81 L650.3 432.83 L651.5 434.85 L652.7 436.88 L653.9 438.91 L655.1 440.95 L656.31 442.99 L657.51 445.04 L658.71 447.09 L659.91 449.15 L661.11 451.2 L662.32 453.27 L663.52 455.33 L664.72 457.4 L665.92 459.48 L667.12 461.55 L668.33 463.63 L669.53 465.72 L670.73 467.8 L671.93 469.89 L673.13 471.98 L674.34 474.08 L675.54 476.18 L676.74 478.28 L677.94 480.38 L679.15 482.48 L680.35 484.59 L681.55 486.69 L682.75 488.8 L683.95 490.92 L685.16 493.03 L686.36 495.14 L687.56 497.26 L688.76 499.38 L689.96 501.5 L691.17 503.61 L692.37 505.74 L693.57 507.86 L694.77 509.98 L695.97 512.1 L697.18 514.23 L698.38 516.35 L699.58 518.47 L700.78 520.6 L701.98 522.72 L703.19 524.85 L704.39 526.97 L705.59 529.1 L706.79 531.22 L708 533.35 L709.2 535.47 L710.4 537.6 L711.6 539.72 L712.8 541.84 L714.01 543.97 L715.21 546.09 L716.41 548.21 L717.61 550.33 L718.81 552.45 L720.02 554.57 L721.22 556.68 L722.42 558.8 L723.62 560.91 L724.82 563.03 L726.03 565.14 L727.23 567.25 L728.43 569.36 L729.63 571.47 L730.83 573.57 L732.04 575.68 L733.24 577.78 L734.44 579.88 L735.64 581.98 L736.84 584.08 L738.05 586.17 L739.25 588.27 L740.45 590.36 L741.65 592.46 L742.86 594.55 L744.06 596.64 L745.26 598.73 L746.46 600.82 L747.66 602.9 L748.87 604.99 L750.07 607.07 L751.27 609.15 L752.47 611.23 L753.67 613.3 L754.88 615.37 L756.08 617.44 L757.28 619.51 L758.48 621.57 L759.68 623.63 L760.89 625.68 L762.09 627.73 L763.29 629.78 L764.49 631.82 L765.69 633.86 L766.9 635.89 L768.1 637.92 L769.3 639.94 L770.5 641.96 L771.71 643.98 L772.91 645.98 L774.11 647.99 L775.31 649.98 L776.51 651.98 L777.72 653.97 L778.92 655.95 L780.12 657.93 L781.32 659.9 L782.52 661.87 L783.73 663.84 L784.93 665.8 L786.13 667.76 L787.33 669.71 L788.53 671.66 L789.74 673.6 L790.94 675.54 L792.14 677.47 L793.34 679.4 L794.54 681.33 L795.75 683.25 L796.95 685.16 L798.15 687.08 L799.35 688.98 L800.56 690.88 L801.76 692.78 L802.96 694.67 L804.16 696.56 L805.36 698.45 L806.57 700.33 L807.77 702.2 L808.97 704.07 L810.17 705.94 L811.37 707.8 L812.58 709.65 L813.78 711.5 L814.98 713.35 L816.18 715.19 L817.38 717.03 L818.59 718.86 L819.79 720.69 L820.99 722.52 L822.19 724.34 L823.39 726.15 L824.6 727.96 L825.8 729.77 L827 731.57 L828.2 733.37 L829.41 735.16 L830.61 736.95 L831.81 738.73 L833.01 740.51 L834.21 742.29 L835.42 744.06 L836.62 745.82 L837.82 747.58 L839.02 749.34 L840.22 751.09 L841.43 752.84 L842.63 754.59 L843.83 756.33 L845.03 758.06 L846.23 759.79 L847.44 761.52 L848.64 763.24 L849.84 764.96 L851.04 766.67 L852.24 768.38 L853.45 770.09 L854.65 771.79 L855.85 773.49 L857.05 775.18 L858.26 776.87 L859.46 778.55 L860.66 780.23 L861.86 781.91 L863.06 783.58 L864.27 785.25 L865.47 786.91 L866.67 788.57 L867.87 790.23 L869.07 791.88 L870.28 793.53 L871.48 795.17 L872.68 796.81 L873.88 798.44 L875.08 800.08 L876.29 801.7 L877.49 803.33 L878.69 804.95 L879.89 806.57 L881.09 808.18 L882.3 809.79 L883.5 811.39 L884.7 812.99 L886.3 815.12 L887.91 817.25 L889.51 819.36 L891.11 821.47 L892.71 823.58 L894.32 825.67 L895.92 827.76 L897.52 829.85 L899.13 831.93 L900.73 834 L902.33 836.06 L903.93 838.12 L905.54 840.17 L907.14 842.21 L908.74 844.24 L910.35 846.26 L911.95 848.28 L913.55 850.29 L915.15 852.29 L916.76 854.28 L918.36 856.26 L919.96 858.24 L921.56 860.21 L923.17 862.17 L924.77 864.12 L926.37 866.06 L927.98 868 L929.58 869.93 L931.18 871.85 L932.78 873.77 L934.39 875.67 L935.99 877.57 L937.59 879.46 L939.2 881.34 L940.8 883.21 L942.4 885.08 L944 886.94 L945.61 888.79 L947.21 890.64 L948.81 892.47 L950.41 894.3 L952.02 896.12 L953.62 897.93 L955.22 899.74 L956.83 901.54 L958.43 903.33 L960.03 905.11 L961.63 906.89 L963.24 908.65 L964.84 910.42 L966.44 912.17 L968.04 913.91 L969.65 915.65 L971.25 917.38 L972.85 919.11 L974.46 920.82 L976.06 922.53 L977.66 924.23 L979.26 925.93 L980.87 927.61 L982.47 929.29 L984.07 930.97 L985.68 932.63 L987.28 934.29 L988.88 935.94 L990.48 937.59 L992.09 939.22 L993.69 940.85 L995.29 942.48 L996.89 944.09 L998.5 945.7 L1000.1 947.3 L1001.7 948.9 L1003.31 950.48 L1004.91 952.07 L1006.51 953.64 L1008.11 955.21 L1009.72 956.77 L1011.32 958.32 L1012.92 959.87 L1014.53 961.41 L1016.13 962.94 L1017.73 964.47 L1019.33 965.99 L1020.94 967.5 L1022.54 969.01 L1024.14 970.51 L1025.74 972 L1027.35 973.49 L1028.95 974.97 L1030.55 976.44 L1032.16 977.91 L1033.76 979.37 L1035.36 980.82 L1036.96 982.27 L1038.57 983.71 L1040.17 985.15 L1041.77 986.58 L1043.38 988 L1044.98 989.42 L1046.58 990.83 L1048.18 992.23 L1049.79 993.63 L1051.39 995.02 L1052.99 996.4 L1054.59 997.78 L1056.2 999.15 L1057.8 1000.52 L1059.4 1001.88 L1061.01 1003.24 L1062.61 1004.58 L1064.21 1005.93 L1065.81 1007.26 L1067.42 1008.59 L1069.02 1009.92 L1070.62 1011.23 L1072.23 1012.55 L1073.83 1013.85 L1075.43 1015.15 L1077.03 1016.45 L1078.64 1017.74 L1080.24 1019.02 L1081.84 1020.3 L1083.44 1021.57 L1085.05 1022.84 L1086.65 1024.1 L1088.25 1025.35 L1089.86 1026.6 L1091.46 1027.85 L1093.06 1029.08 L1094.66 1030.32 L1096.27 1031.54 L1097.87 1032.77 L1099.47 1033.98 L1101.08 1035.19 L1102.68 1036.4 L1104.28 1037.6 L1106.28 1039.09 L1108.29 1040.57 L1110.29 1042.05 L1112.29 1043.51 L1114.3 1044.97 L1116.3 1046.42 L1118.3 1047.87 L1120.31 1049.3 L1122.31 1050.73 L1124.32 1052.14 L1126.32 1053.55 L1128.32 1054.96 L1130.33 1056.35 L1132.33 1057.74 L1134.33 1059.11 L1136.34 1060.49 L1138.34 1061.85 L1140.34 1063.2 L1142.35 1064.55 L1144.35 1065.89 L1146.35 1067.22 L1148.36 1068.55 L1150.36 1069.87 L1152.36 1071.18 L1154.37 1072.48 L1156.37 1073.78 L1158.37 1075.06 L1160.38 1076.34 L1162.38 1077.62 L1164.38 1078.88 L1166.39 1080.14 L1168.39 1081.4 L1170.39 1082.64 L1172.4 1083.88 L1174.4 1085.11 L1176.41 1086.33 L1178.41 1087.55 L1180.41 1088.76 L1182.42 1089.97 L1184.42 1091.16 L1186.42 1092.35 L1188.43 1093.54 L1190.43 1094.71 L1192.43 1095.88 L1194.44 1097.05 L1196.44 1098.2 L1198.44 1099.36 L1200.45 1100.5 L1202.45 1101.64 L1204.45 1102.77 L1206.46 1103.89 L1208.46 1105.01 L1210.46 1106.12 L1212.47 1107.23 L1214.47 1108.33 L1216.47 1109.42 L1218.48 1110.51 L1220.48 1111.59 L1222.49 1112.67 L1224.49 1113.74 L1226.49 1114.8 L1228.5 1115.86 L1230.5 1116.91 L1232.5 1117.96 L1234.51 1119 L1236.51 1120.03 L1238.51 1121.06 L1240.52 1122.08 L1242.52 1123.1 L1244.52 1124.11 L1246.53 1125.11 L1248.53 1126.11 L1250.53 1127.11 L1252.54 1128.1 L1254.54 1129.08 L1256.54 1130.06 L1258.55 1131.03 L1260.55 1131.99 L1262.55 1132.96 L1264.56 1133.91 L1266.56 1134.86 L1268.56 1135.81 L1270.57 1136.75 L1272.57 1137.68 L1274.58 1138.61 L1276.58 1139.54 L1278.58 1140.46 L1280.59 1141.37 L1282.59 1142.28 L1284.59 1143.19 L1286.6 1144.08 L1288.6 1144.98 L1290.6 1145.87 L1292.61 1146.75 L1294.61 1147.63 L1296.61 1148.51 L1298.62 1149.38 L1300.62 1150.24 L1302.62 1151.1 L1304.63 1151.96 L1306.63 1152.81 L1308.63 1153.65 L1310.64 1154.49 L1312.64 1155.33 L1314.64 1156.16 L1316.65 1156.99 L1318.65 1157.81 L1320.65 1158.63 L1322.66 1159.45 L1324.66 1160.26 L1326.67 1161.06 L1328.67 1161.86 L1330.67 1162.66 L1332.68 1163.45 L1334.68 1164.24 L1336.68 1165.02 L1338.69 1165.8 L1340.69 1166.57 L1342.69 1167.34 L1344.7 1168.11 L1346.7 1168.87 L1348.7 1169.63 L1350.71 1170.38 L1352.71 1171.13 L1354.71 1171.88 L1356.72 1172.62 L1358.72 1173.36 L1360.72 1174.09 L1362.73 1174.82 L1364.73 1175.55 L1366.73 1176.27 L1368.74 1176.99 L1370.74 1177.7 L1372.75 1178.41 L1374.75 1179.12 L1376.75 1179.82 L1378.76 1180.52 L1380.76 1181.21 L1382.76 1181.9 L1384.77 1182.59 L1386.77 1183.27 L1388.77 1183.95 L1390.78 1184.63 L1392.78 1185.3 L1394.78 1185.97 L1396.79 1186.64 L1398.79 1187.3 L1400.79 1187.96 L1402.8 1188.61 L1404.8 1189.26 L1406.8 1189.91 L1408.81 1190.55 L1410.81 1191.19 L1412.81 1191.83 L1414.82 1192.47 L1416.82 1193.1 L1418.82 1193.72 L1420.83 1194.35 L1422.83 1194.97 L1424.84 1195.58 L1426.84 1196.2 L1428.84 1196.81 L1430.85 1197.42 L1432.85 1198.02 L1434.85 1198.62 L1436.86 1199.22 L1438.86 1199.81 L1440.86 1200.41 L1442.87 1200.99 L1444.87 1201.58 L1446.87 1202.16 L1448.88 1202.74 L1450.88 1203.32 L1452.88 1203.89 L1454.89 1204.46 L1456.89 1205.03 L1458.89 1205.59 L1460.9 1206.15 L1462.9 1206.71 L1464.9 1207.26 L1466.91 1207.81 L1468.91 1208.36 L1470.91 1208.91 L1472.92 1209.45 L1474.92 1209.99 L1476.93 1210.53 L1478.93 1211.07 L1480.93 1211.6 L1482.94 1212.13 L1484.94 1212.65 L1486.94 1213.17 L1488.95 1213.68 L1490.95 1214.18 L1492.95 1214.67 L1494.96 1215.16 L1496.96 1215.64 L1498.96 1216.1 L1500.97 1216.57 L1502.97 1217.02 L1504.97 1217.47 L1506.98 1217.92 L1508.98 1218.35 L1510.98 1218.79 L1512.99 1219.21 L1514.99 1219.64 L1516.99 1220.06 L1519 1220.47 L1521 1220.88 L1523 1221.29 L1525.01 1221.69 L1527.01 1222.09 L1529.02 1222.49 L1531.02 1222.89 L1533.02 1223.29 L1535.03 1223.68 L1537.03 1224.07 L1539.03 1224.46 L1541.04 1224.85 L1543.04 1225.24 L1545.04 1225.64 L1547.05 1226.03 L1549.05 1226.42 L1551.05 1226.81 L1553.06 1227.21 L1555.06 1227.6 L1557.06 1228 L1559.07 1228.4 L1561.07 1228.8 L1563.07 1229.21 L1565.08 1229.62 L1567.08 1230.02 L1569.08 1230.43 L1571.09 1230.83 L1573.09 1231.23 L1575.1 1231.63 L1577.1 1232.03 L1579.1 1232.42 L1581.11 1232.81 L1583.11 1233.21 L1585.11 1233.59 L1587.12 1233.98 L1589.12 1234.37 L1591.12 1234.75 L1593.13 1235.14 L1595.13 1235.52 L1597.13 1235.9 L1599.14 1236.27 L1601.14 1236.65 L1603.14 1237.03 L1605.15 1237.4 L1607.15 1237.77 L1609.15 1238.14 L1611.16 1238.51 L1613.16 1238.88 L1615.16 1239.25 L1617.17 1239.61 L1619.17 1239.98 L1621.17 1240.34 L1623.18 1240.7 L1625.18 1241.06 L1627.19 1241.42 L1629.19 1241.78 L1631.19 1242.14 L1633.2 1242.5 L1635.2 1242.85 L1637.2 1243.21 L1639.21 1243.56 L1641.21 1243.91 L1643.21 1244.27 L1645.22 1244.62 L1647.22 1244.97 L1649.22 1245.33 L1651.23 1245.69 L1653.23 1246.05 L1655.23 1246.42 L1657.24 1246.79 L1659.24 1247.15 L1661.24 1247.52 L1663.25 1247.89 L1665.25 1248.27 L1667.25 1248.64 L1669.26 1249.01 L1671.26 1249.38 L1673.26 1249.76 L1675.27 1250.13 L1677.27 1250.5 L1679.28 1250.88 L1681.28 1251.25 L1683.28 1251.62 L1685.29 1251.99 L1687.29 1252.36 L1689.29 1252.73 L1691.3 1253.09 L1693.3 1253.46 L1695.3 1253.82 L1697.31 1254.18 L1699.31 1254.54 L1701.31 1254.89 L1703.32 1255.24 L1705.32 1255.59 L1707.32 1255.93 L1709.33 1256.28 L1711.33 1256.61 L1713.33 1256.95 L1715.34 1257.28 L1717.34 1257.6 L1719.34 1257.92 L1721.35 1258.24 L1723.35 1258.55 L1725.36 1258.86 L1727.36 1259.16 L1729.36 1259.46 L1731.37 1259.77 L1733.37 1260.06 L1735.37 1260.36 L1737.38 1260.66 L1739.38 1260.95 L1741.38 1261.24 L1743.39 1261.53 L1745.39 1261.82 L1747.39 1262.1 L1749.4 1262.39 L1751.4 1262.67 L1753.4 1262.95 L1755.41 1263.23 L1757.41 1263.51 L1759.41 1263.79 L1761.42 1264.06 L1763.42 1264.34 L1765.42 1264.61 L1767.43 1264.88 L1769.43 1265.15 L1771.43 1265.42 L1773.44 1265.69 L1775.44 1265.95 L1777.45 1266.22 L1779.45 1266.49 L1781.45 1266.75 L1783.46 1267.01 L1785.46 1267.28 L1787.46 1267.54 L1789.47 1267.8 L1791.47 1268.06 L1793.47 1268.32 L1795.48 1268.58 L1797.48 1268.84 L1799.48 1269.1 L1801.49 1269.36 L1803.49 1269.62 L1805.49 1269.87 L1807.5 1270.13 L1809.5 1270.39 L1811.5 1270.65 L1813.51 1270.9 L1815.51 1271.16 L1817.51 1271.42 L1819.52 1271.67 L1821.52 1271.93 L1823.52 1272.19 L1825.53 1272.44 L1827.53 1272.7 L1829.54 1272.95 L1831.54 1273.2 L1833.54 1273.46 L1835.55 1273.71 L1837.55 1273.96 L1839.55 1274.21 L1841.56 1274.46 L1843.56 1274.7 L1845.56 1274.92 L1847.57 1275.14 L1849.57 1275.36 L1850.77 1275.48" fill="none" stroke="#00009f" stroke-width="6.3" stroke-linejoin="round"/>
<path id="c7T" d="M248.4 1338.2 L250.4 1338.2 L252.41 1338.2 L254.41 1338.2 L256.41 1338.2 L258.42 1337.96 L260.42 1336.56 L261.62 1334.49 L262.42 1332.36 L263.23 1329.5 L264.03 1325.84 L264.43 1323.67 L264.83 1321.29 L265.23 1318.66 L265.63 1315.8 L266.03 1312.7 L266.43 1309.36 L266.83 1305.78 L267.23 1301.95 L267.63 1297.88 L268.03 1293.58 L268.43 1289.04 L268.84 1284.26 L269.24 1279.26 L269.64 1274.04 L270.04 1268.6 L270.44 1262.96 L270.84 1257.11 L271.24 1251.07 L271.64 1244.84 L272.04 1238.42 L272.44 1231.84 L272.84 1225.1 L273.24 1218.19 L273.64 1211.14 L274.04 1203.95 L274.45 1196.63 L274.85 1189.19 L275.25 1181.63 L275.65 1173.97 L276.05 1166.21 L276.45 1158.35 L276.85 1150.41 L277.25 1142.4 L277.65 1134.32 L278.05 1126.17 L278.45 1117.98 L278.85 1109.73 L279.25 1101.44 L279.65 1093.12 L280.05 1084.76 L280.46 1076.38 L280.86 1067.99 L281.26 1059.58 L281.66 1051.16 L282.06 1042.74 L282.46 1034.32 L282.86 1025.91 L283.26 1017.51 L283.66 1009.12 L284.06 1000.76 L284.46 992.41 L284.86 984.09 L285.26 975.79 L285.66 967.53 L286.07 959.31 L286.47 951.12 L286.87 942.97 L287.27 934.87 L287.67 926.8 L288.07 918.79 L288.47 910.82 L288.87 902.91 L289.27 895.05 L289.67 887.24 L290.07 879.49 L290.47 871.79 L290.87 864.15 L291.27 856.57 L291.67 849.05 L292.08 841.6 L292.48 834.2 L292.88 826.87 L293.28 819.6 L293.68 812.4 L294.08 805.26 L294.48 798.18 L294.88 791.17 L295.28 784.23 L295.68 777.35 L296.08 770.54 L296.48 763.79 L296.88 757.11 L297.28 750.5 L297.69 743.95 L298.09 737.47 L298.49 731.06 L298.89 724.71 L299.29 718.43 L299.69 712.21 L300.09 706.07 L300.49 700 L300.89 694 L301.29 688.06 L301.69 682.19 L302.09 676.38 L302.49 670.63 L302.89 664.95 L303.29 659.33 L303.7 653.77 L304.1 648.28 L304.5 642.84 L304.9 637.47 L305.3 632.16 L305.7 626.9 L306.1 621.71 L306.5 616.58 L306.9 611.5 L307.3 606.48 L307.7 601.52 L308.1 596.61 L308.5 591.76 L308.9 586.97 L309.31 582.23 L309.71 577.55 L310.11 572.92 L310.51 568.34 L310.91 563.82 L311.31 559.35 L311.71 554.93 L312.11 550.56 L312.51 546.24 L312.91 541.97 L313.31 537.75 L313.71 533.58 L314.11 529.45 L314.51 525.38 L314.92 521.35 L315.32 517.37 L315.72 513.43 L316.12 509.54 L316.52 505.7 L316.92 501.89 L317.32 498.14 L317.72 494.42 L318.12 490.75 L318.52 487.12 L318.92 483.53 L319.32 479.99 L319.72 476.48 L320.12 473.01 L320.52 469.59 L320.93 466.2 L321.33 462.85 L321.73 459.54 L322.13 456.27 L322.53 453.03 L322.93 449.83 L323.33 446.67 L323.73 443.54 L324.13 440.45 L324.53 437.4 L324.93 434.37 L325.33 431.38 L325.73 428.43 L326.13 425.51 L326.54 422.62 L326.94 419.76 L327.34 416.94 L327.74 414.14 L328.14 411.38 L328.54 408.65 L328.94 405.95 L329.34 403.27 L329.74 400.63 L330.14 398.02 L330.54 395.43 L330.94 392.88 L331.34 390.35 L331.74 387.85 L332.14 385.37 L332.55 382.93 L332.95 380.51 L333.35 378.11 L333.75 375.74 L334.15 373.4 L334.55 371.08 L334.95 368.79 L335.35 366.52 L335.75 364.28 L336.15 362.06 L336.55 359.86 L336.95 357.69 L337.35 355.54 L337.75 353.41 L338.16 351.31 L338.56 349.22 L338.96 347.16 L339.36 345.12 L339.76 343.1 L340.16 341.11 L340.56 339.13 L341.36 335.24 L342.16 331.43 L342.96 327.69 L343.76 324.03 L344.57 320.45 L345.37 316.94 L346.17 313.49 L346.97 310.12 L347.77 306.81 L348.57 303.57 L349.37 300.4 L350.18 297.28 L350.98 294.23 L351.78 291.23 L352.58 288.29 L353.38 285.41 L354.18 282.58 L354.98 279.81 L355.79 277.09 L356.59 274.42 L357.39 271.8 L358.19 269.23 L358.99 266.7 L359.79 264.23 L360.59 261.79 L361.4 259.41 L362.2 257.06 L363 254.76 L363.8 252.5 L364.6 250.28 L365.4 248.1 L366.2 245.95 L367.01 243.85 L367.81 241.78 L368.61 239.75 L369.41 237.75 L370.21 235.79 L371.01 233.86 L371.81 231.97 L372.61 230.1 L373.82 227.37 L375.02 224.7 L376.22 222.1 L377.42 219.57 L378.63 217.09 L379.83 214.68 L381.03 212.33 L382.23 210.03 L383.43 207.79 L384.64 205.61 L385.84 203.48 L387.04 201.4 L388.24 199.37 L389.44 197.39 L390.65 195.46 L391.85 193.57 L393.05 191.73 L394.25 189.93 L395.45 188.18 L396.66 186.47 L397.86 184.8 L399.06 183.17 L400.66 181.06 L402.27 179.01 L403.87 177.03 L405.47 175.12 L407.07 173.26 L408.68 171.47 L410.28 169.73 L411.88 168.06 L413.49 166.44 L415.09 164.87 L416.69 163.36 L418.29 161.9 L419.9 160.49 L421.5 159.14 L423.1 157.83 L424.7 156.57 L426.31 155.36 L428.31 153.92 L430.31 152.54 L432.32 151.24 L434.32 150.01 L436.33 148.84 L438.33 147.75 L440.33 146.72 L442.34 145.76 L444.34 144.86 L446.34 144.03 L448.35 143.26 L450.35 142.55 L452.35 141.91 L454.36 141.33 L456.36 140.81 L458.36 140.35 L460.37 139.95 L462.37 139.62 L464.37 139.34 L466.38 139.12 L468.38 138.97 L470.38 138.87 L472.39 138.83 L474.39 138.84 L476.39 138.91 L478.4 139.04 L480.4 139.22 L482.4 139.46 L484.41 139.75 L486.41 140.1 L488.42 140.5 L490.42 140.95 L492.42 141.46 L494.43 142.02 L496.43 142.64 L498.43 143.3 L500.44 144.03 L502.44 144.8 L504.44 145.63 L506.45 146.5 L508.45 147.43 L510.45 148.41 L512.46 149.45 L514.46 150.53 L516.46 151.66 L518.47 152.84 L520.47 154.08 L522.47 155.36 L524.48 156.69 L526.48 158.07 L528.48 159.5 L530.49 160.97 L532.09 162.19 L533.69 163.43 L535.3 164.71 L536.9 166.01 L538.5 167.35 L540.1 168.71 L541.71 170.1 L543.31 171.52 L544.91 172.97 L546.52 174.45 L548.12 175.96 L549.72 177.49 L551.32 179.06 L552.93 180.65 L554.53 182.26 L556.13 183.91 L557.74 185.58 L559.34 187.28 L560.94 189 L562.54 190.75 L564.15 192.52 L565.75 194.33 L567.35 196.15 L568.95 198 L570.56 199.88 L572.16 201.78 L573.76 203.71 L575.37 205.65 L576.97 207.63 L578.57 209.62 L580.17 211.64 L581.78 213.68 L583.38 215.75 L584.98 217.83 L586.59 219.94 L588.19 222.06 L589.39 223.67 L590.59 225.29 L591.79 226.92 L593 228.56 L594.2 230.21 L595.4 231.87 L596.6 233.55 L597.8 235.23 L599.01 236.92 L600.21 238.63 L601.41 240.34 L602.61 242.07 L603.81 243.8 L605.02 245.54 L606.22 247.3 L607.42 249.06 L608.62 250.83 L609.83 252.61 L611.03 254.4 L612.23 256.2 L613.43 258.01 L614.63 259.82 L615.84 261.65 L617.04 263.48 L618.24 265.32 L619.44 267.17 L620.64 269.02 L621.85 270.89 L623.05 272.76 L624.25 274.64 L625.45 276.53 L626.65 278.42 L627.86 280.33 L629.06 282.24 L630.26 284.15 L631.46 286.07 L632.66 288 L633.87 289.94 L635.07 291.88 L636.27 293.83 L637.47 295.79 L638.68 297.75 L639.88 299.72 L641.08 301.69 L642.28 303.67 L643.48 305.65 L644.69 307.64 L645.89 309.64 L647.09 311.64 L648.29 313.65 L649.49 315.66 L650.7 317.67 L651.9 319.7 L653.1 321.72 L654.3 323.75 L655.5 325.79 L656.71 327.83 L657.91 329.87 L659.11 331.92 L660.31 333.97 L661.51 336.02 L662.72 338.08 L663.92 340.15 L665.12 342.21 L666.32 344.29 L667.53 346.36 L668.73 348.44 L669.93 350.52 L671.13 352.6 L672.33 354.69 L673.54 356.78 L674.74 358.87 L675.94 360.97 L677.14 363.06 L678.34 365.16 L679.55 367.27 L680.75 369.37 L681.95 371.48 L683.15 373.59 L684.35 375.7 L685.56 377.81 L686.76 379.93 L687.96 382.05 L689.16 384.17 L690.36 386.29 L691.57 388.41 L692.77 390.53 L693.97 392.66 L695.17 394.78 L696.37 396.91 L697.58 399.04 L698.78 401.17 L699.98 403.3 L701.18 405.43 L702.39 407.56 L703.59 409.7 L704.79 411.83 L705.99 413.96 L707.19 416.1 L708.4 418.24 L709.6 420.37 L710.8 422.51 L712 424.65 L713.2 426.79 L714.41 428.92 L715.61 431.06 L716.81 433.2 L718.01 435.34 L719.21 437.48 L720.42 439.62 L721.62 441.76 L722.82 443.9 L724.02 446.04 L725.22 448.17 L726.43 450.31 L727.63 452.45 L728.83 454.59 L730.03 456.72 L731.24 458.86 L732.44 460.99 L733.64 463.13 L734.84 465.26 L736.04 467.39 L737.25 469.53 L738.45 471.66 L739.65 473.79 L740.85 475.92 L742.05 478.04 L743.26 480.17 L744.46 482.3 L745.66 484.42 L746.86 486.54 L748.06 488.66 L749.27 490.78 L750.47 492.9 L751.67 495.02 L752.87 497.13 L754.07 499.25 L755.28 501.36 L756.48 503.47 L757.68 505.58 L758.88 507.68 L760.09 509.79 L761.29 511.89 L762.49 513.99 L763.69 516.09 L764.89 518.19 L766.1 520.28 L767.3 522.38 L768.5 524.47 L769.7 526.55 L770.9 528.64 L772.11 530.72 L773.31 532.81 L774.51 534.88 L775.71 536.96 L776.91 539.04 L778.12 541.11 L779.32 543.18 L780.52 545.24 L781.72 547.31 L782.92 549.37 L784.13 551.43 L785.33 553.48 L786.53 555.54 L787.73 557.59 L788.94 559.63 L790.14 561.68 L791.34 563.72 L792.54 565.76 L793.74 567.8 L794.95 569.83 L796.15 571.86 L797.35 573.89 L798.55 575.91 L799.75 577.93 L800.96 579.95 L802.16 581.96 L803.36 583.98 L804.56 585.98 L805.76 587.99 L806.97 589.99 L808.17 591.99 L809.37 593.99 L810.57 595.98 L811.77 597.97 L812.98 599.95 L814.18 601.93 L815.38 603.91 L816.58 605.89 L817.78 607.86 L818.99 609.83 L820.19 611.79 L821.39 613.75 L822.59 615.71 L823.8 617.67 L825 619.62 L826.2 621.56 L827.4 623.51 L828.6 625.45 L829.81 627.38 L831.01 629.32 L832.21 631.24 L833.41 633.17 L834.61 635.09 L835.82 637.01 L837.02 638.92 L838.22 640.83 L839.42 642.74 L840.62 644.64 L841.83 646.54 L843.03 648.43 L844.23 650.32 L845.43 652.21 L846.63 654.09 L847.84 655.97 L849.04 657.85 L850.24 659.72 L851.44 661.59 L852.65 663.45 L853.85 665.31 L855.05 667.17 L856.25 669.02 L857.45 670.87 L858.66 672.71 L859.86 674.55 L861.06 676.39 L862.26 678.22 L863.46 680.05 L864.67 681.87 L865.87 683.69 L867.07 685.5 L868.27 687.32 L869.47 689.12 L870.68 690.93 L871.88 692.72 L873.08 694.52 L874.28 696.31 L875.48 698.1 L876.69 699.88 L877.89 701.66 L879.09 703.43 L880.29 705.2 L881.5 706.97 L882.7 708.73 L883.9 710.49 L885.1 712.24 L886.3 713.99 L887.51 715.74 L888.71 717.48 L889.91 719.22 L891.11 720.95 L892.31 722.68 L893.52 724.4 L894.72 726.12 L895.92 727.84 L897.12 729.55 L898.32 731.26 L899.53 732.96 L900.73 734.66 L901.93 736.35 L903.13 738.04 L904.33 739.73 L905.54 741.41 L906.74 743.09 L907.94 744.76 L909.14 746.43 L910.35 748.1 L911.55 749.76 L912.75 751.42 L913.95 753.07 L915.15 754.72 L916.36 756.36 L917.56 758 L918.76 759.64 L919.96 761.27 L921.16 762.9 L922.37 764.52 L923.57 766.14 L924.77 767.75 L925.97 769.36 L927.17 770.97 L928.38 772.57 L929.98 774.7 L931.58 776.82 L933.18 778.94 L934.79 781.04 L936.39 783.14 L937.99 785.23 L939.6 787.32 L941.2 789.39 L942.8 791.46 L944.4 793.53 L946.01 795.58 L947.61 797.63 L949.21 799.67 L950.82 801.7 L952.42 803.72 L954.02 805.74 L955.62 807.75 L957.23 809.75 L958.83 811.75 L960.43 813.74 L962.03 815.72 L963.64 817.69 L965.24 819.66 L966.84 821.61 L968.45 823.56 L970.05 825.51 L971.65 827.45 L973.25 829.37 L974.86 831.3 L976.46 833.21 L978.06 835.12 L979.67 837.02 L981.27 838.91 L982.87 840.8 L984.47 842.68 L986.08 844.55 L987.68 846.41 L989.28 848.27 L990.88 850.12 L992.49 851.96 L994.09 853.8 L995.69 855.63 L997.3 857.45 L998.9 859.26 L1000.5 861.07 L1002.1 862.87 L1003.71 864.67 L1005.31 866.45 L1006.91 868.23 L1008.51 870.01 L1010.12 871.77 L1011.72 873.53 L1013.32 875.28 L1014.93 877.03 L1016.53 878.77 L1018.13 880.5 L1019.73 882.22 L1021.34 883.94 L1022.94 885.65 L1024.54 887.36 L1026.15 889.06 L1027.75 890.75 L1029.35 892.43 L1030.95 894.11 L1032.56 895.78 L1034.16 897.44 L1035.76 899.1 L1037.36 900.75 L1038.97 902.4 L1040.57 904.04 L1042.17 905.67 L1043.78 907.29 L1045.38 908.91 L1046.98 910.52 L1048.58 912.13 L1050.19 913.73 L1051.79 915.32 L1053.39 916.91 L1055 918.48 L1056.6 920.06 L1058.2 921.63 L1059.8 923.19 L1061.41 924.74 L1063.01 926.29 L1064.61 927.83 L1066.21 929.37 L1067.82 930.9 L1069.42 932.42 L1071.02 933.94 L1072.63 935.45 L1074.23 936.95 L1075.83 938.45 L1077.43 939.94 L1079.04 941.43 L1080.64 942.91 L1082.24 944.38 L1083.85 945.85 L1085.45 947.31 L1087.05 948.77 L1088.65 950.22 L1090.26 951.67 L1091.86 953.1 L1093.46 954.54 L1095.06 955.96 L1096.67 957.39 L1098.27 958.8 L1099.87 960.21 L1101.48 961.61 L1103.08 963.01 L1104.68 964.4 L1106.28 965.79 L1107.89 967.17 L1109.49 968.55 L1111.09 969.91 L1112.7 971.28 L1114.3 972.64 L1115.9 973.99 L1117.5 975.34 L1119.11 976.68 L1120.71 978.01 L1122.31 979.34 L1123.91 980.67 L1125.52 981.99 L1127.12 983.3 L1128.72 984.61 L1130.33 985.91 L1131.93 987.21 L1133.53 988.5 L1135.13 989.79 L1136.74 991.07 L1138.34 992.35 L1139.94 993.62 L1141.55 994.88 L1143.15 996.15 L1144.75 997.4 L1146.35 998.65 L1147.96 999.9 L1149.56 1001.14 L1151.16 1002.37 L1152.76 1003.6 L1154.37 1004.82 L1155.97 1006.04 L1157.57 1007.26 L1159.18 1008.47 L1160.78 1009.67 L1162.38 1010.87 L1164.38 1012.36 L1166.39 1013.85 L1168.39 1015.32 L1170.39 1016.79 L1172.4 1018.25 L1174.4 1019.71 L1176.41 1021.15 L1178.41 1022.59 L1180.41 1024.02 L1182.42 1025.45 L1184.42 1026.86 L1186.42 1028.27 L1188.43 1029.68 L1190.43 1031.07 L1192.43 1032.46 L1194.44 1033.84 L1196.44 1035.21 L1198.44 1036.58 L1200.45 1037.93 L1202.45 1039.29 L1204.45 1040.63 L1206.46 1041.97 L1208.46 1043.3 L1210.46 1044.62 L1212.47 1045.94 L1214.47 1047.25 L1216.47 1048.55 L1218.48 1049.85 L1220.48 1051.14 L1222.49 1052.42 L1224.49 1053.7 L1226.49 1054.97 L1228.5 1056.23 L1230.5 1057.49 L1232.5 1058.74 L1234.51 1059.98 L1236.51 1061.22 L1238.51 1062.45 L1240.52 1063.67 L1242.52 1064.89 L1244.52 1066.1 L1246.53 1067.31 L1248.53 1068.51 L1250.53 1069.7 L1252.54 1070.89 L1254.54 1072.07 L1256.54 1073.24 L1258.55 1074.41 L1260.55 1075.58 L1262.55 1076.73 L1264.56 1077.88 L1266.56 1079.03 L1268.56 1080.17 L1270.57 1081.3 L1272.57 1082.43 L1274.58 1083.55 L1276.58 1084.66 L1278.58 1085.77 L1280.59 1086.88 L1282.59 1087.97 L1284.59 1089.07 L1286.6 1090.15 L1288.6 1091.24 L1290.6 1092.31 L1292.61 1093.38 L1294.61 1094.45 L1296.61 1095.51 L1298.62 1096.56 L1300.62 1097.61 L1302.62 1098.65 L1304.63 1099.69 L1306.63 1100.72 L1308.63 1101.75 L1310.64 1102.77 L1312.64 1103.79 L1314.64 1104.8 L1316.65 1105.8 L1318.65 1106.8 L1320.65 1107.8 L1322.66 1108.79 L1324.66 1109.78 L1326.67 1110.76 L1328.67 1111.73 L1330.67 1112.7 L1332.68 1113.67 L1334.68 1114.63 L1336.68 1115.59 L1338.69 1116.54 L1340.69 1117.48 L1342.69 1118.42 L1344.7 1119.36 L1346.7 1120.29 L1348.7 1121.22 L1350.71 1122.14 L1352.71 1123.06 L1354.71 1123.97 L1356.72 1124.88 L1358.72 1125.78 L1360.72 1126.68 L1362.73 1127.58 L1364.73 1128.47 L1366.73 1129.35 L1368.74 1130.24 L1370.74 1131.11 L1372.75 1131.98 L1374.75 1132.85 L1376.75 1133.71 L1378.76 1134.57 L1380.76 1135.43 L1382.76 1136.28 L1384.77 1137.13 L1386.77 1137.97 L1388.77 1138.8 L1390.78 1139.64 L1392.78 1140.47 L1394.78 1141.29 L1396.79 1142.11 L1398.79 1142.93 L1400.79 1143.74 L1402.8 1144.55 L1404.8 1145.36 L1406.8 1146.16 L1408.81 1146.95 L1410.81 1147.74 L1412.81 1148.53 L1414.82 1149.32 L1416.82 1150.1 L1418.82 1150.87 L1420.83 1151.65 L1422.83 1152.42 L1424.84 1153.18 L1426.84 1153.94 L1428.84 1154.7 L1430.85 1155.45 L1432.85 1156.2 L1434.85 1156.95 L1436.86 1157.69 L1438.86 1158.43 L1440.86 1159.17 L1442.87 1159.9 L1444.87 1160.63 L1446.87 1161.35 L1448.88 1162.07 L1450.88 1162.79 L1452.88 1163.5 L1454.89 1164.21 L1456.89 1164.92 L1458.89 1165.62 L1460.9 1166.32 L1462.9 1167.02 L1464.9 1167.71 L1466.91 1168.4 L1468.91 1169.09 L1470.91 1169.77 L1472.92 1170.45 L1474.92 1171.12 L1476.93 1171.8 L1478.93 1172.47 L1480.93 1173.13 L1482.94 1173.79 L1484.94 1174.45 L1486.94 1175.11 L1488.95 1175.75 L1490.95 1176.39 L1492.95 1177.02 L1494.96 1177.65 L1496.96 1178.27 L1498.96 1178.89 L1500.97 1179.49 L1502.97 1180.1 L1504.97 1180.69 L1506.98 1181.29 L1508.98 1181.87 L1510.98 1182.45 L1512.99 1183.03 L1514.99 1183.6 L1516.99 1184.17 L1519 1184.73 L1521 1185.29 L1523 1185.85 L1525.01 1186.4 L1527.01 1186.95 L1529.02 1187.49 L1531.02 1188.03 L1533.02 1188.57 L1535.03 1189.1 L1537.03 1189.63 L1539.03 1190.16 L1541.04 1190.69 L1543.04 1191.21 L1545.04 1191.73 L1547.05 1192.25 L1549.05 1192.76 L1551.05 1193.28 L1553.06 1193.79 L1555.06 1194.3 L1557.06 1194.81 L1559.07 1195.32 L1561.07 1195.83 L1563.07 1196.33 L1565.08 1196.84 L1567.08 1197.34 L1569.08 1197.84 L1571.09 1198.33 L1573.09 1198.82 L1575.1 1199.3 L1577.1 1199.78 L1579.1 1200.26 L1581.11 1200.74 L1583.11 1201.21 L1585.11 1201.68 L1587.12 1202.14 L1589.12 1202.61 L1591.12 1203.07 L1593.13 1203.52 L1595.13 1203.98 L1597.13 1204.43 L1599.14 1204.89 L1601.14 1205.34 L1603.14 1205.78 L1605.15 1206.23 L1607.15 1206.68 L1609.15 1207.12 L1611.16 1207.57 L1613.16 1208.01 L1615.16 1208.45 L1617.17 1208.89 L1619.17 1209.33 L1621.17 1209.78 L1623.18 1210.22 L1625.18 1210.66 L1627.19 1211.1 L1629.19 1211.54 L1631.19 1211.99 L1633.2 1212.43 L1635.2 1212.87 L1637.2 1213.32 L1639.21 1213.77 L1641.21 1214.21 L1643.21 1214.66 L1645.22 1215.11 L1647.22 1215.57 L1649.22 1216.02 L1651.23 1216.48 L1653.23 1216.94 L1655.23 1217.4 L1657.24 1217.86 L1659.24 1218.32 L1661.24 1218.78 L1663.25 1219.24 L1665.25 1219.71 L1667.25 1220.17 L1669.26 1220.64 L1671.26 1221.1 L1673.26 1221.56 L1675.27 1222.03 L1677.27 1222.49 L1679.28 1222.95 L1681.28 1223.41 L1683.28 1223.87 L1685.29 1224.33 L1687.29 1224.79 L1689.29 1225.25 L1691.3 1225.7 L1693.3 1226.16 L1695.3 1226.61 L1697.31 1227.06 L1699.31 1227.51 L1701.31 1227.95 L1703.32 1228.39 L1705.32 1228.83 L1707.32 1229.27 L1709.33 1229.7 L1711.33 1230.13 L1713.33 1230.56 L1715.34 1230.98 L1717.34 1231.4 L1719.34 1231.82 L1721.35 1232.23 L1723.35 1232.64 L1725.36 1233.04 L1727.36 1233.44 L1729.36 1233.84 L1731.37 1234.24 L1733.37 1234.63 L1735.37 1235.03 L1737.38 1235.42 L1739.38 1235.81 L1741.38 1236.19 L1743.39 1236.58 L1745.39 1236.96 L1747.39 1237.34 L1749.4 1237.72 L1751.4 1238.09 L1753.4 1238.47 L1755.41 1238.84 L1757.41 1239.21 L1759.41 1239.58 L1761.42 1239.95 L1763.42 1240.31 L1765.42 1240.68 L1767.43 1241.04 L1769.43 1241.4 L1771.43 1241.76 L1773.44 1242.12 L1775.44 1242.48 L1777.45 1242.84 L1779.45 1243.19 L1781.45 1243.55 L1783.46 1243.9 L1785.46 1244.25 L1787.46 1244.61 L1789.47 1244.96 L1791.47 1245.31 L1793.47 1245.66 L1795.48 1246.01 L1797.48 1246.35 L1799.48 1246.7 L1801.49 1247.05 L1803.49 1247.39 L1805.49 1247.74 L1807.5 1248.09 L1809.5 1248.43 L1811.5 1248.78 L1813.51 1249.12 L1815.51 1249.46 L1817.51 1249.81 L1819.52 1250.15 L1821.52 1250.49 L1823.52 1250.84 L1825.53 1251.18 L1827.53 1251.52 L1829.54 1251.86 L1831.54 1252.2 L1833.54 1252.54 L1835.55 1252.87 L1837.55 1253.21 L1839.55 1253.55 L1841.56 1253.88 L1843.56 1254.2 L1845.56 1254.49 L1847.57 1254.78 L1849.57 1255.06 L1850.77 1255.23" fill="none" stroke="#8000ff" stroke-width="6.3" stroke-linejoin="round"/>
</g>
<g id="ticklabels">
<text transform="translate(221.8 1360.3) scale(1 1.025)" x="-41.71" font-size="75">0</text>
<text transform="translate(221.8 1218.3) scale(1 1.025)" x="-41.71" font-size="75">2</text>
<text transform="translate(221.8 1075.3) scale(1 1.025)" x="-41.71" font-size="75">4</text>
<text transform="translate(221.8 933.3) scale(1 1.025)" x="-41.71" font-size="75">6</text>
<text transform="translate(221.8 791.3) scale(1 1.025)" x="-41.71" font-size="75">8</text>
<clipPath id="k1"><path clip-rule="evenodd" d="M-400 -400H883.42 V400 H-400Z M-75.91 -6.2 H-60.91 V3 H-75.91 Z M-53.98 -6.2 H-39.57 V3 H-53.98 Z"/></clipPath>
<text transform="translate(221.8 648.3) scale(1 1.025)" x="-83.42" font-size="75" clip-path="url(#k1)"><tspan dx="3.8">1</tspan><tspan dx="-3.8">0</tspan></text>
<clipPath id="k2"><path clip-rule="evenodd" d="M-400 -400H883.42 V400 H-400Z M-75.91 -6.2 H-60.91 V3 H-75.91 Z M-53.98 -6.2 H-39.57 V3 H-53.98 Z"/></clipPath>
<text transform="translate(221.8 506.3) scale(1 1.025)" x="-83.42" font-size="75" clip-path="url(#k2)"><tspan dx="3.8">1</tspan><tspan dx="-3.8">2</tspan></text>
<clipPath id="k3"><path clip-rule="evenodd" d="M-400 -400H883.42 V400 H-400Z M-75.91 -6.2 H-60.91 V3 H-75.91 Z M-53.98 -6.2 H-39.57 V3 H-53.98 Z"/></clipPath>
<text transform="translate(221.8 364.3) scale(1 1.025)" x="-83.42" font-size="75" clip-path="url(#k3)"><tspan dx="3.8">1</tspan><tspan dx="-3.8">4</tspan></text>
<clipPath id="k4"><path clip-rule="evenodd" d="M-400 -400H883.42 V400 H-400Z M-75.91 -6.2 H-60.91 V3 H-75.91 Z M-53.98 -6.2 H-39.57 V3 H-53.98 Z"/></clipPath>
<text transform="translate(221.8 221.3) scale(1 1.025)" x="-83.42" font-size="75" clip-path="url(#k4)"><tspan dx="3.8">1</tspan><tspan dx="-3.8">6</tspan></text>
<clipPath id="k5"><path clip-rule="evenodd" d="M-400 -400H883.42 V400 H-400Z M-75.91 -6.2 H-60.91 V3 H-75.91 Z M-53.98 -6.2 H-39.57 V3 H-53.98 Z"/></clipPath>
<text transform="translate(221.8 79.3) scale(1 1.025)" x="-83.42" font-size="75" clip-path="url(#k5)"><tspan dx="3.8">1</tspan><tspan dx="-3.8">8</tspan></text>
<text transform="translate(248 1422.4) scale(1 1.025)" x="-20.86" font-size="75">0</text>
<text transform="translate(408 1422.4) scale(1 1.025)" x="-20.86" font-size="75">2</text>
<text transform="translate(567 1422.4) scale(1 1.025)" x="-20.86" font-size="75">4</text>
<text transform="translate(727 1422.4) scale(1 1.025)" x="-20.86" font-size="75">6</text>
<text transform="translate(886 1422.4) scale(1 1.025)" x="-20.86" font-size="75">8</text>
<clipPath id="k6"><path clip-rule="evenodd" d="M-400 -400H883.42 V400 H-400Z M-34.2 -6.2 H-19.2 V3 H-34.2 Z M-12.27 -6.2 H2.14 V3 H-12.27 Z"/></clipPath>
<text transform="translate(1046 1422.4) scale(1 1.025)" x="-41.71" font-size="75" clip-path="url(#k6)"><tspan dx="3.8">1</tspan><tspan dx="-3.8">0</tspan></text>
<clipPath id="k7"><path clip-rule="evenodd" d="M-400 -400H883.42 V400 H-400Z M-34.2 -6.2 H-19.2 V3 H-34.2 Z M-12.27 -6.2 H2.14 V3 H-12.27 Z"/></clipPath>
<text transform="translate(1205 1422.4) scale(1 1.025)" x="-41.71" font-size="75" clip-path="url(#k7)"><tspan dx="3.8">1</tspan><tspan dx="-3.8">2</tspan></text>
<clipPath id="k8"><path clip-rule="evenodd" d="M-400 -400H883.42 V400 H-400Z M-34.2 -6.2 H-19.2 V3 H-34.2 Z M-12.27 -6.2 H2.14 V3 H-12.27 Z"/></clipPath>
<text transform="translate(1364 1422.4) scale(1 1.025)" x="-41.71" font-size="75" clip-path="url(#k8)"><tspan dx="3.8">1</tspan><tspan dx="-3.8">4</tspan></text>
<clipPath id="k9"><path clip-rule="evenodd" d="M-400 -400H883.42 V400 H-400Z M-34.2 -6.2 H-19.2 V3 H-34.2 Z M-12.27 -6.2 H2.14 V3 H-12.27 Z"/></clipPath>
<text transform="translate(1524 1422.4) scale(1 1.025)" x="-41.71" font-size="75" clip-path="url(#k9)"><tspan dx="3.8">1</tspan><tspan dx="-3.8">6</tspan></text>
<clipPath id="k10"><path clip-rule="evenodd" d="M-400 -400H883.42 V400 H-400Z M-34.2 -6.2 H-19.2 V3 H-34.2 Z M-12.27 -6.2 H2.14 V3 H-12.27 Z"/></clipPath>
<text transform="translate(1683 1422.4) scale(1 1.025)" x="-41.71" font-size="75" clip-path="url(#k10)"><tspan dx="3.8">1</tspan><tspan dx="-3.8">8</tspan></text>
<text transform="translate(1843 1422.4) scale(1 1.025)" x="-41.71" font-size="75">20</text>
</g>
<g id="xtitle">
<text transform="translate(975.1 1539.9) scale(1 1.053)" x="0" font-size="73">T(K)</text>
</g>
<g id="ytitle">
<text transform="translate(86.7 923.24) rotate(-90) scale(1 1.045)" x="0" font-size="73">-</text>
<text transform="translate(86.7 899.8) rotate(-90) scale(1 1.02)" x="0" font-size="70.6">Δ</text>
<text transform="translate(86.7 853.09) rotate(-90) scale(1 1.09)" x="0" font-size="70.3">S</text>
<text transform="translate(107.3 805.76) rotate(-90) scale(1 1.127)" x="0" font-size="45.8">R</text>
<text transform="translate(86.7 769.43) rotate(-90)" x="0" font-size="73">(</text>
<text transform="translate(86.7 744.64) rotate(-90) scale(1 1.045)" x="0" font-size="73">J</text>
<text transform="translate(86.7 709.09) rotate(-90) scale(1 1.045)" x="0" font-size="73">K</text>
<clipPath id="k11"><path clip-rule="evenodd" d="M-400 -400H843.57 V400 H-400Z M20.53 -4.26 H30.97 V3 H20.53 Z M35.6 -4.26 H45.66 V3 H35.6 Z"/></clipPath>
<text transform="translate(57 661.58) rotate(-90) scale(1 1.04)" x="0" font-size="49" clip-path="url(#k11)">-<tspan dx="2.48">1</tspan></text>
<text transform="translate(86.7 617.32) rotate(-90)" x="0" font-size="73">kg</text>
<clipPath id="k12"><path clip-rule="evenodd" d="M-400 -400H843.57 V400 H-400Z M20.53 -4.26 H30.97 V3 H20.53 Z M35.6 -4.26 H45.66 V3 H35.6 Z"/></clipPath>
<text transform="translate(57 541.18) rotate(-90) scale(1 1.04)" x="0" font-size="49" clip-path="url(#k12)">-<tspan dx="2.48">1</tspan></text>
<text transform="translate(86.7 494.93) rotate(-90)" x="0" font-size="73">)</text>
</g>
<g id="inset-ticklabels">
<text transform="translate(1152.5 575.3) scale(1 1.025)" x="-41.71" font-size="75">0</text>
<text transform="translate(1152.5 503.3) scale(1 1.025)" x="-41.71" font-size="75">3</text>
<text transform="translate(1152.5 430.3) scale(1 1.025)" x="-41.71" font-size="75">6</text>
<text transform="translate(1152.5 358.3) scale(1 1.025)" x="-41.71" font-size="75">9</text>
<clipPath id="k13"><path clip-rule="evenodd" d="M-400 -400H883.42 V400 H-400Z M-75.91 -6.2 H-60.91 V3 H-75.91 Z M-53.98 -6.2 H-39.57 V3 H-53.98 Z"/></clipPath>
<text transform="translate(1152.5 285.3) scale(1 1.025)" x="-83.42" font-size="75" clip-path="url(#k13)"><tspan dx="3.8">1</tspan><tspan dx="-3.8">2</tspan></text>
<clipPath id="k14"><path clip-rule="evenodd" d="M-400 -400H883.42 V400 H-400Z M-75.91 -6.2 H-60.91 V3 H-75.91 Z M-53.98 -6.2 H-39.57 V3 H-53.98 Z"/></clipPath>
<text transform="translate(1152.5 213.3) scale(1 1.025)" x="-83.42" font-size="75" clip-path="url(#k14)"><tspan dx="3.8">1</tspan><tspan dx="-3.8">5</tspan></text>
<clipPath id="k15"><path clip-rule="evenodd" d="M-400 -400H883.42 V400 H-400Z M-75.91 -6.2 H-60.91 V3 H-75.91 Z M-53.98 -6.2 H-39.57 V3 H-53.98 Z"/></clipPath>
<text transform="translate(1152.5 140.3) scale(1 1.025)" x="-83.42" font-size="75" clip-path="url(#k15)"><tspan dx="3.8">1</tspan><tspan dx="-3.8">8</tspan></text>
<text transform="translate(1179.5 637.3) scale(1 1.025)" x="-20.86" font-size="75">0</text>
<clipPath id="k16"><path clip-rule="evenodd" d="M-400 -400H841.71 V400 H-400Z M-13.34 -6.2 H1.65 V3 H-13.34 Z M8.58 -6.2 H22.99 V3 H8.58 Z"/></clipPath>
<text transform="translate(1260.5 637.3) scale(1 1.025)" x="-20.86" font-size="75" clip-path="url(#k16)"><tspan dx="3.8">1</tspan></text>
<text transform="translate(1341.5 637.3) scale(1 1.025)" x="-20.86" font-size="75">2</text>
<text transform="translate(1423.5 637.3) scale(1 1.025)" x="-20.86" font-size="75">3</text>
<text transform="translate(1504.5 637.3) scale(1 1.025)" x="-20.86" font-size="75">4</text>
<text transform="translate(1585.5 637.3) scale(1 1.025)" x="-20.86" font-size="75">5</text>
<text transform="translate(1667.5 637.3) scale(1 1.025)" x="-20.86" font-size="75">6</text>
<text transform="translate(1748.5 637.3) scale(1 1.025)" x="-20.86" font-size="75">7</text>
</g>
<g id="inset-xtitle">
<text transform="translate(1430.8 698.7) scale(1 1.04)" x="0" font-size="54">B(T)</text>
</g>
<g id="inset-ytitle">
<text transform="translate(1035.5 557.87) rotate(-90) scale(1 1.04)" x="0" font-size="55.5">-</text>
<text transform="translate(1035.5 539.86) rotate(-90) scale(1 1.06)" x="0" font-size="52.3">Δ</text>
<text transform="translate(1035.5 504.49) rotate(-90) scale(1 1.15)" x="0" font-size="50.5">S</text>
<text transform="translate(1048.9 469.58) rotate(-90) scale(1 1.04)" x="0" font-size="37.5">R,</text>
<text transform="translate(1048.9 421.29) rotate(-90) scale(1 1.047)" x="0" font-size="36">max</text>
<text transform="translate(1035.5 337.14) rotate(-90)" x="0" font-size="55.5">(</text>
<text transform="translate(1035.5 317.87) rotate(-90) scale(1 1.04)" x="0" font-size="55.5">J</text>
<text transform="translate(1035.5 292.95) rotate(-90) scale(1 1.04)" x="0" font-size="55.5">K</text>
<clipPath id="k17"><path clip-rule="evenodd" d="M-400 -400H832.9 V400 H-400Z M15.01 -3.36 H23.35 V3 H15.01 Z M26.92 -3.36 H34.97 V3 H26.92 Z"/></clipPath>
<text transform="translate(1012.5 255.94) rotate(-90) scale(1 1.04)" x="0" font-size="37" clip-path="url(#k17)">-<tspan dx="1.87">1</tspan></text>
<text transform="translate(1035.5 222.34) rotate(-90)" x="0" font-size="55.5">kg</text>
<clipPath id="k18"><path clip-rule="evenodd" d="M-400 -400H832.9 V400 H-400Z M15.01 -3.36 H23.35 V3 H15.01 Z M26.92 -3.36 H34.97 V3 H26.92 Z"/></clipPath>
<text transform="translate(1012.5 166.24) rotate(-90) scale(1 1.04)" x="0" font-size="37" clip-path="url(#k18)">-<tspan dx="1.87">1</tspan></text>
<text transform="translate(1035.5 130.83) rotate(-90)" x="0" font-size="55.5">)</text>
</g>
<g id="legend" shape-rendering="crispEdges">
<rect x="1267.3" y="746.8" width="29" height="29" fill="#000000"/>
<circle cx="1281.8" cy="849.2" r="16.3" fill="#ff0000"/>
<polygon points="1262.5,949.8 1301.1,949.8 1281.8,916.2" fill="#0000ff"/>
<polygon points="1262.5,1016 1301.1,1016 1281.8,1049.6" fill="#ff00ff"/>
<polygon points="1569.9,760.3 1590.2,740 1610.5,760.3 1590.2,780.6" fill="#008000"/>
<polygon points="1601.4,829.9 1601.4,868.5 1567.8,849.2" fill="#000080"/>
<polygon points="1579,918.8 1579,957.4 1612.6,938.1" fill="#8000ff"/>
<clipPath id="k19"><path clip-rule="evenodd" d="M-400 -400H904.03 V400 H-400Z M5.88 -5.98 H20.36 V3 H5.88 Z M27.02 -5.98 H40.93 V3 H27.02 Z"/></clipPath>
<text transform="translate(1383.2 785) scale(1 1.036)" x="0" font-size="72" clip-path="url(#k19)"><tspan dx="2.4">1</tspan><tspan dx="-2.4"> </tspan><tspan dx="2.8">T</tspan></text>
<text transform="translate(1383.2 874.3) scale(1 1.036)" x="0" font-size="72">2 <tspan dx="2.8">T</tspan></text>
<text transform="translate(1383.2 963.6) scale(1 1.036)" x="0" font-size="72">3 <tspan dx="2.8">T</tspan></text>
<text transform="translate(1383.2 1052.2) scale(1 1.036)" x="0" font-size="72">4 <tspan dx="2.8">T</tspan></text>
<text transform="translate(1691.2 785) scale(1 1.036)" x="0" font-size="72">5 <tspan dx="2.6">T</tspan></text>
<text transform="translate(1691.2 874.3) scale(1 1.036)" x="0" font-size="72">6 <tspan dx="2.6">T</tspan></text>
<text transform="translate(1691.2 963.6) scale(1 1.036)" x="0" font-size="72">7 <tspan dx="2.6">T</tspan></text>
</g>
</svg>
</body></html>
